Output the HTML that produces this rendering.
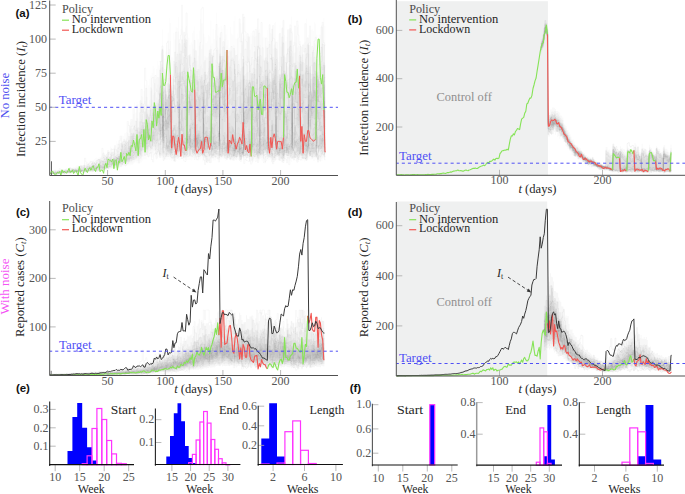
<!DOCTYPE html>
<html><head><meta charset="utf-8"><style>
html,body{margin:0;padding:0;background:#fff;}
body{width:685px;height:494px;overflow:hidden;}
svg{display:block;}
text{font-family:"Liberation Serif",serif;}
.sans{font-family:"Liberation Sans",sans-serif;font-weight:bold;}
</style></head><body>
<svg width="685" height="494" viewBox="0 0 685 494">
<rect width="685" height="494" fill="#fff"/>
<rect x="396.7" y="1.2" width="151.2" height="174.1" fill="#eff0f0"/>
<rect x="396.5" y="201.5" width="150.7" height="174.7" fill="#eff0f0"/>
<path d="M49.9 171.2H51.1V170.9H52.2V170.6H53.4V170.2H54.5V170H55.7V170.6H56.8V170.2H58V169.7H59.2V169.4H60.3V169.7H61.5V169H62.6V168.9H63.8H64.9H66.1V167.8H67.2V168.3H68.4V168H69.5V167.3H70.7V167.5H71.8V167.4H73V166.8H74.1V166.9H75.3V166.1H76.5V164.7H77.6V165H78.8V165.8H79.9V165.2H81.1V164.8H82.2V165.4H83.4V163.7H84.5V162.5H85.7V162.9H86.8V162.3H88V162.5H89.1V161.1H90.3V160.6H91.4V161.3H92.6V160H93.8V159H94.9V158.1H96.1V157.5H97.2V158.2H98.4V157.3H99.5V157.1H100.7V155.4H101.8V153.6H103V153.1H104.1V154.9H105.3V154.3H106.4V152.9H107.6V152.3H108.7V152.5H109.9V146.6H111.1V147.8H112.2V148.5H113.4V147.2H114.5V145.9H115.7V140.7H116.8V143.2H118V139.8H119.1V136.3H120.3V137.4H121.4V135.2H122.6V136H123.7V133.2H124.9V133.1H126V131.9H127.2V122.5H128.4V124.9H129.5V122.3H130.7V120.7H131.8V119H133V114H134.1V102.6H135.3V112.7H136.4V101.6H137.6V104H138.7V111.9H139.9V101.4H141V95.8H142.2V96.8H143.3V91H144.5V84.7H145.7V87.9H146.8V96.8H148V85.2H149.1V79.1H150.3V75.4H151.4V72.8H152.6V65.7H153.7V68.3H154.9V78.8H156V68.7H157.2V60.8H158.3V65.2H159.5V60.5H160.6V52.6H161.8V29.3H163V54.9H164.1V58.5H165.3V51.6H166.4V44.4H167.6V32.7H168.7V18.1H169.9V22.8H171V57.3H172.2V57.2H173.3V33H174.5V39.6H175.6V27H176.8V28.1H177.9V16.7H179.1V39.8H180.3V29.1H181.4V25.4H182.6V30.4H183.7V32.5H184.9V27.5H186V25.8H187.2V33.3H188.3V37.7H189.5V45.1H190.6V42.2H191.8V33H192.9V30.5H194.1V26.5H195.2V50.7H196.4V33.4H197.6V39.2H198.7V30.5H199.9V18.7H201V23.3H202.2V22.8H203.3V33.4H204.5V36.7H205.6V43.1H206.8V41.3H207.9V34.9H209.1V36.3H210.2V20.5H211.4V43.6H212.5V28.8H213.7V38.7H214.9V30H216V12.6H217.2V35.7H218.3V27.3H219.5V33.4H220.6V25.8H221.8V28.6H222.9V42H224.1V39H225.2V34.4H226.4V28.8H227.5V40.1H228.7V47.4H229.8V27H231V33.4H232.2V34.7H233.3V20.9H234.5V15.6H235.6V38.7H236.8V33.5H237.9V38.8H239.1V22.4H240.2V23.3H241.4V32.1H242.5V22.5H243.7V35.4H244.8V38.8H246V42.1H247.1V35.8H248.3V37.5H249.5V35.3H250.6V32.7H251.8V35.2H252.9V35.6H254.1V36.9H255.2V36.1H256.4V27.2H257.5V30.2H258.7V29H259.8V44.9H261V55.6H262.1V37.4H263.3V36.3H264.4V37.2H265.6V46.2H266.8V29.8H267.9V40.8H269.1V28.3H270.2V32.9H271.4V34H272.5V37.5H273.7V22.9H274.8V22H276V50.4H277.1V40H278.3V33.7H279.4V24.6H280.6V46.4H281.7V26.7H282.9V20.6H284V34.8H285.2V41.3H286.4V37.1H287.5V29.8H288.7V28.3H289.8V30.1H291V16.6H292.1V31H293.3V41.7H294.4V41.8H295.6V35.4H296.7V26.7H297.9V24.6H299V41H300.2V41.1H301.3V47.1H302.5V43.5H303.7V42.5H304.8V41.4H306V18.5H307.1V37.6H308.3V34.7H309.4V41.7H310.6V29.8H311.7V29H312.9V30.8H314V22.3H315.2V23.4H316.3V34.8H317.5V44.7H318.6V34.5H319.8V35.1H321V24.9H322.1V23.4H323.3V17.7H324.4V25.7H325.6V159.8H324.4V158.7H323.3V161.2H322.1V159.3H321V160.8H319.8V161.7H318.6V162.2H317.5V160.8H316.3V159.8H315.2V161H314H312.9V159.4H311.7V160.1H310.6V159.6H309.4V159.7H308.3V160.5H307.1V161.2H306V160.9H304.8V162.3H303.7V160.6H302.5V161H301.3V160.7H300.2V159.6H299V162.1H297.9V161.5H296.7H295.6V160.7H294.4V160.5H293.3V159.3H292.1V162H291V160.7H289.8V161.2H288.7V159.3H287.5V161.1H286.4V160.8H285.2V160.9H284V161.1H282.9H281.7V160.3H280.6V160.6H279.4V160.3H278.3V159.7H277.1V160.1H276V160.4H274.8V161.4H273.7V161.2H272.5V161.3H271.4V160.3H270.2V160H269.1V160.5H267.9V159.4H266.8V160.8H265.6V160.5H264.4V159.6H263.3V160.7H262.1V160.5H261V158.8H259.8V160.6H258.7V161.4H257.5V159.1H256.4V159.2H255.2V159.4H254.1V161.2H252.9V161.7H251.8V161.5H250.6V159.5H249.5V159.3H248.3V158.2H247.1V160.7H246V159.5H244.8V160.2H243.7V158.4H242.5V158.5H241.4V159.9H240.2V160.2H239.1V159.9H237.9V159.7H236.8V160.5H235.6V158.3H234.5V159.3H233.3V160H232.2V160.5H231V160H229.8V159.7H228.7V159H227.5V159.5H226.4V161.2H225.2V159.4H224.1V159.2H222.9V158.4H221.8V159.4H220.6V159.5H219.5V160H218.3H217.2V158.9H216V160.6H214.9V160.5H213.7V161H212.5V158.7H211.4V158.8H210.2V161.5H209.1V159.8H207.9V160.6H206.8V161.6H205.6V161.4H204.5V161.1H203.3V161.5H202.2V158.4H201V159.4H199.9V159.7H198.7V161.1H197.6V159.8H196.4V158.7H195.2V157.7H194.1V158.3H192.9V160.3H191.8V160.6H190.6V159.9H189.5V160.1H188.3V159.9H187.2V160.1H186V160.3H184.9V159.5H183.7V158.5H182.6V159.1H181.4V159.3H180.3V160.1H179.1V160.3H177.9V159H176.8V161.1H175.6V161.3H174.5V161.1H173.3V159.7H172.2V161H171V159.8H169.9V160.1H168.7V159.4H167.6V160.5H166.4V159.9H165.3V160.6H164.1V160.9H163V158.1H161.8V158.3H160.6V157.3H159.5V157H158.3V158.2H157.2V158H156V157H154.9V155.8H153.7V157.5H152.6V158.2H151.4V157.1H150.3V156.1H149.1V157.3H148V157.2H146.8V159.6H145.7V159.5H144.5H143.3V160.8H142.2V162.6H141V161.5H139.9V162.2H138.7V164.2H137.6V162.9H136.4V162.2H135.3V163.3H134.1V164.2H133V164.9H131.8V165.2H130.7V165.5H129.5V165.2H128.4V165.6H127.2V165.9H126V166H124.9V165.9H123.7V166.8H122.6V167.3H121.4V167.5H120.3V168.2H119.1V168.3H118V167.9H116.8V168.2H115.7V168.8H114.5V169.3H113.4V168.3H112.2V169.1H111.1V169.6H109.9V170H108.7H107.6V170.6H106.4V170.5H105.3H104.1V170.7H103V170.8H101.8V171H100.7V171.6H99.5V171.3H98.4V171.9H97.2V171.6H96.1V171.7H94.9V171.9H93.8V172.1H92.6V172.2H91.4V172.1H90.3V172H89.1V172.5H88V172.6H86.8H85.7V172.5H84.5V173H83.4V172.7H82.2V172.9H81.1V173H79.9V172.8H78.8V172.9H77.6V173.2H76.5V173.1H75.3V173.4H74.1V173.5H73V173.6H71.8V173.9H70.7V173.7H69.5V173.6H68.4V173.8H67.2H66.1H64.9V174.1H63.8V173.9H62.6V174H61.5V174.1H60.3H59.2H58H56.8H55.7H54.5V174.3H53.4V174.1H52.2V174.3H51.1V174.2H49.9Z" fill="#000" fill-opacity="0.012"/><path d="M49.9 171.7H51.1V171.3H52.2H53.4V171H54.5V170.6H55.7V171.1H56.8V170.8H58V170.5H59.2V170.1H60.3V170.4H61.5V169.8H62.6V169.5H63.8V169.8H64.9V169.6H66.1V168.8H67.2V169.1H68.4V168.9H69.5V168.2H70.7H71.8V168.4H73V168.2H74.1H75.3V168H76.5V167.3H77.6V166.9H78.8H79.9V166.4H81.1V166.3H82.2V166.4H83.4V165.2H84.5H85.7V165.4H86.8V164.4H88V164.3H89.1V164.2H90.3V164.1H91.4V163.1H92.6V162.2H93.8V161.9H94.9V161.1H96.1V160.7H97.2V160H98.4V159.3H99.5V158.8H100.7V159H101.8V158.3H103V157.2H104.1V157.3H105.3V156.9H106.4V156.6H107.6V155.7H108.7V155.8H109.9V153.5H111.1V152.5H112.2V151.4H113.4V150.3H114.5V149.5H115.7V148.9H116.8V147.2H118V147H119.1V142.6H120.3V144.3H121.4V141.9H122.6V141.8H123.7V140.2H124.9V140.5H126V137.8H127.2V132.8H128.4V133.7H129.5V129.1H130.7V127.6H131.8V128.2H133V126.2H134.1V124.4H135.3V121H136.4V117.7H137.6V118.4H138.7V120.9H139.9V114.4H141V108.9H142.2V107H143.3V103.8H144.5V101.1H145.7V96.4H146.8V104.8H148V104.5H149.1V99.8H150.3V91.1H151.4V89.2H152.6V84.3H153.7V83.6H154.9V92H156V88.6H157.2V84.5H158.3V76.9H159.5V68.2H160.6V64.2H161.8V48.5H163V80.7H164.1V71.4H165.3V69.3H166.4V67H167.6V52.3H168.7V49H169.9V41.1H171V74.7H172.2V73.6H173.3V64H174.5V63.8H175.6V56.4H176.8V52.6H177.9V31.6H179.1V60.5H180.3V59.1H181.4V45.6H182.6V55.6H183.7V48.8H184.9V40.5H186V42.1H187.2V55.8H188.3V55.5H189.5V56.3H190.6V56.6H191.8V44.2H192.9V48.7H194.1V40.5H195.2V60.8H196.4V60.6H197.6V55.6H198.7V45.8H199.9V42.3H201V49H202.2V44.6H203.3V61.7H204.5V55.9H205.6V57.3H206.8V57.5H207.9V56.5H209.1V51H210.2V45.4H211.4V57.2H212.5V52.9H213.7V52.2H214.9V59.7H216V40.4H217.2V47.5H218.3V49.4H219.5V56.4H220.6V60.3H221.8V58.3H222.9V55.8H224.1V59.6H225.2V53.6H226.4V45.6H227.5V56.8H228.7V62.2H229.8V50.6H231V50.7H232.2V57.2H233.3V45.2H234.5V50.3H235.6V55H236.8V53.9H237.9V60.4H239.1V58.4H240.2V52.7H241.4V45.1H242.5V38.2H243.7V62.8H244.8V60.7H246V61.3H247.1V56.3H248.3V58.3H249.5V49.7H250.6V44.1H251.8V56.7H252.9V59H254.1V51.7H255.2V58H256.4V45.7H257.5V44.8H258.7V47.1H259.8V65.5H261V66.3H262.1V59.6H263.3V58.4H264.4V57.6H265.6V60.1H266.8V54.3H267.9V61.9H269.1V49.2H270.2V57.5H271.4V56.4H272.5V48.6H273.7V44.5H274.8V41.4H276V65.4H277.1V57.3H278.3V62H279.4V56.3H280.6V56.4H281.7V41.5H282.9V42.1H284V54.5H285.2V57.2H286.4V52.8H287.5V52.7H288.7V46.9H289.8V41.5H291V39.8H292.1V56.4H293.3V53.1H294.4V52.2H295.6V43H296.7V47.6H297.9V45.7H299V51.2H300.2V54.8H301.3V62H302.5V59.9H303.7V62.9H304.8V58.7H306V53.8H307.1V44.7H308.3V46.3H309.4V53.8H310.6V56.8H311.7V52H312.9V47.6H314V42.7H315.2V44.6H316.3V59.1H317.5V55.5H318.6V57.5H319.8V53.2H321V46.9H322.1V44H323.3V39.9H324.4V66H325.6V157.5H324.4V156.9H323.3V158H322.1V157.3H321V157.9H319.8V158.6H318.6V159.2H317.5V157.6H316.3V157.9H315.2V157.4H314V157.6H312.9V157.7H311.7V156.7H310.6V157.1H309.4V157.7H308.3V158.8H307.1V158.4H306V158.6H304.8V158.9H303.7V158.8H302.5V158.2H301.3V158.1H300.2V158.2H299V158.8H297.9V158.6H296.7V157.8H295.6V158.3H294.4V157.2H293.3V157.6H292.1V158.5H291V158.1H289.8V158.9H288.7V157.4H287.5V158.1H286.4V157.5H285.2V158.1H284V158.4H282.9V158.8H281.7V157.7H280.6V156.9H279.4V158.5H278.3V156.9H277.1V156.7H276V158.5H274.8V157.8H273.7V159.3H272.5V157.7H271.4V157.9H270.2H269.1V157.2H267.9V157.8H266.8V157.9H265.6H264.4V158.2H263.3V157.5H262.1V158.1H261V157.3H259.8V157.9H258.7V158.9H257.5V157.4H256.4V157H255.2V157.8H254.1V159H252.9V157.3H251.8V158H250.6V156.7H249.5V157H248.3V156.5H247.1V158.4H246V156.6H244.8V157.9H243.7V157.2H242.5V156.2H241.4V158.3H240.2V157.5H239.1V156.7H237.9V157.6H236.8V157.2H235.6V156.8H234.5V157H233.3V158.5H232.2V158.3H231V157.5H229.8V156.4H228.7V157.7H227.5V157.4H226.4V157.8H225.2V156.8H224.1V156.3H222.9V156.1H221.8V157.6H220.6V156.5H219.5V158H218.3V158.6H217.2V156.3H216V157.7H214.9V157.5H213.7V158.3H212.5V157H211.4V157.2H210.2H209.1V158.5H207.9V157.2H206.8V158.5H205.6V158.2H204.5V158.5H203.3V157.2H202.2V155.5H201V156.8H199.9V157.4H198.7H197.6V157.3H196.4V157.7H195.2V155.3H194.1V156H192.9V156.7H191.8V157.4H190.6V157H189.5V157.3H188.3V157H187.2V157.5H186V158.1H184.9V158H183.7V156.9H182.6V157H181.4V157.1H180.3V156.9H179.1V158.2H177.9V157.4H176.8V157.8H175.6H174.5V157.7H173.3V158H172.2V158.8H171V157.3H169.9V156.8H168.7V157.1H167.6V157.3H166.4V157.2H165.3V157H164.1V156.5H163V155.6H161.8V154.4H160.6V154.7H159.5V154.8H158.3V152.9H157.2V154.9H156V153.6H154.9V151H153.7V153.4H152.6V153.3H151.4V153.8H150.3H149.1V154.3H148V155.2H146.8V154.9H145.7V155.5H144.5V155.8H143.3V156.9H142.2V159.6H141V158.9H139.9V158.8H138.7V161.3H137.6V161H136.4V160.5H135.3V161.7H134.1V162.5H133V163.4H131.8V163.6H130.7V163.4H129.5V163.7H128.4V164.4H127.2V164.6H126V164.9H124.9H123.7V165.4H122.6V165.8H121.4V166.3H120.3V166.5H119.1V166.8H118H116.8V167.4H115.7V167.8H114.5V167.9H113.4V168.1H112.2V168.3H111.1V168.7H109.9V169.2H108.7H107.6V169.4H106.4V169.7H105.3V169.8H104.1V170.1H103H101.8H100.7V170.8H99.5H98.4V171.3H97.2H96.1H94.9V171.5H93.8H92.6H91.4V171.7H90.3V171.8H89.1V171.9H88V172.1H86.8V171.9H85.7V172.1H84.5V172.3H83.4H82.2V172.5H81.1V172.4H79.9V172.5H78.8V172.6H77.6V172.9H76.5V172.8H75.3V173H74.1V173.1H73V173.2H71.8V173.4H70.7H69.5H68.4V173.5H67.2H66.1V173.7H64.9H63.8V173.8H62.6V173.9H61.5V173.8H60.3V173.9H59.2H58H56.8H55.7V174H54.5V174.1H53.4V174H52.2V174.1H51.1V174H49.9Z" fill="#000" fill-opacity="0.015"/><path d="M49.9 172H51.1V171.9H52.2V171.8H53.4V171.6H54.5V171.4H55.7V171.6H56.8V171.3H58V171H59.2V170.9H60.3V170.8H61.5V170.5H62.6V170.1H63.8V170.3H64.9V170.1H66.1V169.8H67.2H68.4V169.5H69.5V169.4H70.7H71.8V169.1H73V169H74.1V168.8H75.3V168.7H76.5V168.4H77.6V168.2H78.8V167.5H79.9V167.7H81.1V167.4H82.2V167.6H83.4V166.9H84.5V166.7H85.7V166.5H86.8V166H88V165.8H89.1V165.7H90.3V165.2H91.4V164.7H92.6V163.9H93.8V163.7H94.9V163.1H96.1V162.8H97.2V162.7H98.4V161.9H99.5V161H100.7V160.6H101.8V160.7H103V159.2H104.1V159.1H105.3V158.6H106.4V158.9H107.6V158.2H108.7V157.3H109.9V156.8H111.1V155.7H112.2V155.5H113.4V154.2H114.5V152.7H115.7V152.6H116.8V151.9H118V150.9H119.1V149.2H120.3V148.5H121.4V146.3H122.6V145.8H123.7V145H124.9V144.9H126V142.5H127.2V141.2H128.4V139.3H129.5V135.8H130.7V132.8H131.8V133.6H133V133H134.1V130H135.3V127H136.4V128H137.6V127.2H138.7V127.7H139.9V121.3H141V119H142.2V115.5H143.3V110.9H144.5V112.3H145.7V106.4H146.8V112.4H148V110.1H149.1V106.3H150.3V104.4H151.4V99.7H152.6V94.8H153.7V93H154.9V102.4H156V97.6H157.2V90.4H158.3V90.6H159.5V85.5H160.6V80.1H161.8V64.5H163V92.1H164.1V81.8H165.3V82.5H166.4V83.8H167.6V78.1H168.7V66.9H169.9V62.5H171V89.5H172.2V87.2H173.3V79.7H174.5V77.4H175.6V74.3H176.8V67.3H177.9V60H179.1V73.5H180.3V72.1H181.4V70.2H182.6V68.4H183.7V67.3H184.9V55.5H186V62.8H187.2V69.7H188.3V72.2H189.5V68.3H190.6V70H191.8V61.4H192.9V62.4H194.1V58H195.2V75.8H196.4V76H197.6V64.6H198.7V69.3H199.9V65.9H201V64.5H202.2V68.3H203.3V73.8H204.5V71.9H205.6V74H206.8V75.6H207.9V68H209.1V66.3H210.2V56.5H211.4V71.2H212.5V63.3H213.7V72.2H214.9V71.2H216V64.8H217.2V61.5H218.3V63.7H219.5V65.8H220.6V68.1H221.8V69.8H222.9V70.4H224.1V68.9H225.2V69.1H226.4V59.7H227.5V77.8H228.7V76.5H229.8V76.9H231V71.2H232.2V68.5H233.3V60.2H234.5V63.3H235.6V73.9H236.8V70.9H237.9V69.7H239.1V71.3H240.2V68H241.4V67.2H242.5V59H243.7V76.2H244.8V73.9H246V72.7H247.1V71.9H248.3V72H249.5V70.4H250.6V62.4H251.8V73H252.9V72.1H254.1V67.7H255.2V68.8H256.4V63.9H257.5V59.2H258.7V58.4H259.8V77.5H261V79.9H262.1V73.2H263.3V73.6H264.4V74.6H265.6V70.9H266.8V70.7H267.9V73.7H269.1V68.9H270.2V70.4H271.4H272.5V63.1H273.7V58.4H274.8V62.1H276V75.3H277.1V76H278.3V74.1H279.4V68.4H280.6V66.1H281.7V63.5H282.9V58.5H284V73.4H285.2V71.8H286.4V66H287.5V67.2H288.7V63.4H289.8V56.1H291V53.3H292.1V76.5H293.3V68.9H294.4V65.8H295.6V65.2H296.7V60.5H297.9V61.8H299V62.8H300.2V73.3H301.3V77.9H302.5V73.4H303.7V70H304.8V71.7H306V66.8H307.1V64.4H308.3V67.3H309.4V69.2H310.6V74H311.7V64.4H312.9V61.9H314V61.8H315.2V61H316.3V72.4H317.5V71.1H318.6V72H319.8V68.7H321V64.4H322.1V56.2H323.3V55.9H324.4V74.2H325.6V153.8H324.4V155.2H323.3V155.6H322.1V154.9H321V155.5H319.8V155.2H318.6V155.9H317.5V155.3H316.3V155H315.2V154.7H314H312.9V155.6H311.7V154.2H310.6V154.3H309.4H308.3V157.1H307.1V156.9H306V156.4H304.8V156.9H303.7V156.1H302.5H301.3V155.5H300.2V154.9H299V154.7H297.9V156.3H296.7V155.4H295.6V155.7H294.4V155.5H293.3V155.2H292.1V155H291V155.7H289.8V155H288.7V155.5H287.5V155.6H286.4V155.2H285.2V155.1H284V155.9H282.9V155H281.7V155.3H280.6V155.4H279.4V155.2H278.3V155.3H277.1V154.8H276V156H274.8V155H273.7V155.3H272.5H271.4V155H270.2V154.9H269.1V154.7H267.9V155.3H266.8V155.1H265.6V154.9H264.4V155.7H263.3V155.3H262.1V155.4H261V155H259.8V155.5H258.7V155.8H257.5V155.5H256.4V154.4H255.2V156H254.1V155.7H252.9H251.8V155.1H250.6V155.2H249.5V154.8H248.3V155H247.1V154.9H246V154.8H244.8V155.7H243.7V155.3H242.5V153.8H241.4V155.5H240.2V154.7H239.1V154.8H237.9V154.9H236.8V155.4H235.6V154.8H234.5V155.4H233.3V155.1H232.2V155.5H231V155H229.8V154.5H228.7V155H227.5V154.7H226.4H225.2V154.6H224.1V153.9H222.9V154.2H221.8V155.3H220.6V154.6H219.5V155.6H218.3V155.4H217.2V154.1H216V155.6H214.9V155.4H213.7V155.5H212.5V154.7H211.4V155.2H210.2V155.3H209.1V156.6H207.9V155.3H206.8V156.1H205.6V156.3H204.5V155.1H203.3V154.4H202.2V153.8H201V154.5H199.9V154.6H198.7V155.3H197.6V154.9H196.4V155.7H195.2V153.5H194.1V152.9H192.9V153.6H191.8V154.5H190.6H189.5V154.7H188.3V154.3H187.2V155.4H186V154.7H184.9V155.8H183.7V154H182.6V154.7H181.4V154.6H180.3V153.9H179.1V155.8H177.9V156.2H176.8V155.3H175.6V155.6H174.5V154.7H173.3V156.1H172.2V156.4H171V155.3H169.9V153.9H168.7V154.8H167.6V154.9H166.4V155.3H165.3V154.4H164.1V154.5H163V150.2H161.8V150.5H160.6V150.8H159.5V149.7H158.3V150.3H157.2V149.3H156V150.6H154.9V147H153.7V150.1H152.6V149.8H151.4V151.1H150.3V151.3H149.1V150.6H148V151.9H146.8V150.8H145.7V152.3H144.5V152.7H143.3V153.3H142.2V155.5H141V156.9H139.9H138.7V157.8H137.6V158.7H136.4V158.5H135.3V159.7H134.1V159.9H133V161H131.8V161.7H130.7V162H129.5V162.4H128.4V163.1H127.2V163.5H126V163.8H124.9V164.2H123.7V164.4H122.6V165.3H121.4V165H120.3V165.3H119.1V165.9H118V165.7H116.8V166.7H115.7V167.1H114.5V167.2H113.4V167.3H112.2V167.5H111.1V167.9H109.9V168.3H108.7V168.6H107.6V168.8H106.4V169H105.3V169.2H104.1V169.5H103V169.8H101.8V169.6H100.7V170.1H99.5V170.4H98.4V170.7H97.2V170.8H96.1H94.9V171H93.8V171.1H92.6H91.4V171.4H90.3H89.1V171.6H88V171.7H86.8H85.7V171.8H84.5V171.7H83.4V171.9H82.2V172H81.1V172.3H79.9V172.1H78.8V172.4H77.6V172.5H76.5H75.3V172.7H74.1V172.8H73H71.8V173H70.7V173.2H69.5V173.1H68.4V173.2H67.2V173.3H66.1V173.4H64.9V173.5H63.8V173.6H62.6H61.5H60.3V173.7H59.2V173.8H58H56.8H55.7V173.9H54.5H53.4H52.2H51.1H49.9Z" fill="#000" fill-opacity="0.017"/><path d="M49.9 172.4H51.1V172.3H52.2V172.1H53.4H54.5V172H55.7V171.9H56.8V171.7H58V171.5H59.2V171.2H60.3V171.3H61.5V171H62.6V170.7H63.8V170.9H64.9V170.6H66.1V170.5H67.2V170.3H68.4V170.1H69.5V170H70.7V170.1H71.8V169.8H73V169.5H74.1V169.4H75.3V169.3H76.5V169.2H77.6V168.7H78.8V168.4H79.9V168.6H81.1V168.3H82.2V168.2H83.4V167.7H84.5H85.7V167.3H86.8V167.1H88V166.8H89.1V166.6H90.3V166.5H91.4V165.9H92.6V165.4H93.8V165.2H94.9V164.7H96.1V164.2H97.2V164.1H98.4V163.7H99.5V162.2H100.7H101.8V161.7H103V161.3H104.1V161.4H105.3V160.7H106.4V160.5H107.6V159.7H108.7V159.4H109.9V158.5H111.1V157.8H112.2V157.2H113.4V156.5H114.5V155.5H115.7V155.2H116.8V154.1H118V154H119.1V153.2H120.3V152.2H121.4V150H122.6V149.5H123.7V148.4H124.9V147.2H126V146.2H127.2V144.9H128.4V142.4H129.5V141.6H130.7V139.8H131.8V138.4H133V135.9H134.1V135.7H135.3V133.1H136.4V133.6H137.6V131.2H138.7V131H139.9V127.6H141V125.3H142.2V122.1H143.3V121.5H144.5V120.1H145.7V115.3H146.8V119.9H148V117H149.1V113.5H150.3V109.6H151.4V109.1H152.6V103.5H153.7V103.9H154.9V108.2H156V105.4H157.2V101.3H158.3V99.7H159.5V93.6H160.6V86.5H161.8V77.6H163V104.3H164.1V96.8H165.3V94.6H166.4V94.8H167.6V91.5H168.7V83.7H169.9V81.9H171V100.3H172.2V97.3H173.3V94.2H174.5V86.6H175.6V88.5H176.8V83.9H177.9V78.9H179.1V86.3H180.3V84.6H181.4V80.7H182.6V76.7H183.7V80.1H184.9V71.9H186V78.4H187.2V81.9H188.3V84.7H189.5V78.8H190.6V80.6H191.8V74.7H192.9V73.7H194.1V73.1H195.2V92.6H196.4V86.9H197.6V81.3H198.7V81.4H199.9V79.6H201V77.2H202.2V80.9H203.3V89.5H204.5V86.8H205.6V85H206.8V83.3H207.9V82.1H209.1V77.9H210.2V76.4H211.4V87.5H212.5V86.1H213.7V83H214.9V80.5H216V78.3H217.2V75.7H218.3V71.4H219.5V84.6H220.6V82.7H221.8V83H222.9V79.4H224.1V81H225.2V78.2H226.4V72.1H227.5V91.2H228.7V87.4H229.8V88.2H231V84.2H232.2V80.8H233.3V79.2H234.5V73.9H235.6V83.3H236.8V82.4H237.9V81.8H239.1V85H240.2V79.4H241.4V79.8H242.5V74.4H243.7V90.3H244.8V84.8H246V82.3H247.1V84.6H248.3V81.6H249.5V79.9H250.6V73.5H251.8V88H252.9V87.5H254.1V84.8H255.2V81.7H256.4V77.7H257.5V76.4H258.7V76.2H259.8V91.5H261V91H262.1V84.5H263.3V86H264.4V87H265.6V86H266.8V85.5H267.9V87.9H269.1V79.6H270.2V81.3H271.4V84.9H272.5V82H273.7V76.3H274.8V76.2H276V86.1H277.1V88.7H278.3V83.1H279.4V77.3H280.6V78.5H281.7V72.7H282.9V73.2H284V85.8H285.2V83.6H286.4V83.8H287.5V79.8H288.7V78.4H289.8V72.3H291V69.7H292.1V85.4H293.3V83H294.4V78.9H295.6V78.8H296.7V75.7H297.9V78.5H299V73.6H300.2V87.4H301.3V91.8H302.5V83.5H303.7V82.2H304.8V80.5H306V78.9H307.1V78.4H308.3V84H309.4V81.2H310.6V83.4H311.7V78.2H312.9V74.1H314V72.2H315.2V71.1H316.3V84.3H317.5V81.8H318.6V82.5H319.8V80.6H321V77.7H322.1V72.3H323.3V68.6H324.4V84.1H325.6V151.5H324.4V152.7H323.3V152.9H322.1V151.8H321V151.9H319.8H318.6V152.2H317.5V152.3H316.3V152.4H315.2V152.5H314V152.6H312.9H311.7V152.4H310.6V152.3H309.4V151.9H308.3V153.9H307.1V154.2H306V153.6H304.8H303.7V153.4H302.5V152.7H301.3V153.3H300.2V152.7H299V152.3H297.9V153.2H296.7V152.6H295.6V153.3H294.4V152.7H293.3H292.1V152.2H291V153H289.8V152.6H288.7V152.5H287.5V152.6H286.4V152.7H285.2V152.6H284V152.8H282.9V152.3H281.7V152.9H280.6V152.8H279.4H278.3V152.7H277.1V152.4H276V153.1H274.8H273.7V151.5H272.5V152.6H271.4V152.2H270.2V151.6H269.1V151.9H267.9V152.9H266.8V152.7H265.6V153H264.4V152.6H263.3V153.7H262.1V152.9H261V153H259.8V152.9H258.7V152.8H257.5V152.5H256.4V152.4H255.2V153.8H254.1V153.6H252.9V152.7H251.8V152.6H250.6V152.3H249.5V152.4H248.3H247.1V152.5H246V152.7H244.8V153.4H243.7V152.4H242.5V151.8H241.4V152.9H240.2V152.7H239.1V152.5H237.9V152.6H236.8V151.8H235.6V152.5H234.5V152.3H233.3V152.5H232.2V153.4H231V152.8H229.8V151.6H228.7V152.6H227.5V151.6H226.4V152.5H225.2V152.4H224.1V152.3H222.9V152.4H221.8V153H220.6V152.4H219.5V152.9H218.3V152.7H217.2V152H216V152.2H214.9V153H213.7V152.3H212.5V151.3H211.4V153H210.2V153.1H209.1V153.5H207.9V153.1H206.8V153.3H205.6V153.7H204.5V153.2H203.3V152.6H202.2V152.1H201V151.7H199.9V151.9H198.7V152.2H197.6V152.5H196.4V152H195.2V150.8H194.1V150H192.9V150.6H191.8V150.8H190.6V151.9H189.5V151.3H188.3V151.5H187.2V152.2H186V152.7H184.9V153.3H183.7V151.8H182.6V152.2H181.4V151.8H180.3V151.6H179.1V152.9H177.9V154.3H176.8V153H175.6V152.7H174.5H173.3V152.9H172.2V154.1H171V152.6H169.9V151.4H168.7V151.2H167.6V152.4H166.4H165.3V151.3H164.1V152H163V142.9H161.8V145H160.6V145.1H159.5V145.8H158.3V147.5H157.2V145.9H156V146.6H154.9V143.9H153.7V145H152.6V145.9H151.4V147H150.3V146.8H149.1V147.1H148V148.8H146.8V149.1H145.7V149.8H144.5V150.3H143.3V151.5H142.2V152.6H141V154.2H139.9V154.1H138.7V155.1H137.6V156.6H136.4V156.9H135.3V157.8H134.1V158.7H133V159H131.8V160.5H130.7V160.2H129.5V160.6H128.4V161.6H127.2V162.2H126V162.4H124.9V163.1H123.7V163.5H122.6V164.4H121.4V164H120.3V164.4H119.1V164.8H118H116.8V165.7H115.7V165.9H114.5H113.4V166.5H112.2V166.8H111.1V166.9H109.9V167.4H108.7V168H107.6V168.1H106.4V168.2H105.3V168.4H104.1V168.9H103V169.1H101.8V168.7H100.7V169.6H99.5V169.9H98.4V170H97.2V170.2H96.1V170.4H94.9V170.5H93.8H92.6V170.7H91.4V170.8H90.3V171.1H89.1H88V171.3H86.8H85.7V171.4H84.5V171.3H83.4V171.6H82.2V171.8H81.1V171.9H79.9H78.8V172.1H77.6H76.5V172.2H75.3V172.4H74.1V172.6H73H71.8V172.7H70.7V172.8H69.5H68.4V172.9H67.2V173.1H66.1V173.2H64.9V173.3H63.8H62.6V173.5H61.5V173.4H60.3V173.5H59.2V173.6H58H56.8V173.7H55.7H54.5H53.4V173.8H52.2H51.1H49.9Z" fill="#000" fill-opacity="0.019"/><path d="M49.9 172.7H51.1H52.2V172.5H53.4H54.5V172.3H55.7V172.2H56.8V172.1H58H59.2V171.7H60.3H61.5V171.5H62.6V171.3H63.8H64.9V171.1H66.1V171H67.2V170.9H68.4V170.8H69.5V170.5H70.7H71.8V170.3H73V169.9H74.1V169.8H75.3V170H76.5V169.8H77.6V169.5H78.8V169.2H79.9H81.1V169H82.2V168.9H83.4V168.7H84.5V168.4H85.7V168.2H86.8V168.1H88V167.8H89.1H90.3V167.3H91.4V167H92.6V166.2H93.8V166.3H94.9V166.1H96.1V165.5H97.2V165.2H98.4V164.9H99.5V163.6H100.7V163.5H101.8V162.9H103V162.6H104.1V162.7H105.3V162.3H106.4V161.7H107.6V161.4H108.7V160.9H109.9V160.2H111.1H112.2V159.5H113.4V158.7H114.5V158.4H115.7V157.5H116.8V156.8H118V156H119.1V155.8H120.3V154.6H121.4V153H122.6V152.4H123.7V151.1H124.9V151H126V150.3H127.2V147.8H128.4V147.2H129.5V145.4H130.7V144.2H131.8V142.7H133V140.3H134.1V141.4H135.3V139.4H136.4V137H137.6V137.1H138.7V134.6H139.9V132.7H141V131.7H142.2V129.3H143.3V128.2H144.5V126.5H145.7V122.5H146.8V124.6H148V123.1H149.1V122.2H150.3V118.4H151.4V116.8H152.6V112.7H153.7V112.1H154.9V114.8H156V112.7H157.2V110.7H158.3V107.6H159.5V102.8H160.6V98.4H161.8V92.2H163V116H164.1V110.1H165.3V105H166.4V106.1H167.6V100.2H168.7V94H169.9V94.2H171V110.6H172.2V108.9H173.3V109.6H174.5V104.4H175.6V105.5H176.8V101.4H177.9V99.4H179.1H180.3V95.5H181.4V93.9H182.6V88.5H183.7V94.1H184.9V88.1H186V92.4H187.2V93H188.3V93.9H189.5V92.5H190.6V90.9H191.8V88.4H192.9V84.2H194.1V85.3H195.2V101.2H196.4V99.8H197.6V96.3H198.7V96.9H199.9V95.6H201V92.2H202.2V92.5H203.3V99.5H204.5V98.9H205.6V97.4H206.8V97.9H207.9V98.8H209.1V91.9H210.2V92.9H211.4V98.6H212.5V98H213.7V95.2H214.9V91.8H216V88.7H217.2V92.4H218.3V86.7H219.5V97.8H220.6V95.1H221.8V95.8H222.9V93.2H224.1V91.5H225.2V90.9H226.4V86.8H227.5V101.9H228.7V99.9H229.8V99H231V97.6H232.2V93.8H233.3V92.2H234.5V92.6H235.6V99.9H236.8V96.9H237.9V96.1H239.1H240.2V96.2H241.4V92.8H242.5V87.9H243.7V101.2H244.8V98H246V92.7H247.1V98.3H248.3V92.2H249.5V92.8H250.6V90.9H251.8V100.8H252.9V98.6H254.1V96.4H255.2H256.4V92.2H257.5V91.1H258.7V90.2H259.8V104.2H261H262.1V100.6H263.3V103.7H264.4V98.6H265.6V101.9H266.8V100.1H267.9V98.3H269.1V91.6H270.2V95.5H271.4V98.4H272.5V92.6H273.7V87.7H274.8V86.1H276V101.7H277.1V99.9H278.3V96.6H279.4V92.9H280.6V92H281.7V90.7H282.9V87.9H284V95.3H285.2V98.2H286.4V97H287.5V95.6H288.7V93H289.8V89.6H291V86.9H292.1V97.8H293.3V97.3H294.4V92H295.6V91.8H296.7V89.7H297.9V91.4H299V88H300.2V101.8H301.3V103.6H302.5V99.9H303.7V98.3H304.8V97.1H306V92.7H307.1V94.4H308.3V95.4H309.4V93.5H310.6V94H311.7V92.3H312.9V89.8H314V90.3H315.2V88.6H316.3V95.9H317.5V95.1H318.6V95.8H319.8V94.7H321V92.7H322.1V88.6H323.3V85.4H324.4V96.9H325.6V148.2H324.4V148.8H323.3V148.7H322.1V148.9H321V148.5H319.8H318.6V148.6H317.5V148.5H316.3V150H315.2V149.8H314V149.5H312.9V148.9H311.7V150.3H310.6V149.6H309.4V149H308.3V150.1H307.1V150.2H306V150.8H304.8V150H303.7V150.1H302.5V150.4H301.3V150.7H300.2V149.7H299V149.6H297.9H296.7V149.3H295.6V149.4H294.4V150.1H293.3V149.5H292.1V149.3H291V150H289.8V149.8H288.7V149.1H287.5V149.2H286.4H285.2V149.6H284V149.7H282.9V149.3H281.7V149.6H280.6V149.9H279.4V150H278.3V149.7H277.1V148H276V149.6H274.8V149.2H273.7V148.7H272.5V148.2H271.4V149.2H270.2V148.3H269.1V147.5H267.9V149.7H266.8V149.3H265.6V149.8H264.4V149.9H263.3V150H262.1V149.4H261V150.1H259.8V149.7H258.7V150.2H257.5V149.7H256.4V149.5H255.2V150.5H254.1V150.7H252.9V149.8H251.8H250.6V149.1H249.5V149.6H248.3V150.1H247.1V149.5H246V149.8H244.8V150.1H243.7V149.2H242.5V149.1H241.4H240.2V150.5H239.1V150.1H237.9V148.9H236.8V149H235.6V149.1H234.5V150H233.3V149.9H232.2V149.7H231V149.4H229.8V149H228.7V149.1H227.5V149H226.4V149.8H225.2V149.4H224.1V148.8H222.9V149.3H221.8V149.2H220.6V149.3H219.5V150.1H218.3V149.5H217.2V148.5H216V149H214.9V149.6H213.7V148.9H212.5V149H211.4V149.8H210.2V150.2H209.1V148.8H207.9V148.9H206.8V150.8H205.6V149.9H204.5V150.5H203.3V149.2H202.2V148.8H201V149.1H199.9H198.7V148.7H197.6V149H196.4V149.4H195.2V147.1H194.1V147.4H192.9V147H191.8V147.4H190.6V147.7H189.5V147.8H188.3V148.6H187.2V149.1H186V149.3H184.9V149.2H183.7V148.5H182.6V149.5H181.4V147.8H180.3V148.1H179.1V150H177.9V151H176.8V150H175.6V149.5H174.5V150H173.3V150.1H172.2V149.7H171V148.6H169.9H168.7V148.8H167.6V149H166.4V148.3H165.3V148.1H164.1V148.2H163V136.7H161.8V137.7H160.6V139.8H159.5V140.9H158.3V141.2H157.2V140.8H156V141.1H154.9V140.3H153.7H152.6V142.4H151.4V142.8H150.3V143.2H149.1V144.1H148V144.6H146.8H145.7V146H144.5V147.1H143.3V148.2H142.2V149.4H141V151.3H139.9V152H138.7V152.4H137.6V154H136.4V154.5H135.3V155H134.1V156.3H133V156.6H131.8V158.4H130.7V158.2H129.5V158.9H128.4V159.6H127.2V160.4H126V160.6H124.9V161.2H123.7V162.4H122.6V162.9H121.4V162.8H120.3V163.3H119.1V163.7H118H116.8V164.4H115.7V164.8H114.5V164.9H113.4V165.4H112.2V166H111.1V166.1H109.9V166.4H108.7V167.1H107.6V167.2H106.4V167.3H105.3V167.7H104.1V168.1H103V168.2H101.8H100.7V168.9H99.5V169.3H98.4H97.2V169.5H96.1V169.8H94.9V170.1H93.8V170H92.6V170.2H91.4H90.3V170.6H89.1V170.7H88V170.9H86.8H85.7V171.1H84.5V170.9H83.4V171.2H82.2V171.4H81.1V171.5H79.9H78.8V171.7H77.6H76.5H75.3V171.9H74.1V172.2H73V172.1H71.8V172.3H70.7V172.6H69.5H68.4H67.2V172.8H66.1V173H64.9H63.8V173.1H62.6V173.2H61.5H60.3V173.3H59.2V173.4H58H56.8V173.5H55.7H54.5V173.6H53.4V173.7H52.2V173.6H51.1H49.9Z" fill="#000" fill-opacity="0.019"/><path d="M49.9 173H51.1H52.2V172.9H53.4V172.8H54.5V172.6H55.7H56.8V172.5H58V172.4H59.2V172.1H60.3H61.5V171.9H62.6H63.8V171.7H64.9V171.6H66.1V171.5H67.2V171.3H68.4H69.5V171.1H70.7V171H71.8V170.8H73V170.5H74.1V170.3H75.3V170.4H76.5V170.3H77.6V170.2H78.8V169.9H79.9V170H81.1V169.8H82.2V169.5H83.4V169.2H84.5V169H85.7H86.8V168.8H88V168.6H89.1H90.3V167.9H91.4H92.6V167.3H93.8V167.2H94.9V166.9H96.1V166.7H97.2V166.2H98.4V166.1H99.5V165.1H100.7V164.8H101.8V164.6H103V164.1H104.1V163.7H105.3V163.6H106.4V162.9H107.6V162.6H108.7V162.2H109.9V161.9H111.1V161.5H112.2V161.2H113.4V160.3H114.5V159.9H115.7V159.4H116.8V158.4H118V158H119.1H120.3V156.8H121.4V155.9H122.6V155.1H123.7V153.8H124.9V153.5H126V152.4H127.2V150.7H128.4V150.3H129.5V148.5H130.7V148.4H131.8V146.7H133V144.7H134.1V144.6H135.3V142.7H136.4V141.5H137.6V140.8H138.7V138.6H139.9V137.6H141V136.2H142.2V134.4H143.3V132.8H144.5V130.8H145.7V129.4H146.8V130.3H148V129.2H149.1V127.9H150.3V124.1H151.4V124H152.6V119.9H153.7V118.4H154.9V122.5H156V118.9H157.2V118.3H158.3V115.7H159.5V112.9H160.6V107.9H161.8V103.7H163V122.3H164.1V121.9H165.3V119.9H166.4V117.2H167.6V112.5H168.7V111.3H169.9V108.2H171V125.5H172.2V127.2H173.3V126.4H174.5V126.7H175.6V123H176.8V126.2H177.9V121.3H179.1V112.3H180.3V111.3H181.4V109.5H182.6V104.8H183.7V106.8H184.9V106.4H186V106.6H187.2V105.9H188.3V107.1H189.5V106.2H190.6V102.3H191.8V99.7H192.9V98.3H194.1V101.3H195.2V113.6H196.4V112.7H197.6V111H198.7V111.2H199.9V109.6H201V108.5H202.2V106H203.3V117.7H204.5V116.5H205.6V115.8H206.8V115H207.9V117.3H209.1V109.8H210.2V111H211.4V112.4H212.5V109.1H213.7V108.2H214.9V103.6H216V102.4H217.2V103.7H218.3V101.6H219.5V110.2H220.6V110.1H221.8V108.7H222.9V108.3H224.1V106.6H225.2V105.1H226.4V105.6H227.5V117.6H228.7V116H229.8V115.2H231V112.7H232.2V110.7H233.3V111H234.5V112.6H235.6V113.9H236.8V112.6H237.9V113.8H239.1V114.3H240.2V111.8H241.4V107.8H242.5V105.8H243.7V111.7H244.8V111.3H246V109.3H247.1V110.6H248.3V107.5H249.5V107.3H250.6V104.9H251.8V114.7H252.9V114.9H254.1V112.1H255.2V113.3H256.4V110.7H257.5V109.7H258.7V107H259.8V121.1H261V122H262.1V116.5H263.3V120.4H264.4V118.5H265.6V120.3H266.8V116.4H267.9V106.8H269.1V108.8H270.2V108.2H271.4V107.9H272.5V104.6H273.7V99.4H274.8V101.9H276V116.2H277.1V113.1H278.3V108.5H279.4V110.5H280.6H281.7V107.3H282.9V106H284V110.9H285.2V113.1H286.4V110.8H287.5V111.8H288.7V107.9H289.8V104.2H291V102.3H292.1V110.1H293.3V110H294.4V107.2H295.6V106H296.7V105.5H297.9V108.2H299V105.6H300.2V116.8H301.3V120.1H302.5V118H303.7V115.6H304.8V114.4H306V111.5H307.1V113.1H308.3V112.1H309.4V110.5H310.6V107.9H311.7V105.6H312.9V107H314V106H315.2V105.6H316.3V109.7H317.5V107.6H318.6V106.4H319.8V102.4H321V104.7H322.1V104.4H323.3V101.4H324.4V110.7H325.6V144.4H324.4V144.2H323.3V144.9H322.1V144.3H321V144H319.8V145.2H318.6V145.4H317.5V146H316.3V146.1H315.2V145.6H314V146H312.9V146.6H311.7V145.6H310.6V146.1H309.4V145.7H308.3V146.7H307.1V146.3H306V146.7H304.8V145.9H303.7V146.2H302.5V146.9H301.3V147.2H300.2V145.5H299V146H297.9V144.5H296.7V145.9H295.6V145.5H294.4V145.9H293.3V145.7H292.1V145.2H291V145.5H289.8V146.7H288.7V145.1H287.5V145.2H286.4H285.2V145.6H284V145.7H282.9V146.1H281.7V146.6H280.6V146.3H279.4V146.2H278.3V145.3H277.1V144.1H276V145.1H274.8V144.9H273.7V144.4H272.5V144.3H271.4V144.8H270.2V145H269.1V143.5H267.9V146.1H266.8H265.6H264.4H263.3V147H262.1V146.6H261V145.8H259.8V146H258.7V147.1H257.5V145.8H256.4V146.5H255.2V146.2H254.1V146.9H252.9V146.5H251.8V146.2H250.6V144.4H249.5V146.1H248.3V146.8H247.1V145.6H246V146.9H244.8V146H243.7V146.2H242.5V145.5H241.4V145.4H240.2V145.9H239.1V145.2H237.9V145.4H236.8H235.6V146.2H234.5V145.2H233.3V146.6H232.2V146.2H231V144.1H229.8V145.7H228.7V146.4H227.5V145H226.4V146.4H225.2V145.4H224.1V145.2H222.9V145.8H221.8V145.9H220.6V146.3H219.5V145.9H218.3V145.2H217.2V145H216V144.9H214.9H213.7V146H212.5V145.4H211.4V146.4H210.2V146H209.1V145.5H207.9V145H206.8V147H205.6V146.4H204.5V146.8H203.3V145.2H202.2V144.8H201V145.3H199.9H198.7V144.5H197.6V144.6H196.4V145.1H195.2V142.1H194.1V143H192.9V142.9H191.8V143.1H190.6V143.5H189.5V142.7H188.3V143.8H187.2V145H186V144.5H184.9V145.5H183.7V144.5H182.6V145.6H181.4V144.1H180.3V143.6H179.1V146.1H177.9V147.2H176.8V146.7H175.6V145.9H174.5V146.1H173.3V147.1H172.2V147H171V143.8H169.9V144.3H168.7V143.2H167.6V143.1H166.4V143H165.3V143.2H164.1V143.5H163V130.9H161.8V131H160.6V132H159.5V134.6H158.3V135.5H157.2V135.9H156V136.3H154.9V135.3H153.7V135.4H152.6V138.7H151.4V139.5H150.3V139.2H149.1V140H148V141.1H146.8V141.3H145.7V143.1H144.5V143.3H143.3V145.3H142.2V146.7H141V147.5H139.9V149.7H138.7V149.8H137.6V151.5H136.4V152H135.3V152.8H134.1V153.6H133V154.6H131.8V155.7H130.7V155.9H129.5V156.7H128.4V157.9H127.2V158.6H126V158.9H124.9V159.8H123.7V160.7H122.6V161.2H121.4V161.5H120.3V161.9H119.1V162.5H118V162.6H116.8V163.2H115.7V163.4H114.5V163.9H113.4V164.5H112.2V164.9H111.1H109.9V165.6H108.7V165.7H107.6V166.2H106.4V166.4H105.3V166.7H104.1V167.3H103V167.5H101.8V167.6H100.7V168.1H99.5V168.5H98.4V168.7H97.2H96.1V169.1H94.9V169.6H93.8H92.6V169.7H91.4V169.6H90.3V170.2H89.1H88V170.3H86.8V170.4H85.7V170.5H84.5V170.6H83.4V170.8H82.2V171H81.1V171.1H79.9H78.8V171.3H77.6V171.4H76.5V171.5H75.3H74.1V171.8H73H71.8V172H70.7V172.2H69.5V172.3H68.4H67.2V172.5H66.1V172.6H64.9V172.7H63.8V172.8H62.6V172.9H61.5H60.3V173.1H59.2V173.2H58H56.8V173.3H55.7V173.4H54.5H53.4H52.2V173.5H51.1H49.9Z" fill="#000" fill-opacity="0.019"/>
<path d="M49.9 173.9H51.1V172.9H52.2V172.3H53.4V172.7H54.5V172.3H55.7V171H56.8H58V171.3H59.2V171.2H60.3V172.3H61.5V171.1H62.6V172.6H63.8V172.1H64.9V171.9H66.1V172.6H67.2V171.7H68.4V169.4H69.5V170.8H70.7V171.8H71.8V171.1H73V169.8H74.1V170H75.3V170.2H76.5V171.5H77.6V170H78.8V169.3H79.9V167.7H81.1V166.6H82.2V167.5H83.4V170.7H84.5V171.1H85.7V170.7H86.8V168.8H88V169.5H89.1V166.3H90.3V166.9H91.4V166.5H92.6V165.4H93.8V165.5H94.9V168.4H96.1V160.7H97.2V160H98.4V159.2H99.5V164.9H100.7V167.8H101.8V167.9H103V167H104.1V162.1H105.3V159.8H106.4V156.6H107.6V152.1H108.7V157.4H109.9V159H111.1V161.5H112.2V161.8H113.4V163.7H114.5V159H115.7V157.4H116.8V159.1H118V160.4H119.1V155.6H120.3V149H121.4V152.4H122.6V151.7H123.7V154.7H124.9V153.6H126V152.9H127.2V151.8H128.4V152.3H129.5V146.3H130.7V136.5H131.8V148.2H133V134.1H134.1V142.4H135.3V143.4H136.4V153H137.6V155.9H138.7V138H139.9V143.6H141V129.1H142.2V130H143.3V127H144.5V111.8H145.7V122.7H146.8V149.3H148V145.4H149.1V118.6H150.3V87.8H151.4V109.4H152.6V120.6H153.7V128.8H154.9V105.6H156V125.2H157.2V122.2H158.3V99.8H159.5V87.7H160.6V85.5H161.8V49.3H163V156.7H164.1V158.7H165.3V156.4H166.4V153.5H167.6V154.4H168.7V141.6H169.9V152.8H171V149.4H172.2V154.4H173.3V151.6H174.5V154.4H175.6V154.9H176.8V144.3H177.9V152.1H179.1V142.5H180.3V153.6H181.4V155H182.6V147.6H183.7V161.1H184.9V161.5H186V155.7H187.2V99.3H188.3V91.2H189.5V102.6H190.6V119.5H191.8V90.9H192.9V86H194.1V109.3H195.2V150.7H196.4V138.1H197.6V145.8H198.7V154.6H199.9V153.3H201V152.7H202.2V148.7H203.3V80.2H204.5V106.4H205.6V107.9H206.8V78.3H207.9V71.9H209.1V53.4H210.2V104.1H211.4V149.6H212.5V136.8H213.7V146.8H214.9V141H216V141.9H217.2V146.7H218.3V131.5H219.5V139H220.6V144.5H221.8V143.7H222.9V140.5H224.1V151.1H225.2V150H226.4V151.9H227.5V131.7H228.7V94.2H229.8V66.1H231V60.4H232.2V112.5H233.3V90.8H234.5V75.8H235.6V148.4H236.8V141.4H237.9V151.3H239.1V153.5H240.2V153H241.4V152.3H242.5V153.4H243.7V142.4H244.8V151.3H246V150.4H247.1V151.1H248.3V131.1H249.5V148.1H250.6V143.7H251.8V81.3H252.9V119.5H254.1V123.1H255.2V117.6H256.4V126.5H257.5V94.2H258.7V108.7H259.8V87.1H261V88.2H262.1V96.4H263.3V80.5H264.4V97.6H265.6V76.2H266.8V109.9H267.9V153H269.1V141.6H270.2V156.4H271.4V147.8H272.5V149.9H273.7V151.1H274.8V152.3H276V140.7H277.1V153.8H278.3V144.5H279.4V143.5H280.6V148.8H281.7V148.3H282.9V143.2H284V110.9H285.2V124.7H286.4V105.5H287.5V113.9H288.7V109.6H289.8V100.3H291V83.9H292.1V132.5H293.3V141.1H294.4V144.9H295.6V141.2H296.7V143.8H297.9V155H299V153H300.2V155.2H301.3V146H302.5V138.2H303.7V142.5H304.8V151.7H306V143.8H307.1V151.7H308.3V147.3H309.4V153.6H310.6V156H311.7V156.7H312.9V150.5H314V151.9H315.2V146.2H316.3V117.2H317.5V96.3H318.6V105.8H319.8V74.7H321V66.8H322.1V88.5H323.3V87.1H324.4V136H325.6" fill="none" stroke="#000" stroke-opacity="0.035" stroke-width="0.8"/><path d="M49.9 173.4H51.1V173.2H52.2V173.9H53.4V173.7H54.5V172.3H55.7H56.8V172.5H58V171.7H59.2V172.3H60.3V172.5H61.5H62.6V173.2H63.8V171.7H64.9V171.9H66.1V171.8H67.2H68.4V172H69.5V173H70.7V171.6H71.8V168.6H73V169.1H74.1V170.6H75.3V171.5H76.5V170.8H77.6V170.1H78.8V170.4H79.9V169.2H81.1V170.9H82.2V168.9H83.4V169.3H84.5V170.1H85.7V169.9H86.8V168.9H88V167.8H89.1V168.3H90.3V167.5H91.4V163.2H92.6V169.4H93.8V170.8H94.9V168.5H96.1V168.9H97.2V167.2H98.4V169.1H99.5V166.7H100.7V162.7H101.8V161.4H103V166.1H104.1V165.3H105.3V161.8H106.4V157H107.6V164H108.7V165.1H109.9V160H111.1V162.5H112.2V164.6H113.4V159.1H114.5V164.9H115.7V163.8H116.8V158.1H118V161H119.1V156.5H120.3V161.5H121.4V155.5H122.6V153.9H123.7V146.5H124.9V153.5H126V155H127.2V153.7H128.4V146.4H129.5V153.1H130.7V151.3H131.8V135.9H133V138.5H134.1H135.3V146.2H136.4V137.9H137.6V148.2H138.7V151.6H139.9V149.1H141V129.6H142.2V132.7H143.3V141.4H144.5V138.5H145.7V129.4H146.8V116.6H148V139.4H149.1V115.8H150.3V110.1H151.4V126.4H152.6V126.2H153.7V114.5H154.9V118.7H156V113.1H157.2V123.8H158.3V131.9H159.5V70.1H160.6V86.3H161.8V86.1H163V140.6H164.1V133.4H165.3V134.6H166.4V148.6H167.6V146.8H168.7V145.1H169.9V139.7H171V147.3H172.2V143.2H173.3V142.9H174.5V133.9H175.6V156.1H176.8V148.4H177.9V143.9H179.1V104H180.3V110H181.4V121.1H182.6V104H183.7V101.6H184.9V116.8H186V125.7H187.2V103.6H188.3V115.1H189.5V95.6H190.6V69.8H191.8V86.9H192.9V89.9H194.1V91.4H195.2V138.2H196.4V135.1H197.6V144.1H198.7V142.1H199.9V146.1H201V150.3H202.2V144.1H203.3V147.4H204.5V152.4H205.6V156.5H206.8V145.2H207.9V152.4H209.1V154.9H210.2V151.7H211.4V144.8H212.5V155.7H213.7V147.1H214.9V145.4H216V153.6H217.2V155.3H218.3V151.4H219.5V55.8H220.6V85.9H221.8V65.2H222.9V60H224.1V105.7H225.2V90.6H226.4V63.1H227.5V84.7H228.7V51.6H229.8V90.4H231V104.5H232.2V90.8H233.3V61.5H234.5V73.9H235.6V145.8H236.8V156.5H237.9V155.2H239.1V144.3H240.2V159.6H241.4V152.3H242.5V155.3H243.7V155.5H244.8V153.7H246V157.9H247.1V148.3H248.3V146.6H249.5V141.9H250.6V147.3H251.8V114.2H252.9V95.3H254.1V117.4H255.2V117H256.4V63.6H257.5V64.3H258.7V76.9H259.8V55.6H261V86.6H262.1V76.4H263.3V98.1H264.4V94.9H265.6V85.1H266.8V48H267.9V157.2H269.1V151.8H270.2V155H271.4V161.9H272.5V163.9H273.7V161.2H274.8V153.4H276V154.3H277.1V146.4H278.3V152.8H279.4V148.2H280.6V152.9H281.7V158.8H282.9V154H284V111H285.2V122.2H286.4V116.8H287.5V109.4H288.7V96H289.8V78.7H291V76.6H292.1V142.3H293.3V160H294.4V157.5H295.6V141.8H296.7V153.4H297.9V159.6H299V159.4H300.2V160.1H301.3V158.7H302.5V147.9H303.7V158.9H304.8V159H306V149.8H307.1V152.3H308.3V152.9H309.4V156.1H310.6V151.1H311.7V158.2H312.9V151.8H314V153.7H315.2V155.6H316.3V104.7H317.5V79.7H318.6V81.9H319.8V94.7H321V88.2H322.1V104.7H323.3V65.3H324.4V45H325.6" fill="none" stroke="#000" stroke-opacity="0.035" stroke-width="0.8"/><path d="M49.9 173.1H51.1V172.2H52.2V173.1H53.4V173.7H54.5V173.2H55.7V173.3H56.8V172.8H58V172H59.2V171.5H60.3V171.7H61.5V170.7H62.6V171.3H63.8V170.7H64.9V171H66.1V171.1H67.2V171.7H68.4V171.3H69.5V171.6H70.7V171.4H71.8V170.9H73V169.5H74.1V170.6H75.3V169.8H76.5V171.4H77.6V170.9H78.8V168.9H79.9V169.3H81.1V171.5H82.2V170.4H83.4V170.1H84.5V170.9H85.7V171.5H86.8V170.9H88V170.7H89.1V168.2H90.3V167.3H91.4V166.7H92.6V165.4H93.8V170H94.9V168.5H96.1V166.6H97.2V167.5H98.4H99.5H100.7V165.4H101.8V164.9H103V160.9H104.1V161.7H105.3V162.3H106.4V162.8H107.6V164.7H108.7V162.7H109.9V159.7H111.1V159.6H112.2V163.7H113.4V165.5H114.5V160.1H115.7V159.4H116.8V158.2H118V161.2H119.1V156H120.3V153.5H121.4V156.4H122.6V153H123.7V157.7H124.9V155.1H126V160.9H127.2V155.9H128.4V136.3H129.5V141.1H130.7V133.3H131.8V139.1H133V142.1H134.1V142H135.3V145.2H136.4V137.1H137.6V144.2H138.7V139.8H139.9V100.7H141V121.8H142.2V134.8H143.3V122.3H144.5V123.7H145.7V129.9H146.8V137.8H148V130.8H149.1V130H150.3V123.4H151.4V115.7H152.6V112.8H153.7V125H154.9V109.5H156V103.2H157.2V123H158.3V103.1H159.5V99.3H160.6V86.5H161.8V103.8H163V153H164.1V152.1H165.3V156.3H166.4V149.4H167.6V151.4H168.7V148.3H169.9V154.4H171V157.6H172.2V157.5H173.3V161H174.5V157.2H175.6V150.4H176.8V141H177.9V139.7H179.1V39.6H180.3V35.2H181.4V5.1H182.6V52.9H183.7V43.6H184.9V47.1H186V110.4H187.2V79.2H188.3V67.9H189.5V54.6H190.6V70.7H191.8V78.4H192.9V74.6H194.1V40.5H195.2V150.2H196.4V143.8H197.6V156.6H198.7V148.6H199.9V140.2H201V154.5H202.2V153.3H203.3V159.8H204.5V164.5H205.6V162.2H206.8V156.4H207.9V153.5H209.1V155.3H210.2V151H211.4V91.4H212.5V56.1H213.7V109.6H214.9V112.8H216V108.9H217.2V107.5H218.3V103.5H219.5V37.8H220.6V81.7H221.8V70H222.9V104.8H224.1V101.1H225.2V68.2H226.4V50.2H227.5V148.2H228.7V123.2H229.8V131.3H231V143.1H232.2V136.9H233.3V143.5H234.5V150.2H235.6V141.7H236.8V133.1H237.9V127.7H239.1V148.3H240.2V148.6H241.4V143.9H242.5V131.9H243.7V75.8H244.8V102.3H246V118.9H247.1V96.9H248.3V105.6H249.5V92.1H250.6V73H251.8V139.8H252.9V150.8H254.1V154.4H255.2V156.6H256.4V145.5H257.5V137.9H258.7V150.6H259.8V109H261V113.8H262.1V102.6H263.3V109.1H264.4V110.1H265.6V70.5H266.8V61.6H267.9V151.1H269.1V146H270.2V154.2H271.4V151.1H272.5V156.8H273.7V157.6H274.8V149.6H276V100.1H277.1V93.7H278.3V103.6H279.4V106.6H280.6V84.6H281.7V74.3H282.9V100.7H284V118.1H285.2V113.8H286.4V138.6H287.5V133.3H288.7V133.9H289.8V140.8H291V147H292.1V139.8H293.3V138.8H294.4V125.5H295.6V131.8H296.7V143.1H297.9V143.6H299V138.8H300.2V117.6H301.3V135.6H302.5V126H303.7V108H304.8V134.4H306V108.2H307.1V124.1H308.3V121.8H309.4V125.8H310.6V115.5H311.7V109.2H312.9V105.7H314V57.2H315.2V131.4H316.3V156.8H317.5V159.2H318.6V155.6H319.8V156.5H321V154.8H322.1V153.2H323.3V155.3H324.4V148.2H325.6" fill="none" stroke="#000" stroke-opacity="0.035" stroke-width="0.8"/><path d="M49.9 171.7H51.1V172.4H52.2V171.9H53.4V170.3H54.5V170H55.7V170.7H56.8V170.8H58V170.7H59.2V171.4H60.3V171.8H61.5V171.4H62.6V170.6H63.8V171.2H64.9V170.8H66.1V170.3H67.2V171H68.4V168.8H69.5V167.3H70.7V168.5H71.8V170.1H73V171.4H74.1V172.1H75.3V168.2H76.5V167.9H77.6V168.9H78.8V170.1H79.9V168.5H81.1V165.6H82.2H83.4V167.9H84.5V158.1H85.7V162H86.8V166.8H88V164.2H89.1V163H90.3V161.4H91.4V161.8H92.6V165.7H93.8V162.7H94.9V164.5H96.1V162.5H97.2V162H98.4V159.3H99.5V159.7H100.7V161.2H101.8V148.3H103V157.6H104.1V159.3H105.3V156.1H106.4V154.3H107.6V150.5H108.7V159.4H109.9V158H111.1V148.9H112.2V149.6H113.4V148.9H114.5V156.4H115.7V157.7H116.8V155.1H118V148.1H119.1V140.7H120.3V136H121.4V152.3H122.6V145.3H123.7V140.9H124.9V142.2H126V141.6H127.2V145.2H128.4V140.5H129.5V151.1H130.7V126.3H131.8V126.1H133V108.7H134.1V129.6H135.3V140.9H136.4V105.8H137.6V137.9H138.7V136.2H139.9V112.7H141V89.3H142.2V112.4H143.3V109.1H144.5V105.9H145.7V88.2H146.8V153.2H148V147H149.1V142.9H150.3V148H151.4V148.3H152.6V131.8H153.7V142.7H154.9V149.7H156V142.4H157.2V138.8H158.3V150.4H159.5V154.4H160.6V141.7H161.8V138.5H163V80.4H164.1V69.7H165.3V114.6H166.4V128.3H167.6V97.6H168.7V84.7H169.9V93.9H171V147.2H172.2V154.4H173.3V157.2H174.5V154.2H175.6V150.6H176.8V148.2H177.9V151.5H179.1V148.7H180.3V143.9H181.4V147.1H182.6V153.1H183.7V142.3H184.9V155.2H186V152H187.2V82.9H188.3V55.5H189.5V65.5H190.6V105.1H191.8V128.5H192.9V119.9H194.1V110.5H195.2V156.1H196.4V159.9H197.6V159.2H198.7V156.2H199.9V155.9H201V149.9H202.2V151.7H203.3V152.1H204.5V157.1H205.6V156.1H206.8V162.6H207.9V159.7H209.1V162.5H210.2V157.7H211.4V154.2H212.5V155H213.7V148.2H214.9V156.8H216V156.7H217.2V158.4H218.3V158H219.5V68.6H220.6V107H221.8V60.1H222.9V46.9H224.1V60.9H225.2V83.5H226.4V76.5H227.5V151H228.7V140.4H229.8V152.9H231V155.1H232.2V150.9H233.3V160.3H234.5V145.1H235.6V149.9H236.8V144.9H237.9V146.9H239.1V156.9H240.2V151.6H241.4V147.6H242.5V154.7H243.7V155.7H244.8V156.2H246V147.3H247.1V154.9H248.3V155.4H249.5V151.7H250.6V149.4H251.8V119.8H252.9V89.1H254.1V74.5H255.2V117H256.4V79.5H257.5V90.2H258.7V88.4H259.8V84.4H261V116.2H262.1V121.4H263.3V98.2H264.4V107.9H265.6V37.9H266.8V87.9H267.9V138.5H269.1V149.6H270.2V130.5H271.4V125.4H272.5V150.1H273.7V144.9H274.8H276V133.8H277.1V155.7H278.3V150.9H279.4V141.7H280.6V147H281.7V150.1H282.9V154.9H284V116.6H285.2V117H286.4V130.1H287.5V115.7H288.7V120.6H289.8V108.5H291V96.1H292.1V147.5H293.3V150.6H294.4V157.6H295.6V156.2H296.7V156.5H297.9V150H299V156.2H300.2V147H301.3V152.5H302.5V150.4H303.7V155.2H304.8V148.3H306V155.3H307.1V145.8H308.3V96.7H309.4V92.2H310.6V93.5H311.7V113.7H312.9V83.4H314V119.2H315.2V105.7H316.3V88.1H317.5V75.7H318.6V101.6H319.8V104.9H321V100.8H322.1V110.4H323.3V101H324.4V159.8H325.6" fill="none" stroke="#000" stroke-opacity="0.035" stroke-width="0.8"/><path d="M49.9 171.9H51.1V172.6H52.2V170.9H53.4V171.4H54.5V170.9H55.7V172.9H56.8V172.2H58V172.3H59.2V170.5H60.3V171.7H61.5V171.6H62.6V172.1H63.8V172.7H64.9V171.2H66.1V171.4H67.2V170.8H68.4V171.7H69.5V171.2H70.7V171.6H71.8V171.4H73V170.6H74.1V171H75.3V169.9H76.5V171.2H77.6V170.8H78.8V168.3H79.9V170.1H81.1V171.5H82.2V168.3H83.4V169H84.5V170.1H85.7V170.5H86.8V168.2H88V169.7H89.1V170.5H90.3V167.5H91.4V166.7H92.6V165.4H93.8V167H94.9V165.3H96.1V167.2H97.2V166.4H98.4V164.6H99.5V163.7H100.7V160.6H101.8V160.3H103V164.6H104.1H105.3V160.9H106.4V157.2H107.6V158.5H108.7V161.5H109.9V160H111.1V155.5H112.2V152.2H113.4V158.7H114.5V161.1H115.7V157.9H116.8V158.8H118V156.2H119.1V158.2H120.3V153.3H121.4V149.8H122.6V141.6H123.7V139.2H124.9V144.8H126V151.7H127.2V142.8H128.4V148.5H129.5V153.2H130.7V148H131.8V151.4H133V128.8H134.1V126H135.3V121H136.4V136H137.6V136.4H138.7V132.6H139.9V135.7H141V131.7H142.2V125.3H143.3V133.1H144.5V128H145.7V109H146.8V115.5H148V135.6H149.1V132.2H150.3V127.7H151.4V121.4H152.6V108.3H153.7V116H154.9V75.4H156V91.3H157.2V77.6H158.3V94.2H159.5V112.4H160.6V73.3H161.8V45.9H163V129.6H164.1V137.9H165.3H166.4V145.1H167.6V151.2H168.7V143.2H169.9V137.1H171V135.3H172.2V131.3H173.3V128.8H174.5V129.7H175.6V130.3H176.8V135H177.9V142.5H179.1V136.7H180.3V119.3H181.4V93.9H182.6V98.7H183.7V71.1H184.9V85.8H186V125.9H187.2V94.7H188.3V112.5H189.5V104.9H190.6V106H191.8V99.6H192.9V63H194.1V58H195.2V154.4H196.4V149.2H197.6V153.3H198.7V143.5H199.9V137.2H201V148.7H202.2V143.1H203.3V140.4H204.5V141.7H205.6V139.4H206.8V146.9H207.9V146H209.1V148H210.2V147.9H211.4V148.4H212.5V158.1H213.7V152.8H214.9V143.7H216V154.1H217.2V153.1H218.3V162.1H219.5V97.8H220.6V87.6H221.8V66.7H222.9V41.4H224.1V87.2H225.2V94.3H226.4V71.6H227.5V147.9H228.7V142.1H229.8V153.7H231V149.9H232.2V152.9H233.3V155.8H234.5V148.6H235.6V152.9H236.8V151.6H237.9V150.9H239.1V160.3H240.2V148.2H241.4V145.3H242.5H243.7V148.4H244.8V137.9H246V142.4H247.1V151.6H248.3V146.1H249.5V138.8H250.6V145.4H251.8V112.9H252.9V105.3H254.1V96.9H255.2V98.2H256.4V109.5H257.5V96.7H258.7V105.3H259.8V107.6H261V82.4H262.1V100.3H263.3V111.2H264.4V92.7H265.6V108.9H266.8V77.9H267.9V147.3H269.1V142.3H270.2V147.3H271.4V153.9H272.5V161.9H273.7V157.8H274.8V146.1H276V111.2H277.1V93.1H278.3V81.5H279.4V119.8H280.6V112.9H281.7V105.8H282.9V73.7H284V135.6H285.2V149.9H286.4V145.5H287.5V146.1H288.7V153.9H289.8V144.2H291V135.8H292.1V108.2H293.3V91.1H294.4V106.5H295.6V80.2H296.7V68.2H297.9V92.4H299V94.6H300.2V57H301.3V83.3H302.5V62.5H303.7V108.1H304.8V113.6H306V71.2H307.1V71.5H308.3V151.1H309.4V155.7H310.6V151H311.7V156.7H312.9V153.3H314V147.7H315.2V151.2H316.3V157.7H317.5V159.7H318.6V155.8H319.8V161.1H321V150.6H322.1V154.1H323.3V154.8H324.4V111.3H325.6" fill="none" stroke="#000" stroke-opacity="0.035" stroke-width="0.8"/><path d="M49.9 172.6H51.1V172.7H52.2V173H53.4V173.1H54.5V172.7H55.7V172.3H56.8V171.9H58V171.4H59.2V172H60.3V170.6H61.5V171.2H62.6V170.3H63.8V171.3H64.9V170H66.1V170.7H67.2V171.5H68.4V171.4H69.5V170.7H70.7V172H71.8V170.8H73V172.2H74.1V170.7H75.3V171.1H76.5V171.5H77.6V171H78.8V168.4H79.9V166.5H81.1V169H82.2V166.8H83.4V167.8H84.5V165.3H85.7V167.4H86.8V166.7H88V169.1H89.1V165.8H90.3V165H91.4V163.7H92.6V161.7H93.8V165.5H94.9V164.5H96.1V168.3H97.2V167.5H98.4H99.5V162.9H100.7V161.5H101.8V161.4H103V161.7H104.1V154.9H105.3V156.9H106.4V161.8H107.6V155H108.7V152H109.9V154.6H111.1V164.8H112.2V163.6H113.4V158.6H114.5V159.1H115.7V162.7H116.8V157.8H118V158.8H119.1V154.5H120.3V152.3H121.4V143.7H122.6V153.6H123.7V145H124.9V152.9H126V143H127.2V142.3H128.4V141.6H129.5V142.4H130.7V147.1H131.8V140.4H133V135.8H134.1V126.6H135.3V130.8H136.4V130H137.6V141.7H138.7V147.9H139.9V135.7H141V103.5H142.2V123.3H143.3V134.2H144.5V148H145.7V126.4H146.8V132.5H148V129.8H149.1V117.6H150.3V106.4H151.4V78.1H152.6V77.2H153.7V83.6H154.9V146.1H156V153.9H157.2V151.5H158.3V143.4H159.5V157.7H160.6V152H161.8V139.5H163V139.6H164.1V147.6H165.3V150H166.4V145H167.6V148.8H168.7V145.1H169.9V135.1H171V146.6H172.2V151.1H173.3V142.5H174.5V144.5H175.6V151.7H176.8V158.4H177.9V141.1H179.1V43.7H180.3V81.5H181.4V76.7H182.6V79.5H183.7V73.6H184.9V38.9H186V58.4H187.2V148.7H188.3V147.5H189.5V148.1H190.6V144.8H191.8V149.7H192.9V152.9H194.1V138.4H195.2V141.6H196.4V141.8H197.6V130.6H198.7V144.7H199.9V149.3H201V147.3H202.2V154H203.3V110.9H204.5V112.4H205.6V85.3H206.8V111.6H207.9V92.9H209.1V88.7H210.2V49.2H211.4V79.3H212.5V56.8H213.7V50H214.9V48.4H216V24.4H217.2V94.5H218.3V66.6H219.5V154.3H220.6V154.8H221.8V146.2H222.9V153.7H224.1V156H225.2V147.3H226.4V159.5H227.5V148.3H228.7V156.3H229.8V143.3H231V154H232.2V150.1H233.3V150.3H234.5V151.4H235.6V87.7H236.8V93.8H237.9V72.5H239.1V74.3H240.2V114.3H241.4V131.5H242.5V59.2H243.7V163.6H244.8V159.5H246V160.4H247.1V160.8H248.3V161.7H249.5V149.7H250.6V151.1H251.8V160.1H252.9V155.8H254.1V156.4H255.2V147.8H256.4V154.9H257.5V162.7H258.7V152.3H259.8V147.2H261V144.9H262.1V150.9H263.3V162.6H264.4V162.9H265.6V160.8H266.8V158.5H267.9V101.1H269.1V84.2H270.2V107.5H271.4V104.5H272.5V106.3H273.7V96.4H274.8V113.9H276V49.2H277.1V93.4H278.3V96.3H279.4V74.2H280.6V91.4H281.7V57.1H282.9V43.3H284V134.4H285.2V147.2H286.4V150.7H287.5V149.1H288.7V149.3H289.8V146.5H291V143.9H292.1V144.9H293.3V148H294.4V137.5H295.6V132.7H296.7V134.7H297.9V137.4H299V139.2H300.2V129.2H301.3V144.6H302.5V151.8H303.7V148H304.8V145.8H306V147H307.1V146.9H308.3V109.9H309.4V100H310.6V111.2H311.7V117.5H312.9V105.7H314V90.4H315.2V96.4H316.3V113.5H317.5V99H318.6V101.7H319.8V82.9H321V93.4H322.1V87.2H323.3V62.7H324.4V126.6H325.6" fill="none" stroke="#000" stroke-opacity="0.035" stroke-width="0.8"/><path d="M49.9 173.2H51.1V173.5H52.2V172.6H53.4V173.1H54.5H55.7V173.6H56.8V172.8H58V172.4H59.2V173.4H60.3H61.5V172.8H62.6H63.8V173.2H64.9V172.6H66.1V171.9H67.2V172.1H68.4V172.4H69.5V171.8H70.7V172H71.8H73V171.3H74.1V169.9H75.3V169.3H76.5V170.4H77.6V171.1H78.8V170.9H79.9V170.5H81.1V169.8H82.2V170.5H83.4H84.5V170H85.7V171.2H86.8V170.4H88V169.8H89.1V168.7H90.3V168.9H91.4V170H92.6V170.9H93.8V170.6H94.9V171H96.1V170.8H97.2V170.2H98.4V169.7H99.5V167.8H100.7V168.2H101.8V167.9H103V167.1H104.1V168.2H105.3V169H106.4V168.1H107.6V168.2H108.7V162.5H109.9V159.6H111.1V163H112.2V162.5H113.4V158.4H114.5V156.8H115.7V157.5H116.8V158.4H118V156.8H119.1V163.4H120.3V166.7H121.4V164.9H122.6V160.6H123.7V162.8H124.9V161.7H126V159.4H127.2V158.4H128.4V161.1H129.5V158.5H130.7V152.1H131.8V150.5H133V152.5H134.1V153.3H135.3V143.3H136.4V136.8H137.6V151.5H138.7V152.3H139.9V151.3H141V143.6H142.2V144.1H143.3V145.4H144.5V129.1H145.7V133H146.8V143.3H148V139H149.1V137.7H150.3V120.3H151.4V144.5H152.6V136H153.7V129.6H154.9V114.1H156V122.3H157.2V114H158.3V109.2H159.5V134.5H160.6V129.2H161.8V126.9H163V116.5H164.1V127H165.3V107.3H166.4V107.9H167.6V96.8H168.7V124.6H169.9V94.2H171V152.2H172.2V158.7H173.3V156H174.5V151.5H175.6V140.2H176.8V153.2H177.9V153H179.1V156.8H180.3V151.9H181.4V158.7H182.6V157.6H183.7V154.3H184.9V153.7H186V155.2H187.2V100.7H188.3V104.2H189.5V76.1H190.6V83.4H191.8V107H192.9V82H194.1V69.9H195.2V146.8H196.4V141.9H197.6V151H198.7V145.6H199.9V150.3H201V149.8H202.2V154.9H203.3V154.3H204.5V155.5H205.6V161.7H206.8V157.8H207.9V160.8H209.1V155.1H210.2V162.8H211.4V98.9H212.5V116.1H213.7V109.2H214.9V96.1H216V78.3H217.2V97.7H218.3V85.8H219.5V140.4H220.6V145.4H221.8V142.7H222.9V145.6H224.1V137.9H225.2V138.2H226.4V134.7H227.5V143.7H228.7V146.9H229.8V159.8H231V156.5H232.2V155H233.3V143.8H234.5V148.4H235.6V121.6H236.8V114H237.9V116.6H239.1V121.3H240.2V123.4H241.4V92.3H242.5V66.8H243.7V155.4H244.8V155.3H246V152.6H247.1V157.5H248.3V155.9H249.5V161.1H250.6V164.2H251.8V162H252.9V154.3H254.1V156.8H255.2V161.4H256.4V156.9H257.5V151.6H258.7V159H259.8V74.4H261V22.4H262.1V72.1H263.3V72.2H264.4V87.9H265.6V102.8H266.8V104.7H267.9V140H269.1V138.4H270.2V142.9H271.4V125.7H272.5V140.9H273.7V141.1H274.8V136.1H276V145.1H277.1V149.4H278.3V147.9H279.4V150.6H280.6V144.3H281.7V141.5H282.9V146.1H284V155.1H285.2V150.3H286.4V152.6H287.5V148.8H288.7V142.6H289.8V130.4H291V127.5H292.1V93.2H293.3V77.9H294.4V86H295.6V71.3H296.7V21H297.9V35.2H299V44.4H300.2V153H301.3V155.4H302.5V154.3H303.7V149.5H304.8V141.5H306V145.5H307.1V150.9H308.3V105.8H309.4V91.8H310.6V65.8H311.7V46.4H312.9V102H314V118.7H315.2V87.8H316.3V125.7H317.5V121.6H318.6V112.2H319.8V131.1H321V126H322.1V141.3H323.3V125.3H324.4V133.5H325.6" fill="none" stroke="#000" stroke-opacity="0.035" stroke-width="0.8"/><path d="M49.9 171.4H51.1V172.5H52.2V171.8H53.4V171.2H54.5V171H55.7V172.4H56.8V171.5H58V170.5H59.2V168.4H60.3V169.8H61.5V171.6H62.6H63.8V171.7H64.9V169.3H66.1V168.9H67.2V171.4H68.4V171H69.5V168.4H70.7V170.3H71.8V169H73V169.5H74.1V168.8H75.3V169.4H76.5V170.5H77.6V170.3H78.8V168.2H79.9V165.3H81.1V167.2H82.2V166.3H83.4V165.5H84.5V168H85.7V168.3H86.8V165.1H88V164H89.1V166.1H90.3V168.2H91.4V166.6H92.6V165.9H93.8V163H94.9V164H96.1V163.3H97.2V159.8H98.4H99.5V162.4H100.7V158H101.8V158.3H103V152.8H104.1V160H105.3V158.6H106.4V159.6H107.6V161.7H108.7V161.6H109.9V156.9H111.1V152.6H112.2V155.4H113.4V154.4H114.5V145.5H115.7V149.9H116.8V152H118V144.1H119.1V149.2H120.3V143.3H121.4V147.1H122.6V144.2H123.7V144.5H124.9V145.4H126V140.2H127.2V121.4H128.4V125.5H129.5V132.3H130.7V119.4H131.8V143.3H133V133H134.1V136.2H135.3V139.5H136.4V134.4H137.6V127.8H138.7V133.3H139.9V121.8H141V134.3H142.2V114.3H143.3V104.1H144.5V68H145.7V80.6H146.8V154.7H148V157H149.1V153.6H150.3V152.4H151.4V159.5H152.6V162.1H153.7V154.3H154.9V152.8H156V158.8H157.2V149.6H158.3V152.1H159.5V155.6H160.6V156H161.8V152.8H163V116.4H164.1V117.6H165.3V102.5H166.4V122H167.6V110.7H168.7V105.8H169.9V88.4H171V133.6H172.2V130.6H173.3V128.5H174.5V125.3H175.6V141.5H176.8V141.8H177.9V141.1H179.1V121.8H180.3V124H181.4V130.6H182.6V131.7H183.7V136.5H184.9V126.2H186V136.7H187.2V88.7H188.3V91.1H189.5V109.8H190.6V80.7H191.8V80H192.9V89.2H194.1V106.6H195.2V135.6H196.4V142.9H197.6V148.2H198.7V132.9H199.9V138H201V136.7H202.2V132.5H203.3V124.7H204.5V143.7H205.6V151.3H206.8V135.6H207.9V141.2H209.1V138.5H210.2V132.6H211.4V123.8H212.5V141.3H213.7V143.7H214.9V153.1H216V142.5H217.2V140.8H218.3V139.8H219.5V63H220.6V105.6H221.8V120.1H222.9V116.3H224.1V88.8H225.2V113.4H226.4V112.8H227.5V148.6H228.7V154.3H229.8V154.1H231V155.8H232.2V148H233.3V152.6H234.5V145.7H235.6V151.3H236.8V148.4H237.9V153.2H239.1V145.9H240.2V159.4H241.4V139.8H242.5V144.4H243.7V154.1H244.8V154.5H246V151.3H247.1V149.1H248.3V152.7H249.5V142.8H250.6V148H251.8V90.5H252.9V78.7H254.1V51.7H255.2V93.6H256.4V92H257.5V46.4H258.7V48.5H259.8V155.1H261V145.7H262.1V144.4H263.3V158.3H264.4V161.7H265.6V156.3H266.8V151.8H267.9V155.9H269.1V154H270.2V158.2H271.4V153.2H272.5V159.9H273.7V156.3H274.8V153.3H276V156.1H277.1V156H278.3V155.8H279.4V151.8H280.6V157.8H281.7V151.1H282.9V160.6H284V71.1H285.2V74.9H286.4V62.9H287.5V48.8H288.7V61.9H289.8V41H291V50.9H292.1V66.6H293.3V45.5H294.4V25.9H295.6V93.8H296.7V70.6H297.9V105.1H299V75.1H300.2V151.4H301.3V151.2H302.5V143.8H303.7V141.6H304.8V143H306V160.3H307.1V146.4H308.3V104.7H309.4V132.6H310.6V106.2H311.7V100.8H312.9V100.4H314V62.7H315.2V86.3H316.3V147.8H317.5V136.9H318.6V147.2H319.8V136.1H321V147H322.1V138.5H323.3V123.6H324.4V128.4H325.6" fill="none" stroke="#000" stroke-opacity="0.035" stroke-width="0.8"/><path d="M49.9 173H51.1V173.3H52.2V173.6H53.4V173.2H54.5V173.7H55.7V173.8H56.8V173.7H58V173.6H59.2V173.9H60.3V173.6H61.5V173.1H62.6V173.9H63.8V174.2H64.9V173.8H66.1V173.3H67.2V172.8H68.4V172.7H69.5V172.8H70.7V171.2H71.8V171.6H73V172.1H74.1V171.7H75.3V171.8H76.5V172.1H77.6V171.7H78.8V172H79.9V172.1H81.1V170.4H82.2V172.4H83.4V172H84.5V171.9H85.7V170.7H86.8V171.8H88V170.9H89.1V170.3H90.3V169.7H91.4V169.1H92.6V169.9H93.8V170.7H94.9V170.3H96.1V171.6H97.2V169.1H98.4V170.5H99.5V170H100.7V169.9H101.8V166.1H103V168.9H104.1H105.3V166.3H106.4V166.9H107.6V168.6H108.7V166H109.9V167.2H111.1V165.3H112.2V163H113.4V166.5H114.5V167.7H115.7V167H116.8V164H118V158.1H119.1V160.4H120.3V160.3H121.4V163.3H122.6V162.7H123.7V161.6H124.9V166.2H126V164.1H127.2V163.4H128.4V161.5H129.5V157.3H130.7V158.6H131.8V155.8H133V155.4H134.1V154.7H135.3V157.8H136.4V157.2H137.6V155.5H138.7V156.2H139.9V152.7H141V156.1H142.2V148.5H143.3V149.8H144.5V155.7H145.7V143.8H146.8V136.2H148V134H149.1V146.4H150.3V149.2H151.4V145.4H152.6V146.2H153.7V135.3H154.9V141.7H156V140.5H157.2V132.7H158.3V133.8H159.5V140.2H160.6V130.5H161.8V133H163V124.9H164.1V121.7H165.3V120H166.4V129.5H167.6V127.8H168.7V116.1H169.9V128.4H171V96.2H172.2V101H173.3V98.6H174.5V112.1H175.6V105.5H176.8V101.7H177.9V112.5H179.1V104.8H180.3V51H181.4V81.7H182.6V63.5H183.7V32.2H184.9V56.2H186V40.1H187.2V142.8H188.3V144.7H189.5V135.2H190.6V142.3H191.8V153.5H192.9V151.9H194.1V146.6H195.2V138.3H196.4V145.7H197.6V133.7H198.7V150.8H199.9V148.7H201V144.4H202.2V145.4H203.3V123.3H204.5V105.5H205.6V123.9H206.8V121.8H207.9V116.4H209.1V129H210.2V114.5H211.4V105H212.5V99.6H213.7V82.3H214.9V104.4H216V86.4H217.2V89.8H218.3V102H219.5V155.3H220.6V146.1H221.8V156.9H222.9V148.4H224.1V148.9H225.2V143.3H226.4V152.3H227.5V157.7H228.7V151.2H229.8V147.4H231V144.7H232.2V148.1H233.3V150.5H234.5V151.4H235.6V148H236.8V154.9H237.9V151.8H239.1V149.1H240.2V139.7H241.4V149H242.5V154.3H243.7V79.3H244.8V89.7H246V79.8H247.1V104H248.3V119.3H249.5V108.1H250.6V90.2H251.8V78.1H252.9V68.3H254.1V95.7H255.2V88.4H256.4V112H257.5V110.2H258.7V99.4H259.8V144.1H261V133.2H262.1V134.6H263.3V128.7H264.4V149.4H265.6V142.8H266.8V149.1H267.9V138H269.1V143.2H270.2V140.5H271.4V135.7H272.5V139.5H273.7V147.7H274.8V148.2H276V111.9H277.1V108.4H278.3V102.8H279.4V79.1H280.6V114.5H281.7V36.9H282.9V71.2H284V73.5H285.2V86.8H286.4V85.3H287.5V82.3H288.7V88.3H289.8V46H291V64.2H292.1V148.4H293.3V150.9H294.4V127.2H295.6V146.7H296.7V144.4H297.9V139.2H299V151.4H300.2V153.1H301.3V154.7H302.5V148H303.7V144.6H304.8V140.1H306V150.5H307.1V148H308.3V106.2H309.4V92.3H310.6V129.1H311.7V74.1H312.9V98.2H314V77.5H315.2V101H316.3V86.4H317.5V95.1H318.6V96.1H319.8V53.6H321V26.9H322.1V85.4H323.3V85H324.4V147.7H325.6" fill="none" stroke="#000" stroke-opacity="0.035" stroke-width="0.8"/><path d="M49.9 173.4H51.1V173.5H52.2V173.2H53.4V173H54.5V173.4H55.7V173.8H56.8V174.2H58V172.9H59.2V173.2H60.3V173.3H61.5V172.7H62.6V171.9H63.8V173.2H64.9V172H66.1V171.6H67.2H68.4V172.5H69.5H70.7V172H71.8V171.9H73V172H74.1V171.2H75.3V171.1H76.5V172H77.6V172.7H78.8V171.9H79.9V171.5H81.1V172.1H82.2H83.4V172.3H84.5V171.5H85.7V172.3H86.8V170.3H88V170.7H89.1V170.3H90.3V167.4H91.4V169.2H92.6V171.3H93.8V169H94.9V169.5H96.1V171H97.2V171.2H98.4V170H99.5V169.7H100.7V166.8H101.8V169.1H103V167.7H104.1V167.2H105.3V168.9H106.4V167.1H107.6V167.2H108.7V167H109.9V166.4H111.1V163.7H112.2V163.8H113.4V158.7H114.5V163.2H115.7V165.3H116.8V162.3H118V167.1H119.1V159.3H120.3V153.2H121.4V154.1H122.6V157.5H123.7V160.7H124.9V158.7H126V162.1H127.2V159.2H128.4V158.6H129.5V156.1H130.7V160.9H131.8V156.8H133V157.5H134.1V159.2H135.3V158.6H136.4V154.6H137.6V151.3H138.7V163H139.9V157.7H141V144H142.2V134.4H143.3V141.1H144.5V145.9H145.7V149.2H146.8V132.2H148V140H149.1V134.6H150.3V147.6H151.4V145.9H152.6V126.1H153.7V125.2H154.9V129.4H156V143.4H157.2V130.6H158.3V123.8H159.5V112.9H160.6V134.1H161.8V136.7H163V125.6H164.1V121H165.3V121.6H166.4V123.1H167.6V126.7H168.7V114.7H169.9V121.7H171V112.5H172.2V91.2H173.3V104.2H174.5V94.5H175.6V32H176.8V84.3H177.9V81.4H179.1V147H180.3V137.8H181.4V138.8H182.6V135H183.7V137.6H184.9V148.3H186V150.1H187.2V148.1H188.3V145.8H189.5V138.7H190.6V146.9H191.8V144.6H192.9V140.4H194.1V153.5H195.2V96.2H196.4V92.4H197.6V97.6H198.7V100.1H199.9V122.2H201V119.1H202.2V97.2H203.3V148.5H204.5V137.3H205.6V147.3H206.8V149.2H207.9V138.5H209.1V142.1H210.2V136.2H211.4V145.8H212.5V149.7H213.7V136.5H214.9V135.2H216V148.2H217.2V149.5H218.3V127.1H219.5V80.8H220.6V32.5H221.8V73.3H222.9V84.7H224.1V76.8H225.2V51.9H226.4V74.6H227.5V140.8H228.7V142.1H229.8V143.1H231V138.2H232.2V126.9H233.3V132H234.5V142.2H235.6V142.6H236.8V145.7H237.9V142.3H239.1V149.7H240.2V137.7H241.4V138.3H242.5V142.8H243.7V113.4H244.8V111.2H246V106.6H247.1V105.4H248.3V89.8H249.5V86.4H250.6V124.3H251.8V146.5H252.9V128.3H254.1V144.9H255.2V142.6H256.4V147H257.5V154.1H258.7V140.4H259.8V138.6H261V155H262.1V149.9H263.3V143.3H264.4V140.4H265.6V152H266.8V143.1H267.9V100.7H269.1V120.2H270.2V110.9H271.4V92.6H272.5V78.6H273.7V94.2H274.8V67.6H276V144H277.1V143.5H278.3V140.3H279.4V150.3H280.6V147.3H281.7V152.9H282.9V155.9H284V153.1H285.2V152.6H286.4V149H287.5V144.1H288.7V146.4H289.8V150.4H291V146.5H292.1V104.6H293.3V93.1H294.4V62.9H295.6V79.9H296.7V114.1H297.9V125H299V79.4H300.2V61.6H301.3V70.9H302.5V44.9H303.7V52H304.8V48.5H306V79.2H307.1V37.8H308.3V120.6H309.4V120.2H310.6V133.7H311.7V135.6H312.9V128.7H314V139.6H315.2V132.5H316.3V143.2H317.5V129.5H318.6V125.4H319.8V122.1H321V130.8H322.1V145.4H323.3V139.5H324.4V101.9H325.6" fill="none" stroke="#000" stroke-opacity="0.035" stroke-width="0.8"/><path d="M49.9 172.9H51.1V173H52.2V172.1H53.4V172.8H54.5V173H55.7V173.4H56.8V173.8H58V173.5H59.2V171.8H60.3V173.2H61.5V171.6H62.6V171.4H63.8V173.2H64.9V172.8H66.1V171.3H67.2V170.4H68.4V170.5H69.5V170.8H70.7V170H71.8V170.3H73V172.3H74.1V172H75.3V172.4H76.5V171.5H77.6V169H78.8V171.2H79.9V172.2H81.1V170.5H82.2V172.4H83.4V171.1H84.5V170.1H85.7V167.7H86.8V168.4H88V165.9H89.1V169H90.3V168H91.4V169.7H92.6V168H93.8V166.5H94.9V168.6H96.1V167.9H97.2V167.4H98.4V163.6H99.5V165.6H100.7V166.5H101.8H103V169.8H104.1V167.4H105.3V164.3H106.4V165.1H107.6V164.7H108.7V163.4H109.9V160.4H111.1V161.4H112.2V161.5H113.4V161.1H114.5V164H115.7V165H116.8H118V161.3H119.1V163.5H120.3V158.7H121.4V161.4H122.6V159.5H123.7V153.6H124.9V142.7H126V150.2H127.2V161.3H128.4V157.5H129.5V151.8H130.7V147.8H131.8V153.8H133V159.5H134.1V152.9H135.3H136.4V152.7H137.6V156.1H138.7V147.9H139.9V154.7H141V149.7H142.2V145.1H143.3V143.5H144.5V139.7H145.7V123.8H146.8V114.3H148V129.4H149.1V137.9H150.3V141.8H151.4V141.5H152.6V138.8H153.7V121.5H154.9V116.9H156V130.2H157.2V129.4H158.3V104.4H159.5V130.7H160.6V110.3H161.8V88H163V142.7H164.1V137.1H165.3V136.2H166.4V138.9H167.6V147.9H168.7V144H169.9V149.9H171V150.2H172.2V134.7H173.3V142.5H174.5V151.4H175.6V139.2H176.8V130.7H177.9V126.9H179.1V81.2H180.3V88.2H181.4V127H182.6V95.1H183.7V106.8H184.9V100H186V79.2H187.2V140H188.3V142.3H189.5V134.4H190.6V127.3H191.8V143.5H192.9V148.1H194.1V127.4H195.2V131.5H196.4V140.4H197.6V147.3H198.7V141H199.9V126.7H201V143.1H202.2V137.9H203.3V148H204.5V137H205.6V139.5H206.8V127.7H207.9V133.8H209.1V138.6H210.2V145.8H211.4V119.5H212.5V113.7H213.7V96.1H214.9V97.9H216V94H217.2V93.1H218.3V78.9H219.5V53.8H220.6V77.7H221.8V70.5H222.9V108.6H224.1V121.6H225.2V112.8H226.4V85.5H227.5V149H228.7V151.1H229.8V140.7H231V142.2H232.2V143.3H233.3V147H234.5V139.2H235.6V139.8H236.8V141.8H237.9V148.8H239.1V151.8H240.2V134H241.4V144.6H242.5V146H243.7V119.6H244.8V126.8H246V127.2H247.1V109.1H248.3V129.7H249.5V96.9H250.6V120H251.8V151.2H252.9V153.8H254.1V143H255.2V117.8H256.4V121.9H257.5V127.3H258.7V136.2H259.8V129.9H261V132.1H262.1V133.3H263.3V132.1H264.4V117.4H265.6V118.7H266.8V112.8H267.9V87.2H269.1V70.6H270.2V72.7H271.4V107.9H272.5V109.2H273.7V80.2H274.8V84.5H276V141.9H277.1V146H278.3V148.1H279.4V152.5H280.6V158.5H281.7V147.2H282.9V151.2H284V150.4H285.2V152.7H286.4V147.2H287.5V150.3H288.7V152.6H289.8V153.1H291V153.2H292.1V112.6H293.3V103.3H294.4V135.1H295.6V125.9H296.7V114.5H297.9V88.9H299V83.6H300.2V103.7H301.3V113.2H302.5V101.7H303.7V110.4H304.8V87.6H306V53.8H307.1V53.7H308.3V131.9H309.4V145.4H310.6V154.7H311.7V153H312.9V143.5H314V127.5H315.2V129.2H316.3V73.6H317.5V98H318.6V81.4H319.8V96.2H321V108.9H322.1V103.6H323.3V103.5H324.4V120.1H325.6" fill="none" stroke="#000" stroke-opacity="0.035" stroke-width="0.8"/><path d="M49.9 173.4H51.1V173.2H52.2V173.8H53.4V173.2H54.5V172.9H55.7V173.7H56.8V174.1H58V174H59.2V173.5H60.3V173.4H61.5V172.3H62.6V172.5H63.8V172.9H64.9V172.2H66.1V172.3H67.2V172.7H68.4V172.9H69.5V172.6H70.7V171.1H71.8V170.9H73V169.3H74.1V171.3H75.3V170.9H76.5V171.7H77.6V171.8H78.8V172H79.9V172.3H81.1V170.3H82.2V170.8H83.4V171.8H84.5V172.1H85.7V171.1H86.8V170.4H88V170H89.1V171.2H90.3V171.6H91.4V172H92.6V169.9H93.8V169.7H94.9V167.2H96.1V169H97.2V168.4H98.4V169.2H99.5V170.5H100.7V167.2H101.8V169.8H103V167H104.1V164.7H105.3V168H106.4V167.6H107.6V166.7H108.7V166.8H109.9V163.8H111.1V167.6H112.2V167.8H113.4V164.8H114.5V165.9H115.7V162.4H116.8V165H118V165.1H119.1V159.1H120.3V163H121.4V164.6H122.6V162.8H123.7V161.2H124.9V160.5H126V160.4H127.2V152.4H128.4V159.9H129.5V158.3H130.7V154.4H131.8V159.6H133V152.5H134.1V150.6H135.3V156.9H136.4V147H137.6V141.9H138.7V153.8H139.9V145.9H141V150.4H142.2V148.2H143.3V142.9H144.5V139.7H145.7V143.1H146.8V146.7H148V133.5H149.1V141.5H150.3V139.3H151.4V140.9H152.6V135.2H153.7V139.9H154.9V132H156V128.7H157.2V122.6H158.3V116.8H159.5V93.2H160.6V113.8H161.8V117.2H163V121.4H164.1V125.5H165.3V94.5H166.4V110H167.6V123.7H168.7V115.5H169.9V85.5H171V153H172.2V140.1H173.3V140.2H174.5V144.8H175.6V150.7H176.8V152.1H177.9V144.8H179.1V145H180.3V149.5H181.4V156.1H182.6V148.1H183.7V154.8H184.9V147.7H186V149.6H187.2V102.9H188.3V101.3H189.5V108.1H190.6V99.6H191.8V82H192.9V83H194.1V74.1H195.2V148.7H196.4V149H197.6V153.5H198.7V156.2H199.9V139.9H201V144.1H202.2V139.8H203.3V149.1H204.5V137.3H205.6V131H206.8V147.6H207.9V143H209.1V156.1H210.2V153.3H211.4V150.4H212.5V146.5H213.7V142.7H214.9V148.6H216V145.7H217.2V148.3H218.3V133.6H219.5V97H220.6V90.7H221.8V76.7H222.9V70.4H224.1V112.1H225.2V99.7H226.4V64.6H227.5V55.9H228.7V104.4H229.8V84.2H231V59H232.2H233.3V64.3H234.5V100.6H235.6V157.6H236.8V153.6H237.9V142.2H239.1V150.6H240.2V148.8H241.4V153.2H242.5V149.8H243.7V140.3H244.8V147.4H246V148.9H247.1V141.3H248.3V151.6H249.5V149.1H250.6V152.5H251.8V74H252.9V87.5H254.1V60.6H255.2V29.4H256.4V83.5H257.5V49.3H258.7V33.1H259.8V67H261V86H262.1V47.7H263.3V60.3H264.4V71.7H265.6V57.8H266.8V63.6H267.9V152.6H269.1V148.1H270.2V149.6H271.4V155.6H272.5V153.2H273.7V157.5H274.8V159.8H276V154.8H277.1V149.9H278.3V160H279.4V150H280.6V137.7H281.7V137.9H282.9V162.5H284V81H285.2V73.6H286.4V54.2H287.5V29.7H288.7V51.8H289.8V95.6H291V89.2H292.1V150.6H293.3V148.8H294.4V144.9H295.6V147.6H296.7V139.1H297.9V152H299V153.3H300.2V145.5H301.3V146H302.5V133.6H303.7V151.1H304.8V158.6H306V154.3H307.1V144.1H308.3V152.2H309.4V155.3H310.6V147.9H311.7V148.4H312.9V147.9H314V150.3H315.2V156.4H316.3V89.8H317.5V119H318.6V101H319.8V130.7H321V126.3H322.1V134.4H323.3V133.9H324.4V156.6H325.6" fill="none" stroke="#000" stroke-opacity="0.035" stroke-width="0.8"/>
<path d="M159.5 124.1H160.6V137.8H161.8V113.8H163V125.6H164.1V130.8H165.3V123.3H166.4V123.2H167.6V121.8H168.7V143.4H169.9V102.4H171V138.3H172.2V142.5H173.3V135.4H174.5V143.6H175.6V146.1H176.8V135.2H177.9V147.2H179.1V145.9H180.3V138.3H181.4V141.6H182.6V140H183.7V150.6H184.9V156.3H186V143.9H187.2V139H188.3V132.3H189.5V125.1H190.6V139.1H191.8V140H192.9V134.6H194.1V151.4H195.2V116.2H196.4V116.6H197.6V105.7H198.7V78.9H199.9V98.9H201V112.4H202.2V118H203.3V146.2H204.5V139.5H205.6V152.7H206.8V134.8H207.9V135.6H209.1V138.6H210.2V137.2H211.4V99.5H212.5V66.1H213.7V108.2H214.9V121.1H216V91.3H217.2V109.4H218.3V86.7H219.5V143.6H220.6V155.5H221.8V149.9H222.9V142.9H224.1V148.8H225.2V152.7H226.4V139.9H227.5V151.1H228.7V147.3H229.8V141.6H231V151.2H232.2V144.3H233.3V150.7H234.5V145.4H235.6V110.9H236.8V90.4H237.9V85.7H239.1V82.1H240.2V112.6H241.4V103.6H242.5V112.7H243.7V137.3H244.8V149H246V151.2H247.1V155.3H248.3V153.2H249.5V156.6H250.6V151.1H251.8V147.9H252.9V155.5H254.1V156.4H255.2V149.5H256.4V153.4H257.5V149.7H258.7V156H259.8V67.6H261V132.5H262.1V115.9H263.3V106.5H264.4V94.3H265.6V117.4H266.8V112.1H267.9V105.6H269.1V109H270.2V92.2H271.4V101.6H272.5V73.8H273.7V99.1H274.8V116.8H276V149.7H277.1V152.2H278.3V155.5H279.4V150H280.6V150.7H281.7V148.4H282.9V157.5H284V151.9H285.2V146.8H286.4V149.1H287.5V155.6H288.7V147.8H289.8V145.1H291V155.9H292.1V158.7H293.3V157.2H294.4V152.5H295.6V154.6H296.7V155.7H297.9V159.2H299V152.9H300.2V64.6H301.3V85.9H302.5V54.7H303.7V87H304.8V23.7H306V98H307.1V73.5H308.3V87.6H309.4V66.8H310.6V109.6H311.7V90.9H312.9V50.5H314V41H315.2V37.2H316.3V135.3H317.5V146.8H318.6V144.9H319.8V135H321V153.4H322.1V137.9H323.3V131.9H324.4V143.2H325.6" fill="none" stroke="#000" stroke-opacity="0.035" stroke-width="0.8"/><path d="M159.5 151.5H160.6V140.8H161.8V141H163V115.7H164.1V100H165.3V83.2H166.4V43H167.6V40.9H168.7V98.9H169.9V91.7H171V143.6H172.2V143.9H173.3V151.1H174.5V161.5H175.6V156.2H176.8V155.1H177.9V157.1H179.1V149.7H180.3V144.6H181.4V152.9H182.6V152.1H183.7V154H184.9V146.8H186V138.2H187.2V149.5H188.3V144.7H189.5V146H190.6V155.1H191.8V156.7H192.9V150.4H194.1V159.6H195.2V106.9H196.4V80.1H197.6V110.3H198.7V95.7H199.9V110.6H201V86H202.2V93.7H203.3V133.5H204.5V142H205.6V137H206.8V143.3H207.9V139.9H209.1V143.3H210.2V131.4H211.4V128.7H212.5V133.5H213.7V143.8H214.9V125.7H216V122.5H217.2V131.3H218.3V136.5H219.5V118H220.6V92.3H221.8V80.7H222.9V97.3H224.1V96.6H225.2V85.4H226.4V73.9H227.5V152.8H228.7V155.4H229.8V145.7H231V135.4H232.2V128.6H233.3V151H234.5V146.5H235.6V152.3H236.8V146.6H237.9V139.9H239.1V144.2H240.2V158.5H241.4V154.5H242.5V152.6H243.7V146.5H244.8V155.8H246V145.3H247.1V151.6H248.3V145.2H249.5V156.7H250.6V130.6H251.8V106.5H252.9V117.4H254.1V121.3H255.2V108.1H256.4V120.6H257.5V118.6H258.7V112.9H259.8V91.5H261V114.3H262.1V119.5H263.3V123.7H264.4V123.8H265.6V124H266.8V108.1H267.9V149.5H269.1V156.7H270.2V144.3H271.4V143.8H272.5V149.8H273.7V153.3H274.8V152.9H276V116.5H277.1V131.5H278.3V108.6H279.4V113.5H280.6V97.4H281.7V81H282.9V99.4H284V97.6H285.2V87.2H286.4V93.6H287.5V94.7H288.7V93.8H289.8V65.5H291V77.7H292.1V144.2H293.3V132.8H294.4V143.1H295.6V141.7H296.7V140.6H297.9V138.7H299V136H300.2V145.2H301.3V139.6H302.5V153.5H303.7V143.3H304.8V145.7H306V145.6H307.1V137.3H308.3V95.5H309.4V127.2H310.6V119.4H311.7V104.3H312.9V124.1H314V124.5H315.2V122.6H316.3V148.5H317.5V146.6H318.6V150.3H319.8V148.5H321V146.1H322.1V146H323.3V151.3H324.4V140H325.6" fill="none" stroke="#000" stroke-opacity="0.035" stroke-width="0.8"/><path d="M159.5 95.2H160.6V61.5H161.8V50.6H163V116.1H164.1V109.2H165.3V128.2H166.4V138.4H167.6V122.8H168.7V142.4H169.9V140.2H171V146.9H172.2V138.7H173.3V125.4H174.5V130.6H175.6V138.6H176.8V135.5H177.9V137.1H179.1V86.5H180.3V84.1H181.4V103.3H182.6V83.2H183.7V85.6H184.9V87.4H186V102.7H187.2V140H188.3V142.5H189.5V146.9H190.6V147H191.8V150.2H192.9V154.9H194.1V153.2H195.2V145.4H196.4V146.7H197.6V134.7H198.7V144.1H199.9V150.5H201V142.6H202.2V144H203.3V147.7H204.5V149.6H205.6V148H206.8V149.1H207.9V137H209.1V139.6H210.2V146H211.4V106.1H212.5V108H213.7V82.5H214.9V85.5H216V108.4H217.2V105.5H218.3V114.1H219.5V140.8H220.6V140.6H221.8V119.5H222.9V136.3H224.1V142.5H225.2V143.1H226.4V150.7H227.5V142.8H228.7V147.4H229.8V145.7H231V136.5H232.2V137.7H233.3V141.5H234.5V137.7H235.6V148.8H236.8V147.3H237.9V138.2H239.1V142.6H240.2V137.9H241.4V134.9H242.5V127H243.7V62.8H244.8V49H246V65H247.1V102.8H248.3V86.3H249.5V111H250.6V105H251.8V147.4H252.9V144.1H254.1V144.3H255.2V145.8H256.4V150.8H257.5V158H258.7V148.5H259.8V107.9H261V82.4H262.1V94.7H263.3V136.1H264.4V117.7H265.6V69.9H266.8V80.4H267.9V139.8H269.1V136.9H270.2V143.6H271.4V120.4H272.5V135.2H273.7V130.6H274.8V124.8H276V136.3H277.1V136.1H278.3V138.5H279.4V141H280.6V144.2H281.7V135.4H282.9V131.8H284V88.6H285.2V75.8H286.4V98.2H287.5V79.9H288.7V79.2H289.8V28.7H291V91.5H292.1V157.7H293.3V155.9H294.4V157.3H295.6V154.3H296.7V162.3H297.9V157.5H299V153.9H300.2V153.8H301.3V157.5H302.5V157.3H303.7V157.5H304.8V158.6H306V157.6H307.1V146.9H308.3V83.5H309.4V117.5H310.6V79.5H311.7V102.2H312.9V76.8H314V92.7H315.2V100.6H316.3V155.3H317.5V152.2H318.6V145.9H319.8V135.5H321V141.2H322.1V138.9H323.3V146.8H324.4V137.6H325.6" fill="none" stroke="#000" stroke-opacity="0.035" stroke-width="0.8"/><path d="M159.5 144.4H160.6V130.3H161.8V116.2H163V118H164.1V79.2H165.3V120.2H166.4V130.4H167.6V117H168.7V95.4H169.9V121.3H171V123.2H172.2V101H173.3V85.2H174.5V89.3H175.6V77.6H176.8V54.4H177.9V106H179.1V123.1H180.3V121.7H181.4V129.9H182.6V128.4H183.7V138.8H184.9V138.7H186V141.8H187.2V139H188.3V139.3H189.5V136.3H190.6V123.6H191.8V124.5H192.9V123.7H194.1V132.6H195.2V118.5H196.4V71.3H197.6V91H198.7V76.2H199.9V81.9H201V88.3H202.2V85.3H203.3V137.2H204.5V141H205.6V149.6H206.8V148.9H207.9V137.1H209.1V137.6H210.2V139.6H211.4V127.1H212.5V128.5H213.7V144.4H214.9V142.1H216V146.4H217.2V149.5H218.3V141.9H219.5V128.6H220.6V97.6H221.8V73.6H222.9V104.4H224.1V111.3H225.2V103.7H226.4V115.1H227.5V87.8H228.7V103.4H229.8V88.6H231V86.6H232.2V80.8H233.3V100.5H234.5V118.1H235.6V143.6H236.8V142.7H237.9V143H239.1V136.2H240.2V149.6H241.4V150.5H242.5V153.4H243.7V135.3H244.8V141.5H246V138.7H247.1V149.6H248.3V153.1H249.5V146.9H250.6V141.2H251.8V142.4H252.9V144.4H254.1V133.4H255.2V147.2H256.4V130.2H257.5V149.5H258.7V152.5H259.8V105.3H261V101.1H262.1V81.3H263.3V101.7H264.4V110.3H265.6V95.6H266.8V76H267.9V125.4H269.1V142.7H270.2V140.6H271.4V130.5H272.5V123.9H273.7V133.5H274.8V140.8H276V148H277.1V130.7H278.3V148.6H279.4V137.6H280.6V138.2H281.7V141.5H282.9V135.3H284V145.6H285.2V138.9H286.4V136.5H287.5V119.4H288.7V129.8H289.8V135.1H291V139H292.1V89.3H293.3V97.8H294.4V94.7H295.6V78.4H296.7V102.8H297.9V109.6H299V117.3H300.2V142.5H301.3V138.1H302.5V142.8H303.7V136.3H304.8V135.1H306V146.9H307.1V147H308.3V136.7H309.4V141.7H310.6V140.4H311.7V151.6H312.9V145.2H314V156.6H315.2V144.9H316.3V156.5H317.5V152.9H318.6V145.5H319.8V148.8H321V147.1H322.1V152.3H323.3V138H324.4V77.3H325.6" fill="none" stroke="#000" stroke-opacity="0.035" stroke-width="0.8"/><path d="M159.5 101.8H160.6V100.2H161.8V90.8H163V152.1H164.1V151.5H165.3V143.2H166.4V146.5H167.6V156.6H168.7V149.8H169.9V155.2H171V141.4H172.2V130.2H173.3V144H174.5V144.4H175.6V152.6H176.8V152.4H177.9V150.9H179.1V128.1H180.3V130.5H181.4V127H182.6V130.8H183.7V117.8H184.9V119.5H186V97.8H187.2V143.1H188.3V136.5H189.5V138.4H190.6V141.7H191.8V125.1H192.9V122.3H194.1V139.3H195.2V125H196.4V147.3H197.6V146.9H198.7V150.5H199.9V146.4H201V139.7H202.2V142.5H203.3V103.3H204.5V60.6H205.6V90.4H206.8V105.5H207.9V81.8H209.1V94.8H210.2V94.2H211.4V156.2H212.5V155.2H213.7V150.2H214.9V156.9H216V150.9H217.2V151.8H218.3V156.1H219.5V154.2H220.6V156.4H221.8V145.9H222.9V154.9H224.1V147.3H225.2H226.4V144.9H227.5V75.9H228.7V84.4H229.8V67.3H231V79.7H232.2V90.3H233.3V81.3H234.5V69.5H235.6V108.7H236.8V76.6H237.9V64.5H239.1V70.9H240.2V88.1H241.4V41.6H242.5V56.4H243.7V124H244.8V111.8H246V145.8H247.1V150.5H248.3V129.2H249.5V144.8H250.6V150.3H251.8V130.1H252.9V125.8H254.1V127.9H255.2V131.5H256.4V136.3H257.5V128.1H258.7V135.6H259.8V136.2H261V124.9H262.1V124.4H263.3V146.3H264.4V150.1H265.6V146.7H266.8V135.6H267.9V73.7H269.1V44.4H270.2V59H271.4V41.1H272.5V25.6H273.7V38.8H274.8V64.5H276V42.2H277.1V82.3H278.3V70.1H279.4V33.4H280.6V66.8H281.7V78.9H282.9V20.3H284V136.2H285.2V140.2H286.4V125.9H287.5V138H288.7V146.3H289.8V144H291V139.9H292.1V122.8H293.3V123.9H294.4V100.7H295.6V102.5H296.7V101.8H297.9V109.3H299V116.2H300.2V133.6H301.3V148.3H302.5V136.6H303.7V133.3H304.8V152.6H306V136.3H307.1V143.2H308.3V145.6H309.4V152.3H310.6V150.7H311.7V143.6H312.9V152H314V152.3H315.2V146.2H316.3V90.4H317.5V93.4H318.6V79H319.8V75.1H321V47.1H322.1V69.6H323.3V64.9H324.4V144.5H325.6" fill="none" stroke="#000" stroke-opacity="0.035" stroke-width="0.8"/><path d="M159.5 129.9H160.6V139.6H161.8V138.9H163V135.5H164.1V130.1H165.3V128.6H166.4V119H167.6V111.7H168.7V109.6H169.9V116.4H171V106.3H172.2V93.6H173.3V61.3H174.5V78H175.6V66.5H176.8V73.1H177.9V117.4H179.1V114.7H180.3V64.4H181.4V39.8H182.6V65H183.7V83.9H184.9V35.2H186V12.9H187.2V157H188.3V155.5H189.5V149H190.6V140.4H191.8V146.4H192.9V145.9H194.1V136.1H195.2V141.2H196.4V138.3H197.6V142.4H198.7V135H199.9V143.1H201V143.7H202.2V141.4H203.3V86.1H204.5V80H205.6V75H206.8V83.2H207.9V91H209.1V61.4H210.2V76H211.4V76.7H212.5V102.3H213.7V95.1H214.9V103.3H216V76.6H217.2V82.2H218.3V92.1H219.5V146.1H220.6V148.4H221.8V151.3H222.9V135.5H224.1V144.4H225.2V158.5H226.4V145.9H227.5V146.9H228.7V131.9H229.8V132.6H231V150.3H232.2V146.9H233.3V156.2H234.5V152H235.6V156.4H236.8V152.1H237.9V149.8H239.1V144H240.2V151H241.4V140.5H242.5V156.3H243.7V123.7H244.8V110.7H246V106.2H247.1V122.1H248.3V82.9H249.5V91.5H250.6V107.3H251.8V153.1H252.9V149.9H254.1H255.2V154.7H256.4V150.6H257.5V144.1H258.7V153.2H259.8V87H261V89.6H262.1V84H263.3V61H264.4V97.2H265.6V101.1H266.8V86.7H267.9V47.8H269.1V24.7H270.2V54.3H271.4V59.8H272.5V71.1H273.7V84.6H274.8V48.2H276V146.5H277.1V148.5H278.3V150.6H279.4V148.3H280.6V153.5H281.7V150.9H282.9V155.8H284V150.9H285.2V144.7H286.4V155.4H287.5V156H288.7V146.1H289.8V151.8H291V143H292.1V109H293.3V98.7H294.4V99.1H295.6V65.3H296.7V77.2H297.9V127.7H299V96H300.2V127H301.3V138.2H302.5V124.4H303.7V139.1H304.8V111H306V133.9H307.1V126.8H308.3V105.6H309.4V111.2H310.6V99.7H311.7V115.5H312.9V112H314V91.6H315.2V128.5H316.3V121.9H317.5V110H318.6V119.3H319.8V118.3H321V89.8H322.1V92.4H323.3V81H324.4V148.1H325.6" fill="none" stroke="#000" stroke-opacity="0.035" stroke-width="0.8"/><path d="M159.5 153.5H160.6V154.4H161.8V147.9H163V92.7H164.1V88.8H165.3V113.6H166.4V100.1H167.6V114.5H168.7V92.4H169.9V77.7H171V119.9H172.2V96.4H173.3V76.3H174.5V52H175.6V73.2H176.8V102.6H177.9V109.5H179.1V149H180.3V149.8H181.4V139.5H182.6V133.6H183.7V142.1H184.9V149.7H186V142.7H187.2V139.6H188.3V143.6H189.5V148.8H190.6V147.6H191.8V143H192.9V152.3H194.1V140.9H195.2V99.7H196.4V101.4H197.6V108.2H198.7V120.9H199.9V94.7H201V76.9H202.2V101H203.3V143.4H204.5V139.5H205.6V131.8H206.8V140.9H207.9V142.5H209.1V131.5H210.2V143.1H211.4V111.6H212.5V104.1H213.7V116.9H214.9V96.6H216V118.3H217.2V101H218.3V66.7H219.5V63.8H220.6V56.6H221.8V89.3H222.9V62.2H224.1V25.5H225.2V69.1H226.4V69.7H227.5V145.2H228.7V127.3H229.8V141.7H231V126.2H232.2V140.6H233.3V129.8H234.5V151.2H235.6V141.7H236.8V150.9H237.9V133.3H239.1V148.3H240.2V161.4H241.4V152.1H242.5V152.3H243.7V17.1H244.8V31.8H246V41.5H247.1V62.5H248.3V36.8H249.5V71.9H250.6V65H251.8V57.4H252.9V31H254.1V46.5H255.2V58.8H256.4V62.1H257.5V18.8H258.7V47.6H259.8V139.5H261V139.1H262.1V154H263.3V141.3H264.4V138.8H265.6V143.5H266.8V137.5H267.9V95H269.1V92.8H270.2V82.4H271.4V88.4H272.5V106.3H273.7V90.1H274.8V69.5H276V151.1H277.1V154.3H278.3V153.4H279.4V160.7H280.6V157.7H281.7V162.1H282.9V155.8H284V158.5H285.2V158.9H286.4V162.9H287.5V157.2H288.7V164.8H289.8V156.7H291V158.1H292.1V91H293.3V63.6H294.4V99.7H295.6V71.1H296.7V89.7H297.9V84H299V79H300.2V46.3H301.3V111.6H302.5V103.1H303.7V94.2H304.8V97.6H306V80.8H307.1V89.8H308.3V133.2H309.4V140.9H310.6V144.6H311.7V144.2H312.9V134.4H314V132.8H315.2V123.9H316.3V126.9H317.5V130.2H318.6V128.9H319.8V106.1H321V116.2H322.1V115.4H323.3V127.2H324.4V116.1H325.6" fill="none" stroke="#000" stroke-opacity="0.035" stroke-width="0.8"/><path d="M159.5 93.1H160.6V112.2H161.8V95H163V160.3H164.1V152.9H165.3V155.3H166.4V142.6H167.6V130.2H168.7V146.6H169.9V153.4H171V96.4H172.2V97.5H173.3V104.1H174.5V107.3H175.6V106.3H176.8V108.7H177.9V87.7H179.1V72.6H180.3V85.5H181.4V72H182.6V79.9H183.7V81.6H184.9V96.5H186V75.5H187.2V139.2H188.3V131.3H189.5V128.9H190.6V143.4H191.8V144.3H192.9V138.9H194.1V146.3H195.2V138.6H196.4V144.6H197.6V140.3H198.7V131H199.9V140.3H201V146.5H202.2V139H203.3V82.9H204.5V72H205.6V93H206.8V90.8H207.9V98H209.1V50.1H210.2V86.3H211.4V55H212.5V86.7H213.7V83.1H214.9V88.8H216V50H217.2V63.2H218.3V66.7H219.5V149.5H220.6V156.9H221.8V155.3H222.9V151.5H224.1V157.7H225.2V145.8H226.4V149.3H227.5V140.3H228.7V145.7H229.8V146.4H231V140.7H232.2V148H233.3V155.4H234.5V153.4H235.6V109.6H236.8V122.1H237.9V118.1H239.1V107.8H240.2V88.6H241.4V95.1H242.5V92.6H243.7V116.6H244.8V138.7H246V138.9H247.1V134.4H248.3V141.4H249.5V131.7H250.6V161H251.8V123H252.9V114.5H254.1V108.7H255.2V99.6H256.4V130.5H257.5V107.7H258.7V100.6H259.8V154.2H261V141.7H262.1V137.4H263.3V155.7H264.4V154.7H265.6V154.2H266.8V142.4H267.9V137.7H269.1V146.1H270.2V143.1H271.4V145.6H272.5V133.6H273.7V149H274.8V151.3H276V119.2H277.1V116.6H278.3V106.7H279.4V75.3H280.6V98.6H281.7V83.4H282.9V107.2H284V94.8H285.2V84.3H286.4V74.8H287.5V87.3H288.7V112H289.8V112.3H291V124H292.1V141.3H293.3V147.2H294.4V140.4H295.6V145.2H296.7V151.2H297.9V147.3H299V153.2H300.2V146H301.3V149.2H302.5V138.6H303.7V139.1H304.8V142.7H306V145.8H307.1V142.4H308.3V104.3H309.4V73.1H310.6V106.3H311.7V97.8H312.9V105.1H314V76.7H315.2V86.9H316.3V79.5H317.5V101.9H318.6V64.1H319.8V65.2H321V61.7H322.1V44H323.3V92.7H324.4V117.4H325.6" fill="none" stroke="#000" stroke-opacity="0.035" stroke-width="0.8"/><path d="M159.5 128.9H160.6V106.1H161.8V122.1H163V98.4H164.1V90.7H165.3V105H166.4V91.7H167.6V83.4H168.7V91.8H169.9V85.2H171V146.2H172.2V148.2H173.3V144.4H174.5V138.2H175.6V135.7H176.8V150.5H177.9H179.1V147.7H180.3V151.5H181.4V141.5H182.6V152H183.7V156.9H184.9V148.5H186V136.5H187.2V143.7H188.3V148.1H189.5V155.9H190.6V139.7H191.8V146.9H192.9V140.5H194.1V133.7H195.2V50.7H196.4V84.4H197.6V69.5H198.7V75.2H199.9V42.4H201V8.8H202.2V7.3H203.3V124.2H204.5V134.2H205.6V127.1H206.8V143.6H207.9V147.6H209.1V148.1H210.2V145.5H211.4V114.6H212.5V109.3H213.7V104.1H214.9V107.7H216V109.6H217.2V94.2H218.3V79.1H219.5V61.9H220.6V87.4H221.8V99.4H222.9V78H224.1V108.8H225.2V84.6H226.4V77.5H227.5V157.7H228.7V149.1H229.8V158.4H231V154.5H232.2V160.2H233.3V153.9H234.5V152.1H235.6V156.8H236.8V153.6H237.9V152.3H239.1V155H240.2V156.3H241.4V151.1H242.5V152.9H243.7V104.5H244.8V89.7H246V123.7H247.1V114.1H248.3V83.5H249.5V82.2H250.6V87.8H251.8V150H252.9V144.8H254.1V150.2H255.2V152.5H256.4V155.3H257.5V150.9H258.7V152.5H259.8V153.7H261V150.2H262.1V150.6H263.3V149.2H264.4V127.3H265.6V141.9H266.8V142.9H267.9V85.4H269.1V104.4H270.2V109.8H271.4V99.4H272.5V80.8H273.7V98.9H274.8V64.5H276V144H277.1V154.5H278.3V152H279.4V146.2H280.6V149H281.7V152.5H282.9V138.8H284V152.1H285.2V140H286.4V155.3H287.5V146.7H288.7V154H289.8V153.9H291V149.7H292.1V85.8H293.3V100.1H294.4V101.9H295.6V83.9H296.7V102.6H297.9V94.2H299V55.5H300.2V88H301.3V103.9H302.5V74.7H303.7V97.6H304.8V73.8H306V65.6H307.1V84.1H308.3V149.2H309.4V143.5H310.6V152.1H311.7V139.8H312.9V149H314V137.8H315.2V138H316.3V72.4H317.5V100.9H318.6V77.5H319.8V79.9H321V97.3H322.1V100H323.3V81.3H324.4V66.8H325.6" fill="none" stroke="#000" stroke-opacity="0.035" stroke-width="0.8"/><path d="M159.5 61.4H160.6V98.3H161.8V67.7H163V136.2H164.1V145.2H165.3V148.7H166.4V139.7H167.6V152.6H168.7V146.5H169.9V156.4H171V149.1H172.2V146.5H173.3V141.2H174.5V136.2H175.6V139.8H176.8V150.7H177.9V145.8H179.1V53.9H180.3V82.8H181.4V94.7H182.6V71.6H183.7V57.5H184.9V92.1H186V85.9H187.2V97.2H188.3V97.3H189.5V107.3H190.6V101.2H191.8V91.8H192.9V90.7H194.1V79.4H195.2V139.7H196.4V124.3H197.6V147H198.7V152.7H199.9V152.8H201V140.6H202.2V155.7H203.3V155.9H204.5V139.1H205.6V142.1H206.8V137.4H207.9V151.8H209.1V139.8H210.2V146.8H211.4V102.5H212.5V91.7H213.7V85H214.9V80.7H216V116.9H217.2V100.5H218.3V117H219.5V114.5H220.6V92.1H221.8V93.8H222.9V107.7H224.1V77.7H225.2V89.8H226.4V117.7H227.5V149.9H228.7V149.5H229.8V146.3H231V147.7H232.2V155.9H233.3V155.4H234.5V158H235.6V159.4H236.8V151.5H237.9V151.1H239.1V153H240.2V156.2H241.4V156.3H242.5V157.2H243.7V101.9H244.8V88.1H246V96.1H247.1V107.5H248.3V80H249.5V83H250.6V103H251.8V88.1H252.9V81.3H254.1V105.8H255.2V96.4H256.4V97.6H257.5V56.8H258.7V76.3H259.8V154.3H261V153.5H262.1V151.7H263.3V152.6H264.4V150.2H265.6V150.4H266.8V145.8H267.9V149.5H269.1V152.2H270.2V149.5H271.4V145.5H272.5V154.2H273.7V156.2H274.8V156.1H276V83H277.1V112.6H278.3V102.9H279.4V108.1H280.6V77H281.7V28.3H282.9V56.1H284V93.7H285.2V62.4H286.4V85.4H287.5V96H288.7V106.4H289.8V24.8H291V32.7H292.1V147.7H293.3V150.8H294.4V154.1H295.6V153.1H296.7V150.7H297.9V141.6H299V153.5H300.2V148.3H301.3V153.9H302.5V158.6H303.7V153.9H304.8V155.2H306V159.9H307.1V146.3H308.3V44.9H309.4V85.8H310.6V94.9H311.7V98.1H312.9V51.9H314V71.3H315.2V84.5H316.3V75.9H317.5V87.2H318.6V84.1H319.8V97.4H321V56.1H322.1V22.2H323.3V42.6H324.4V153.2H325.6" fill="none" stroke="#000" stroke-opacity="0.035" stroke-width="0.8"/><path d="M159.5 138.3H160.6V136.4H161.8V127.4H163V134.6H164.1V132.7H165.3V109.8H166.4V99.3H167.6V111.1H168.7V89.2H169.9V108.1H171V101.5H172.2V100.5H173.3V79H174.5V82H175.6V62.5H176.8V98.1H177.9V75.8H179.1V128.8H180.3V144.1H181.4V136.2H182.6V145.5H183.7V140.9H184.9V142.4H186V147.8H187.2V134.5H188.3V146H189.5V128.9H190.6V146.9H191.8V148.8H192.9V149.5H194.1V150.4H195.2V147.1H196.4V137.2H197.6V137.8H198.7V139.6H199.9V142H201V140.6H202.2V155H203.3V92.1H204.5V114H205.6V107.1H206.8V84.5H207.9V98.8H209.1V72.9H210.2V71.3H211.4V146.2H212.5V148.7H213.7V123.8H214.9V144H216V137.4H217.2V136.8H218.3V133.6H219.5V133.9H220.6V149H221.8V144.8H222.9V144.4H224.1V132.7H225.2V155.3H226.4V150.6H227.5V98.5H228.7V95.2H229.8V85.1H231V46.4H232.2V60.7H233.3V48.4H234.5V74.3H235.6V55.4H236.8V74.4H237.9V38.2H239.1V18.8H240.2V42H241.4V33.7H242.5V14.2H243.7V150.1H244.8V151.5H246V147.6H247.1V155.9H248.3V151.3H249.5V144.2H250.6V148.7H251.8V132.7H252.9V147.2H254.1V152.5H255.2V146.5H256.4V143.8H257.5V146.6H258.7V141.5H259.8V142.2H261V149.7H262.1V137.4H263.3V144.2H264.4V143.8H265.6V148H266.8V141.8H267.9V115.9H269.1V78.9H270.2V104.4H271.4V29.1H272.5V92.5H273.7V91.5H274.8V93.1H276V140.9H277.1V147.2H278.3V154.9H279.4V152.2H280.6V147.5H281.7V148.4H282.9V148.3H284V147.6H285.2H286.4V143.7H287.5V152.7H288.7V151.3H289.8V155.6H291V153.3H292.1V103.8H293.3V104.1H294.4V118.4H295.6V119H296.7V117.6H297.9V120.3H299V94H300.2V74.4H301.3V101H302.5V74.9H303.7V81.2H304.8V86.3H306V57.7H307.1V44.7H308.3V154.9H309.4V138.4H310.6V143.7H311.7V151.1H312.9V139H314V144.9H315.2V145.1H316.3V145.9H317.5V145.7H318.6V148.7H319.8V145.1H321V143.1H322.1V134H323.3V136.1H324.4V65.3H325.6" fill="none" stroke="#000" stroke-opacity="0.035" stroke-width="0.8"/><path d="M159.5 128.2H160.6V124.1H161.8V137.6H163V119.9H164.1V101.7H165.3V136.9H166.4V123.2H167.6V128H168.7V95.6H169.9V76.7H171V142.3H172.2V147.3H173.3V133.2H174.5V142.9H175.6V144.1H176.8V150.9H177.9V145.8H179.1V150.8H180.3V140.4H181.4V144.9H182.6V147.3H183.7V144.2H184.9V137.8H186V152.5H187.2V154.6H188.3V149.6H189.5V133.9H190.6V149.3H191.8V151.5H192.9V146.8H194.1V147.8H195.2V105.1H196.4V99.8H197.6V81.8H198.7V115.2H199.9V98.8H201V75.3H202.2V99.5H203.3V154.3H204.5V148.6H205.6V152.4H206.8V152.3H207.9V152.9H209.1V145.5H210.2V154.4H211.4V149.2H212.5V150H213.7V149.1H214.9V147.4H216V154.8H217.2V142.2H218.3V145.6H219.5V97.8H220.6V81.4H221.8V56.2H222.9V88.3H224.1V79.2H225.2V81.8H226.4V61.5H227.5V145.4H228.7V152.3H229.8V159H231V156.2H232.2V156.9H233.3V139.6H234.5V154.5H235.6V156.9H236.8V154.9H237.9V150.8H239.1V146.7H240.2V153.5H241.4V147.1H242.5V155.3H243.7V108.6H244.8V94.2H246V86.5H247.1V33.7H248.3V61.6H249.5V84.2H250.6V111.9H251.8V139H252.9V123.6H254.1V141.4H255.2V139.1H256.4V133.1H257.5V112.7H258.7V136.5H259.8V132.6H261V135.7H262.1V134.8H263.3V144.6H264.4V149.8H265.6V148.1H266.8V153.4H267.9V112.3H269.1V72.5H270.2V58.5H271.4V70.2H272.5V57.3H273.7V98.4H274.8V75.3H276V59.6H277.1V113.3H278.3V98.1H279.4V83.8H280.6V87.6H281.7V111.2H282.9V57.2H284V150.5H285.2V153.1H286.4V137.2H287.5V148.9H288.7V155.6H289.8V156.6H291V147H292.1V149.1H293.3V156.2H294.4V151.1H295.6V155.3H296.7V149.3H297.9V144.9H299V151.1H300.2V91.5H301.3V79.1H302.5V117.4H303.7V84.7H304.8V91H306V68.1H307.1V74H308.3V43.2H309.4V25.9H310.6V91.9H311.7V103.9H312.9V96.1H314V62.8H315.2V74.9H316.3V154.1H317.5V162.2H318.6V150H319.8V138.7H321V148.8H322.1V140.6H323.3V140H324.4V151.9H325.6" fill="none" stroke="#000" stroke-opacity="0.035" stroke-width="0.8"/>
<path d="M540.7 39.1H541.7V37.6H542.8V36.1H543.8V28.1H544.8V20.4H545.9V22.9H546.9V27.5H547.9V112.5H548.9H550V109.4H551V109.3H552V107.4H553.1H554.1V107.8H555.1V109.1H556.1V111.1H557.2V111H558.2V111.7H559.2V112.4H560.3V115.2H561.3V115.7H562.3V117.4H563.4V123.3H564.4V124.7H565.4V125.8H566.5V130H567.5H568.5V131.9H569.5V134.3H570.6V136.6H571.6V139.7H572.6V139.6H573.7V141.8H574.7V144.4H575.7V145.4H576.8H577.8V146.6H578.8V147.3H579.8V148.2H580.9V150H581.9V151.6H582.9V152.4H584V153.1H585V154.7H586V155H587V156.3H588.1H589.1V156.7H590.1V157.6H591.2V158.6H592.2V157.4H593.2V159.5H594.3V160.1H595.3H596.3V161.1H597.4V161.7H598.4V162.7H599.4V163.3H600.4V163.1H601.5V164.1H602.5V164.6H603.5V164.1H604.6V164.4H605.6V147H606.6V146.8H607.6V149.8H608.7V149.4H609.7V150.5H610.7V152.9H611.8V153.8H612.8V144.7H613.8V147.1H614.9V149H615.9H616.9V149.6H618V150.6H619V151.5H620V146.3H621V148.2H622.1H623.1V148.9H624.1V149.3H625.2V151.7H626.2V153.7H627.2V146.4H628.2V148.1H629.3V149H630.3V149.3H631.3V148H632.4V149.7H633.4V153.7H634.4V143H635.5V144.6H636.5V147.3H637.5V146.8H638.5V150H639.6V152.2H640.6V152.3H641.6V143.8H642.7V147.7H643.7V148.1H644.7V149.6H645.8V150.1H646.8V152.1H647.8V153.8H648.9V144.8H649.9V147.2H650.9V147.9H651.9V150.7H653V151.4H654V151.9H655V153.4H656.1V146.2H657.1V147.2H658.1V148.7H659.2V149.1H660.2V151.4H661.2V152H662.2V152.3H663.3V145.6H664.3V144.9H665.3V148.8H666.4V148.7H667.4V150.6H668.4V152.5H669.5V152.2H670.5V144.5H671.5V172.3H670.5V172.2H669.5V172.6H668.4V172.1H667.4V172.2H666.4V172.6H665.3V172.4H664.3V172.9H663.3V172.6H662.2H661.2V172.9H660.2V172.2H659.2V172.4H658.1V172.1H657.1V172.6H656.1V172.2H655V172.3H654V172.8H653V172.3H651.9V172.5H650.9V172.6H649.9V171.9H648.9V172.4H647.8V172.6H646.8V172.4H645.8V172H644.7V172.4H643.7V172.1H642.7H641.6H640.6H639.6V172H638.5V172.8H637.5V172.3H636.5V171.6H635.5V172.3H634.4V173.1H633.4V172.2H632.4V172.5H631.3V171.9H630.3V172.5H629.3V172.6H628.2V172.4H627.2V172.5H626.2H625.2V172.3H624.1V172.4H623.1V172.5H622.1V172.1H621V172.7H620V172.2H619V172.3H618H616.9V172.1H615.9V172H614.9V171.8H613.8V172.3H612.8V171.6H611.8V171.7H610.7V171.4H609.7V171.1H608.7V170.4H607.6V171.1H606.6V170.5H605.6V170.4H604.6V169.9H603.5V170.5H602.5V170.3H601.5V169.4H600.4V170.3H599.4V169.6H598.4V169H597.4V168.3H596.3V167.6H595.3V167.7H594.3V166.8H593.2V166.4H592.2V166.3H591.2V165.5H590.1V167H589.1V165.4H588.1V165.9H587V165.1H586V165.6H585V163.5H584V162.3H582.9V162.2H581.9V160.8H580.9V160.3H579.8V159.8H578.8V159.3H577.8V157.5H576.8H575.7V156.9H574.7V155.5H573.7V155.4H572.6V155H571.6V152.3H570.6V150.3H569.5V149.2H568.5V148.8H567.5V146.7H566.5V146.3H565.4V142.2H564.4V141.9H563.4V139.5H562.3V137H561.3H560.3V138.7H559.2V135.9H558.2V137.1H557.2V131.7H556.1V134.7H555.1V131.9H554.1V134.2H553.1H552V134.9H551V134.1H550V136.6H548.9H547.9V41H546.9V36.3H545.9V34.3H544.8V40.8H543.8V47.9H542.8V50.2H541.7V53.5H540.7Z" fill="#000" fill-opacity="0.025"/><path d="M540.7 42.3H541.7V40H542.8V37.5H543.8V30.4H544.8V23H545.9V24.2H546.9V29.4H547.9V116.4H548.9V115.1H550V114.2H551V111.7H552V111.6H553.1V111.7H554.1V111H555.1V111.2H556.1V113.2H557.2V113.1H558.2V114.6H559.2V116.2H560.3V118.1H561.3V119.2H562.3V119.9H563.4V124.6H564.4V127.4H565.4V128.2H566.5V131.2H567.5V132.9H568.5V135H569.5V136.7H570.6V139.4H571.6V141.1H572.6V143.8H573.7V144.6H574.7V145.4H575.7V146.5H576.8V147.1H577.8V148.5H578.8V149.3H579.8V149.9H580.9V151.2H581.9V152.1H582.9V153.7H584V154.7H585V155.6H586V156.7H587V157.3H588.1V158.3H589.1V158.4H590.1V158.6H591.2V159.1H592.2V159.2H593.2V160.2H594.3V160.7H595.3V161.7H596.3V162.2H597.4V162.7H598.4V163.5H599.4V164H600.4V164.2H601.5V164.7H602.5V165H603.5V165.2H604.6V165.4H605.6V149.6H606.6V151.3H607.6V153H608.7V153.3H609.7V153.4H610.7V155.4H611.8V156.8H612.8V148.2H613.8V149.2H614.9V150.3H615.9V151H616.9V153.6H618V153.3H619V154.6H620V149.1H621V149.3H622.1V150.8H623.1V152.1H624.1V153.5H625.2V154.6H626.2V155.5H627.2V148.6H628.2V150.1H629.3V151.4H630.3H631.3V152.9H632.4V153.6H633.4V155.4H634.4V146.8H635.5V148.2H636.5V150H637.5V151.6H638.5V152.3H639.6V154H640.6V153.7H641.6V147.9H642.7V149.5H643.7V151.3H644.7V152.2H645.8V153.4H646.8V153.9H647.8V155.4H648.9V147.6H649.9V150.3H650.9V150.8H651.9V152H653V152.8H654V154.5H655V155.8H656.1V148.1H657.1V149.7H658.1V151.7H659.2V153.1H660.2H661.2V154.2H662.2V155.6H663.3V148.9H664.3V149.6H665.3V151.2H666.4V152H667.4V152.1H668.4V154.4H669.5V155H670.5V148.1H671.5V171.6H670.5H669.5V172H668.4V171.5H667.4V171.9H666.4V172H665.3V171.7H664.3V171.9H663.3V171.7H662.2V171.8H661.2V172.1H660.2V171.7H659.2V171.6H658.1H657.1V171.5H656.1V171.8H655V171.5H654H653V171.3H651.9V171.5H650.9V171.7H649.9V171.3H648.9V171.8H647.8H646.8V171.6H645.8V171.8H644.7H643.7V171.6H642.7H641.6H640.6H639.6H638.5V172.1H637.5V171.5H636.5V171.3H635.5V171.7H634.4V171.9H633.4V171.6H632.4V171.9H631.3V171.5H630.3V171.8H629.3V171.5H628.2V171.7H627.2V171.8H626.2H625.2H624.1H623.1V172.1H622.1V171.3H621V171.6H620V171.7H619V171.6H618V171.5H616.9V171.4H615.9V171.7H614.9V171.3H613.8V171.5H612.8V171.1H611.8V171H610.7V170.7H609.7V170.5H608.7V169.6H607.6V170H606.6V169.9H605.6V169.8H604.6V169.5H603.5V169.3H602.5H601.5V168.7H600.4V168.9H599.4V168.7H598.4V168.2H597.4V167H596.3V166.5H595.3V166H594.3V165.6H593.2V165.4H592.2H591.2V164.5H590.1V164.8H589.1V164.7H588.1V163.7H587V162.9H586V162.3H585V161.8H584V161.2H582.9V160H581.9V159.3H580.9V158.8H579.8V158.1H578.8V157.1H577.8V156.4H576.8V155.6H575.7H574.7V154.4H573.7V153H572.6V152H571.6V150.2H570.6V148.6H569.5V147.4H568.5V146.7H567.5V143.8H566.5V143H565.4V140.8H564.4V138.9H563.4V137.1H562.3V135H561.3V135.4H560.3V134.1H559.2V132.3H558.2V132H557.2V129.8H556.1V129.5H555.1V128.6H554.1V131.3H553.1V130.1H552V129.7H551V130.8H550V132.3H548.9V134.3H547.9V38.9H546.9V34.8H545.9V33H544.8V40H543.8V46.4H542.8V48.9H541.7V51.9H540.7Z" fill="#000" fill-opacity="0.03"/><path d="M540.7 43.6H541.7V41.6H542.8V38.4H543.8V31.8H544.8V24.6H545.9V25.9H546.9V30.4H547.9V119.7H548.9V116.9H550V115.6H551V114.3H552V114.6H553.1V114.9H554.1V113.2H555.1V114H556.1V115.9H557.2V116.6H558.2V116.8H559.2V118.6H560.3V120.1H561.3V122.2H562.3V123.2H563.4V126.6H564.4V129.1H565.4V130.3H566.5V133.2H567.5V134.7H568.5V137.1H569.5V138.6H570.6V141.1H571.6V142.7H572.6V144.8H573.7V145.7H574.7V146.4H575.7V148H576.8V147.9H577.8V149.7H578.8V150.3H579.8V151.4H580.9V152.4H581.9V153.5H582.9V154.4H584V155.8H585V156.2H586V157.5H587V158.1H588.1V159H589.1V159.4H590.1V159.6H591.2V159.9H592.2V160.2H593.2V160.8H594.3V161.4H595.3V162.3H596.3V162.9H597.4V163.6H598.4V164.2H599.4V164.6H600.4V165.1H601.5V165.3H602.5V165.7H603.5H604.6V166H605.6V152.9H606.6V154.1H607.6V154.9H608.7V155.3H609.7V157H610.7V157.2H611.8V158.6H612.8V149.8H613.8V150.8H614.9V152.6H615.9V152.7H616.9V154.9H618V155H619V156H620V151.5H621V152.6H622.1V153.5H623.1V154.5H624.1V155.2H625.2V156.6H626.2V157.6H627.2V151.1H628.2V152.4H629.3V153.4H630.3V153.2H631.3V155.2H632.4V155.7H633.4V157.1H634.4V150.5H635.5V150.8H636.5V152.4H637.5V153.3H638.5V155H639.6V156.2H640.6V156.6H641.6V151H642.7V151.4H643.7V153.7H644.7V154.4H645.8V154.8H646.8V156.5H647.8V156.8H648.9V150.8H649.9V152.1H650.9V152.5H651.9V153.8H653V154.8H654V156.5H655V157.1H656.1V149.5H657.1V151.7H658.1V152.8H659.2V154.2H660.2V154.3H661.2V155.5H662.2V157.3H663.3V150.4H664.3V151.9H665.3V153.2H666.4V154H667.4V154.9H668.4V155.9H669.5V156.8H670.5V150.5H671.5V171H670.5V171.1H669.5V171.2H668.4V171H667.4V171.2H666.4H665.3V171.1H664.3H663.3V170.9H662.2V171.2H661.2V170.9H660.2V171.1H659.2V170.9H658.1V171.1H657.1V171H656.1V170.6H655V170.7H654V170.6H653V170.8H651.9V171H650.9H649.9V170.7H648.9V171.2H647.8H646.8V171.1H645.8V171.3H644.7V171.1H643.7V171H642.7H641.6V171.1H640.6V170.9H639.6V171.2H638.5V171H637.5V171.1H636.5V170.9H635.5V171.2H634.4H633.4V170.9H632.4V171.1H631.3V171H630.3H629.3V170.9H628.2V171H627.2V171.1H626.2V171.4H625.2V171H624.1V171.2H623.1V171.1H622.1V170.8H621V171.1H620H619V170.9H618H616.9V170.8H615.9V171H614.9V170.7H613.8V170.4H612.8V170.7H611.8V170.4H610.7V170.2H609.7V169.8H608.7V169.2H607.6V169.5H606.6V168.9H605.6V169.4H604.6V168.9H603.5V168.7H602.5H601.5V168H600.4V167.8H599.4H598.4V167.3H597.4V166.5H596.3V166H595.3V165.3H594.3V165.1H593.2V164.8H592.2V164.6H591.2V164H590.1V163.7H589.1V163.9H588.1V162.9H587V162.2H586V161.3H585V161H584V159.8H582.9V159.2H581.9V158.1H580.9V157.5H579.8V156.7H578.8V155.9H577.8V154.9H576.8V154.6H575.7V154.2H574.7V152.9H573.7V151.6H572.6V150.4H571.6V148.6H570.6V147.5H569.5V145.9H568.5V144.3H567.5V142.2H566.5V141.4H565.4V138.8H564.4V137H563.4V135.3H562.3V133H561.3V131.6H560.3V131.7H559.2V129.6H558.2V128.9H557.2V127.4H556.1V126.8H555.1V126.4H554.1V128.7H553.1V127.7H552V127.1H551V128H550V130H548.9V131.4H547.9V37.7H546.9V33.6H545.9V32.1H544.8V38.6H543.8V44.7H542.8V47.4H541.7V50.8H540.7Z" fill="#000" fill-opacity="0.03"/><path d="M540.7 45.3H541.7V42.7H542.8V39.6H543.8V33H544.8V26.2H545.9V27.9H546.9V32H547.9V122.1H548.9V119.2H550V117.2H551V117.1H552V116.4H553.1V116.3H554.1V115.6H555.1V117H556.1V118.2H557.2H558.2V119.8H559.2V121.4H560.3V122.8H561.3V123.8H562.3V124.7H563.4V128.5H564.4V130.8H565.4V132.8H566.5V134.5H567.5V136.2H568.5V138.7H569.5V140.5H570.6V142.1H571.6V143.9H572.6V145.7H573.7V147.2H574.7V147.8H575.7V149.1H576.8V149.8H577.8V150.9H578.8V151.3H579.8V152.7H580.9V153.6H581.9V154.9H582.9V155.2H584V156.6H585V157.1H586V158.4H587V158.7H588.1V159.6H589.1V160.2H590.1V160.1H591.2V160.6H592.2V161.1H593.2V161.6H594.3V162.1H595.3V163.2H596.3V163.5H597.4V164.2H598.4V164.7H599.4V165H600.4V165.5H601.5V165.7H602.5V166H603.5V166.3H604.6V166.4H605.6V157.2H606.6H607.6V158.7H608.7V159.3H609.7V160.1H610.7V160.4H611.8V161.5H612.8V152.2H613.8V152.6H614.9V154.7H615.9V154.6H616.9V156.2H618V157H619V157.8H620V153.8H621V155.1H622.1V155.7H623.1V156.8H624.1V157.5H625.2V158.6H626.2V159.3H627.2V153.1H628.2V153.8H629.3V155.1H630.3V155.2H631.3V156.9H632.4V158.1H633.4V158.2H634.4V152.5H635.5V153.3H636.5V154.7H637.5V156H638.5V156.5H639.6V157.9H640.6V158.3H641.6V153H642.7V153.6H643.7V155.7H644.7V156.4H645.8V157.4H646.8V158.2H647.8V158.3H648.9V152.5H649.9V153.4H650.9V154.3H651.9V155.6H653V156.3H654V157.8H655V158.5H656.1V152H657.1V154.1H658.1V154.8H659.2V156.2H660.2V156.5H661.2V158.2H662.2V158.5H663.3V152.5H664.3V154.7H665.3V155.3H666.4V156.3H667.4V157.6H668.4V157.8H669.5V158.5H670.5V152.4H671.5V170.5H670.5H669.5V170.6H668.4V170.5H667.4V170.6H666.4V170.8H665.3V170.5H664.3H663.3V170.4H662.2V170.7H661.2V170.3H660.2V170.4H659.2V170.2H658.1V170.3H657.1V170.4H656.1V170.1H655H654V169.9H653V170.2H651.9V170.1H650.9V170.3H649.9V170.2H648.9V170.5H647.8V170.4H646.8V170.6H645.8V170.5H644.7H643.7V170.4H642.7V170.5H641.6V170.6H640.6V170.4H639.6H638.5V170.3H637.5V170.5H636.5V170.3H635.5V170.6H634.4V170.2H633.4V170.1H632.4V170.6H631.3V170.5H630.3H629.3V170.4H628.2V170.3H627.2V170.6H626.2V170.7H625.2V170.4H624.1V170.6H623.1V170.5H622.1V170.3H621V170.4H620H619V170.3H618V170.4H616.9H615.9V170.2H614.9H613.8V169.9H612.8V170.1H611.8V169.9H610.7V169.7H609.7V169.5H608.7V168.6H607.6V168.9H606.6V168.6H605.6V168.7H604.6V168.4H603.5V168.3H602.5V168.1H601.5V167.6H600.4V167.3H599.4V167H598.4V166.6H597.4V166.1H596.3V165.5H595.3V164.8H594.3V164.3H593.2V163.9H592.2V163.7H591.2V163.3H590.1V163H589.1V162.6H588.1V161.9H587V161.2H586V160.4H585V159.7H584V158.9H582.9V158.2H581.9V157.1H580.9V156.4H579.8V155.4H578.8V154.8H577.8V154.1H576.8V153.3H575.7V152.8H574.7V151.8H573.7V150.5H572.6V149.1H571.6V147.5H570.6V145.9H569.5V144.1H568.5V142.5H567.5V140.7H566.5V139.4H565.4V137.1H564.4V135.5H563.4V132.8H562.3V131.2H561.3V129.7H560.3V129.3H559.2V127.5H558.2V126.7H557.2V126.1H556.1V124.8H555.1H554.1V125.1H553.1V125.3H552V125.6H551V125.8H550V127.5H548.9V129.6H547.9V36.4H546.9V32.6H545.9V30.9H544.8V37.5H543.8V43.7H542.8V46.6H541.7V49.3H540.7Z" fill="#000" fill-opacity="0.03"/><path d="M540.7 46H541.7V43.5H542.8V40.5H543.8V34.1H544.8V27.1H545.9V28.6H546.9V33H547.9V123.6H548.9V121.3H550V119.2H551V118.5H552V119.3H553.1V118.3H554.1V118H555.1V118.3H556.1V119.5H557.2V119.8H558.2V122H559.2V122.8H560.3V124.4H561.3V125H562.3V126.7H563.4V130.3H564.4V131.7H565.4V134.2H566.5V136H567.5V138.1H568.5V139.8H569.5V141.7H570.6V143.1H571.6V145H572.6V147H573.7V148.2H574.7V148.8H575.7V150.1H576.8V150.9H577.8V151.7H578.8V152.1H579.8V153.5H580.9V154.4H581.9V155.6H582.9V156H584V157.2H585V157.9H586V159H587V159.2H588.1V160H589.1V160.8H590.1V160.7H591.2V161.2H592.2V161.7H593.2V162.1H594.3V162.8H595.3V163.7H596.3V164.1H597.4V164.8H598.4V165.1H599.4V165.6H600.4V165.9H601.5V166.3H602.5V166.6H603.5V166.9H604.6V166.8H605.6V166.5H606.6V166.4H607.6V166.5H608.7V167.3H609.7V167.6H610.7V167.7H611.8V168.1H612.8V153.5H613.8V154.4H614.9V156.3H615.9V157.1H616.9V157.5H618V159H619V159.8H620V163.5H621V164.3H622.1V165H623.1V164.4H624.1V164.5H625.2V164.7H626.2V165.7H627.2V155.5H628.2V155.6H629.3V156.8H630.3V158.1H631.3V159.2H632.4V159.5H633.4V160.3H634.4V155.1H635.5V155.7H636.5V156.8H637.5V157.8H638.5V159H639.6V159.8H640.6V160.2H641.6V157.4H642.7H643.7V158.4H644.7V159.8H645.8V160H646.8V161.2H647.8V161H648.9V153.7H649.9V155.2H650.9V156H651.9V157.5H653V158H654V158.8H655V159.6H656.1V156H657.1V158H658.1V159H659.2V159.7H660.2V159.5H661.2V161.3H662.2V162.1H663.3V156.2H664.3V157.1H665.3V157.5H666.4V158.4H667.4V159.8H668.4V160.2H669.5V161H670.5V154.4H671.5V170H670.5H669.5V169.9H668.4H667.4H666.4V170H665.3H664.3H663.3V169.8H662.2V169.9H661.2V169.8H660.2V169.7H659.2V169.6H658.1V169.8H657.1V169.7H656.1V169.5H655V169.7H654V169.4H653V169.6H651.9H650.9V169.7H649.9V169.6H648.9V169.9H647.8V169.8H646.8V170.1H645.8H644.7V169.9H643.7H642.7V170H641.6H640.6V169.9H639.6H638.5V169.8H637.5V170H636.5V169.8H635.5V169.9H634.4V169.6H633.4V169.7H632.4V170.1H631.3V170H630.3V169.7H629.3H628.2V169.8H627.2V170.1H626.2H625.2V169.9H624.1V170H623.1V169.9H622.1V169.8H621H620H619V169.6H618V169.8H616.9V169.7H615.9V169.5H614.9V169.6H613.8V169.1H612.8V169.7H611.8V169.5H610.7V169.2H609.7V169H608.7V168.1H607.6V168.5H606.6V168H605.6V168.1H604.6V167.9H603.5V167.8H602.5V167.7H601.5V167.2H600.4V166.9H599.4V166.5H598.4V166.1H597.4V165.5H596.3V165H595.3V164.4H594.3V164H593.2V163.3H592.2V163H591.2V162.6H590.1V162.4H589.1V162H588.1V161.2H587V160.5H586V159.8H585V159.2H584V158.1H582.9V157.5H581.9V156.5H580.9V155.7H579.8V154.5H578.8V154H577.8V153.4H576.8V152.6H575.7V151.8H574.7V150.9H573.7V149.5H572.6V147.9H571.6V145.9H570.6V144.9H569.5V143H568.5V141.2H567.5V139.8H566.5V138.1H565.4V135.7H564.4V134.1H563.4V131.2H562.3V129.9H561.3V128.5H560.3V127.5H559.2V125.7H558.2V125.3H557.2V124H556.1V122.6H555.1V123.3H554.1V123.6H553.1V123.5H552V123.8H551V124H550V126.4H548.9V127.8H547.9V35.3H546.9V31.6H545.9V29.7H544.8V36.3H543.8V42.7H542.8V45.9H541.7V48.1H540.7Z" fill="#000" fill-opacity="0.03"/>
<path d="M540.7 47.4H541.7V41.7H542.8V34.8H543.8V28.5H544.8V20.4H545.9V23.1H546.9V29.4H547.9V125.3H548.9V126H550V130H551V124.6H552V129.9H553.1V122.2H554.1V123.4H555.1V124.8H556.1V124.6H557.2V131.4H558.2V128.9H559.2V130.2H560.3V129.4H561.3V131.5H562.3V131.9H563.4V134.2H564.4V140.3H565.4V141.6H566.5V137.6H567.5V144H568.5V144.1H569.5V143.5H570.6V147.6H571.6V143.9H572.6V151.8H573.7V152.5H574.7V156H575.7V151.2H576.8V154.3H577.8V153.1H578.8V154.1H579.8V151.6H580.9V155.9H581.9V158.3H582.9V159.2H584V157.9H585V163H586V161.6H587V163.8H588.1V163.6H589.1V160.7H590.1V164.1H591.2V163.7H592.2V162.2H593.2V165.9H594.3V164.2H595.3V166.5H596.3V165.3H597.4V166.6H598.4V165.2H599.4V166.9H600.4V166.6H601.5V165.8H602.5V167.9H603.5V166.5H604.6V167.3H605.6H606.6V169.2H607.6V168.4H608.7V168.8H609.7V168.5H610.7H611.8V168.9H612.8V149.7H613.8V154.6H614.9V151.9H615.9V158.2H616.9V156.6H618V154.6H619V157.8H620V167.8H621H622.1V170.1H623.1V167.1H624.1V165.8H625.2V167.3H626.2V167.4H627.2V163.9H628.2V167.3H629.3H630.3V167.4H631.3V168.8H632.4V166.6H633.4V165.9H634.4V147.1H635.5V152H636.5V152.6H637.5V146.8H638.5V156.3H639.6V157.6H640.6V155.9H641.6V172.2H642.7V172H643.7V171.1H644.7V170.2H645.8V170.8H646.8V170.2H647.8V171.3H648.9V173.4H649.9V171.6H650.9V172.5H651.9V170.7H653V170.4H654V171.5H655V171H656.1V148.1H657.1V153.5H658.1V151.1H659.2V155.2H660.2V153.5H661.2V161.3H662.2V157.9H663.3V173.3H664.3V172.1H665.3V171.2H666.4V170.6H667.4V170.4H668.4V171H669.5V172.4H670.5V154.4H671.5" fill="none" stroke="#000" stroke-opacity="0.05" stroke-width="0.8"/><path d="M540.7 45.8H541.7V43.8H542.8V41.4H543.8V34.3H544.8V24.6H545.9V31.4H546.9V35.4H547.9V126.1H548.9V121.5H550V122.6H551V124.7H552V121.5H553.1V120.8H554.1V118.7H555.1V120.5H556.1V124.7H557.2V122.4H558.2V119.8H559.2V127.4H560.3V125.8H561.3V127.5H562.3V129.3H563.4V138.4H564.4V131.7H565.4V138.2H566.5V138.3H567.5V144.4H568.5V144H569.5V146.9H570.6V145.3H571.6V145.4H572.6V148H573.7V149.2H574.7V149.8H575.7V149.6H576.8V151.6H577.8V151.7H578.8V155.3H579.8V153.6H580.9V156.7H581.9V156.4H582.9V161.2H584V158.9H585V158H586V160.1H587V162.3H588.1V160.1H589.1V163.6H590.1V162.2H591.2V162.4H592.2V163.1H593.2V161.5H594.3V164.9H595.3V162.5H596.3V163.2H597.4V165H598.4V165.3H599.4V167H600.4V167.5H601.5V166.3H602.5V166.9H603.5V166.1H604.6V167.9H605.6V167H606.6V169.2H607.6V167.4H608.7V167.8H609.7V168H610.7V170H611.8V170.6H612.8V146.3H613.8V147.1H614.9V149.8H615.9V151H616.9V152.5H618V154.8H619V150.9H620V171.7H621V169.1H622.1H623.1V171H624.1V167.9H625.2V169.4H626.2V168H627.2V152.3H628.2V152.8H629.3V149.6H630.3V157.1H631.3V150.4H632.4V153.6H633.4V156.6H634.4V170.9H635.5V168H636.5V171.1H637.5V167.9H638.5V168.1H639.6V169.1H640.6V169.6H641.6V169.5H642.7V168.4H643.7V168.5H644.7V169.4H645.8V168.6H646.8V168.5H647.8V167.3H648.9V154H649.9V158.4H650.9V154.7H651.9V159.7H653V158.5H654V158H655V159.9H656.1V169.9H657.1H658.1V171.5H659.2V168.8H660.2V171.3H661.2V170.8H662.2V170.2H663.3V170.4H664.3V170.5H665.3V171.6H666.4V170.2H667.4V171.7H668.4V171.5H669.5V172H670.5V154.3H671.5" fill="none" stroke="#000" stroke-opacity="0.05" stroke-width="0.8"/><path d="M540.7 47.7H541.7V44.6H542.8V39H543.8V31.6H544.8V27.5H545.9V27.6H546.9V33.7H547.9V129.2H548.9V124.6H550V124.5H551V125.6H552V127.8H553.1V125H554.1V123.5H555.1V123.2H556.1V120.7H557.2V126.7H558.2V126.5H559.2V129.8H560.3V125.5H561.3V124.6H562.3V128.6H563.4V134.3H564.4V137.1H565.4V139.3H566.5V141.4H567.5V140.4H568.5V145.5H569.5V144.6H570.6V147.1H571.6V145.5H572.6V150.1H573.7H574.7V150.3H575.7V155.2H576.8V156.6H577.8V155.3H578.8V154.5H579.8V157.1H580.9V154.3H581.9V159.1H582.9V158.2H584V158.3H585V161.8H586V162H587V162.6H588.1V159H589.1V161.5H590.1V164.4H591.2V162.8H592.2V161.7H593.2V166.3H594.3V162.1H595.3V166.1H596.3V165H597.4V167.1H598.4V166.7H599.4V168.1H600.4V169.3H601.5V167.8H602.5V167.1H603.5V168.1H604.6V166.1H605.6V167.9H606.6V167.7H607.6V167.3H608.7V168H609.7V169.8H610.7V169.5H611.8V170.7H612.8V149.7H613.8V154.6H614.9V154.5H615.9V152.5H616.9V154.9H618V153.6H619V152.6H620V170.9H621V170.3H622.1V170.7H623.1H624.1V170.9H625.2V171.9H626.2V171H627.2V171.5H628.2V171.1H629.3V171.4H630.3V170.8H631.3V172.3H632.4V170.4H633.4V169.4H634.4V158.9H635.5V155.8H636.5V159.9H637.5V159.4H638.5V160.2H639.6V160.7H640.6V167H641.6V168.1H642.7V169H643.7V168.7H644.7V171.9H645.8V170.2H646.8V170.3H647.8V168.3H648.9V150.8H649.9V152.5H650.9V152.9H651.9V157.7H653V155.4H654V157.9H655V157.1H656.1V171.7H657.1V169.6H658.1V171.4H659.2V172.1H660.2V168.8H661.2V168.3H662.2V171.3H663.3V147.7H664.3V156.7H665.3H666.4V155.3H667.4V162.6H668.4V159.4H669.5V156.6H670.5V170.5H671.5" fill="none" stroke="#000" stroke-opacity="0.05" stroke-width="0.8"/><path d="M540.7 47.1H541.7V41.3H542.8V39.1H543.8V35.4H544.8V28.7H545.9V25.4H546.9V33.5H547.9V122.2H548.9V115.8H550V120H551V117.1H552V114.7H553.1V121H554.1V114.9H555.1V118.4H556.1V120.5H557.2V119.7H558.2V120.9H559.2V122.7H560.3V126.7H561.3V127.5H562.3V130.8H563.4V132.3H564.4V134.5H565.4V136H566.5V135.1H567.5V138.8H568.5V140.6H569.5V142H570.6V145.6H571.6V143.3H572.6V149.2H573.7V145.4H574.7V148.5H575.7V148H576.8V147.8H577.8V150.9H578.8V154.7H579.8V155.3H580.9V154.3H581.9V155.2H582.9V159.8H584V157H585V160.9H586V159.4H587V161.5H588.1V159.9H589.1V163H590.1V159H591.2V161.5H592.2V157.3H593.2V161.8H594.3V163H595.3V164.7H596.3V166.7H597.4V165.1H598.4V165H599.4V164.9H600.4V167.7H601.5V165H602.5V166.7H603.5H604.6H605.6V150.7H606.6V155H607.6V152H608.7V156.8H609.7V157.1H610.7V155.3H611.8V155.8H612.8V171.7H613.8V171.8H614.9V170.7H615.9V170.3H616.9V171.5H618V170.2H619V170.4H620V170.8H621V171H622.1V172.8H623.1V171.3H624.1V170.3H625.2V171.9H626.2V172.5H627.2V152.2H628.2V152H629.3V155.1H630.3V153.2H631.3V153.8H632.4V153.6H633.4V157.9H634.4V171.9H635.5V169.2H636.5V169.5H637.5V171H638.5V168.8H639.6V170.9H640.6V169.3H641.6V149.5H642.7V151H643.7V157.7H644.7V156.6H645.8V155.2H646.8V160.2H647.8V155.4H648.9V168.5H649.9V167.1H650.9V169.7H651.9V168H653V167.6H654V170.2H655V166.7H656.1V168H657.1V169.1H658.1V169.4H659.2V168.1H660.2V168.2H661.2V171.6H662.2V168.5H663.3V153.9H664.3V159H665.3V154.6H666.4V154.8H667.4V156.2H668.4V157.3H669.5V160.4H670.5V170.1H671.5" fill="none" stroke="#000" stroke-opacity="0.05" stroke-width="0.8"/><path d="M540.7 44H541.7V43H542.8V43.3H543.8V34.8H544.8V23.7H545.9V27.7H546.9V30.1H547.9V120.2H548.9V125.9H550V118.6H551V120.4H552V121.1H553.1V123.6H554.1V126.2H555.1V119.1H556.1V120.5H557.2V126.7H558.2V124.8H559.2V124.6H560.3V124.7H561.3V128.9H562.3V130H563.4V130.6H564.4V133.6H565.4V138.6H566.5V136H567.5V140.4H568.5V140.2H569.5V141.9H570.6V143.1H571.6V147.7H572.6V148.1H573.7V147.4H574.7V155.6H575.7V152.3H576.8V155.5H577.8V153.1H578.8V153.9H579.8V153.3H580.9V153H581.9V156.7H582.9V154.6H584V159.6H585V158.1H586V158.4H587V158.6H588.1V164.5H589.1V159.3H590.1V160.2H591.2V163.2H592.2H593.2V164.3H594.3V165H595.3V162.7H596.3V166.1H597.4V166.6H598.4V165.2H599.4V166.1H600.4V164.6H601.5V167.1H602.5V166.2H603.5V167.3H604.6V165.8H605.6V167.1H606.6V166.6H607.6V168.1H608.7V168.7H609.7V170.6H610.7V168.3H611.8V170H612.8V149.3H613.8V151.4H614.9V149H615.9V153H616.9V157.3H618V153.3H619V155.5H620V168.4H621V169.6H622.1V169.5H623.1V169.6H624.1V168.2H625.2V167.1H626.2V168.1H627.2V170.3H628.2V169.3H629.3V169.7H630.3V168.7H631.3V169.3H632.4V168.8H633.4H634.4V157.8H635.5V154.1H636.5V156.1H637.5V154.4H638.5V155.9H639.6V158.7H640.6V161.8H641.6V170.6H642.7V171.3H643.7V169H644.7V170.9H645.8V170H646.8V171.8H647.8V170.5H648.9V169.3H649.9V170.4H650.9V171.2H651.9V170H653V170.4H654V169.7H655V169.5H656.1V149H657.1V151.2H658.1V153.9H659.2V157.8H660.2V154.9H661.2V158.2H662.2H663.3V170.8H664.3V172.5H665.3V171.8H666.4H667.4V171H668.4V172.1H669.5V171.8H670.5V170.9H671.5" fill="none" stroke="#000" stroke-opacity="0.05" stroke-width="0.8"/><path d="M540.7 46.8H541.7H542.8V40.2H543.8V34.1H544.8V27.2H545.9V29.9H546.9V31.8H547.9V128.6H548.9V132H550V128.8H551V134H552V121.7H553.1V125.3H554.1V124.1H555.1V120.9H556.1V130.8H557.2V127.8H558.2V128.1H559.2V131H560.3V129H561.3V135.4H562.3V133.1H563.4V136.4H564.4V136.7H565.4V142.5H566.5V142H567.5V143.4H568.5H569.5V147.5H570.6V148.1H571.6V148.2H572.6V149.5H573.7V155.5H574.7V151.9H575.7V154.2H576.8V154.8H577.8V155.6H578.8V158.1H579.8V156.5H580.9V155.7H581.9V159.2H582.9V161.3H584V157.7H585V160.5H586V161.3H587V162.5H588.1V161.7H589.1V163.3H590.1H591.2V163.2H592.2V158.6H593.2V165.1H594.3V166.1H595.3V164.6H596.3V166.1H597.4V166.4H598.4V166.5H599.4V167.2H600.4V165.7H601.5V169.6H602.5V168.4H603.5V169.5H604.6V168.3H605.6V168.4H606.6V168.9H607.6V168.8H608.7V170.8H609.7V169.6H610.7H611.8V169.9H612.8V151.8H613.8V147.1H614.9V153.9H615.9V152.1H616.9V156H618V157.1H619V156.9H620V171.6H621V171.7H622.1V169.5H623.1V170.8H624.1V171.4H625.2V168.4H626.2V169.6H627.2V143.5H628.2V142.6H629.3V145.9H630.3V147.2H631.3V145.9H632.4V145.3H633.4V149.8H634.4V169.6H635.5V170.1H636.5V170.5H637.5V170.9H638.5V170.7H639.6V172.1H640.6H641.6V170.6H642.7V170.7H643.7V169.5H644.7V170.1H645.8V170.7H646.8V169.7H647.8V169.5H648.9V153.1H649.9V150.6H650.9V152.9H651.9V154.1H653V157.8H654V156.7H655V154.7H656.1V170H657.1V168.6H658.1V169.4H659.2V171.8H660.2V169.2H661.2V169.8H662.2V168.9H663.3V158.6H664.3V156H665.3V155.1H666.4V160.8H667.4V160.1H668.4V161.6H669.5V159.7H670.5V172.2H671.5" fill="none" stroke="#000" stroke-opacity="0.05" stroke-width="0.8"/><path d="M540.7 43.2H541.7V43.4H542.8V37.8H543.8V33.5H544.8V27.1H545.9V25H546.9V33.7H547.9V123.6H548.9V124.1H550V127.5H551V117.6H552V120.6H553.1V126.8H554.1V122.1H555.1V120.3H556.1V120.2H557.2V122.9H558.2V122.1H559.2V126.5H560.3V127.4H561.3V127.2H562.3V130.2H563.4V128.5H564.4V135.9H565.4V134.6H566.5V135.7H567.5V138.9H568.5V142.2H569.5V145.9H570.6V146.4H571.6V147.6H572.6V150.8H573.7V148.5H574.7V152.2H575.7V151.2H576.8V153.3H577.8V155.9H578.8V153.2H579.8V155.4H580.9V155.2H581.9V157.8H582.9V157.9H584V158.4H585V156.9H586V160.3H587V161H588.1V162.2H589.1V162H590.1V161.5H591.2V163.8H592.2V162.2H593.2V161H594.3V163.3H595.3V162.5H596.3V166.5H597.4V164.1H598.4V166.5H599.4V167H600.4V164.7H601.5V168.5H602.5V165.9H603.5V168.6H604.6V170.1H605.6V169.5H606.6V166.3H607.6V168.1H608.7V168.9H609.7V170.2H610.7V169.1H611.8V172.1H612.8V143.9H613.8V148.3H614.9V149H615.9V146.6H616.9V149.5H618V152.7H619V151.5H620V168.8H621V172H622.1V169.7H623.1V170H624.1V168.9H625.2V168.7H626.2V168.3H627.2V150.2H628.2V156.7H629.3V157.9H630.3V161.1H631.3V162.1H632.4V158.4H633.4V161.5H634.4V170.2H635.5V170.4H636.5V170.9H637.5V172.3H638.5V170.1H639.6V170.3H640.6V170.8H641.6V171.5H642.7V172.3H643.7V172.7H644.7V171.6H645.8V170.7H646.8V170.9H647.8V172.3H648.9V155.9H649.9V154.8H650.9V155.2H651.9V157.7H653V159.4H654V161.1H655V160.7H656.1V168.3H657.1V170.3H658.1V170H659.2H660.2V168.8H661.2V169.1H662.2V170.2H663.3V170.5H664.3V169.5H665.3V168.5H666.4V168.9H667.4V169.8H668.4V168.5H669.5V171.2H670.5V151.1H671.5" fill="none" stroke="#000" stroke-opacity="0.05" stroke-width="0.8"/><path d="M540.7 49.7H541.7V47.6H542.8V44.9H543.8V34.8H544.8V30.5H545.9V32.7H546.9V35.4H547.9V134.5H548.9V128.6H550V133.1H551V126.3H552V121.7H553.1V129.2H554.1V121.9H555.1V124H556.1V131.8H557.2V127.3H558.2V126.8H559.2V132.4H560.3V136H561.3V129.5H562.3V137.7H563.4V133H564.4V141.4H565.4V139.2H566.5V140.1H567.5V145.1H568.5V146.2H569.5V148.7H570.6V147.6H571.6V150.6H572.6V150.9H573.7V149.7H574.7V156.4H575.7V152.7H576.8V154.5H577.8V159.1H578.8V153.9H579.8V154.7H580.9V157.8H581.9V156.8H582.9V158.6H584V159.3H585V160H586V159H587V160.9H588.1V164.8H589.1V160.4H590.1V162.8H591.2V167.1H592.2V165.9H593.2V164.6H594.3H595.3V164.8H596.3V166.2H597.4V167.6H598.4V169.2H599.4V169.6H600.4V166.3H601.5V167.7H602.5V167H603.5V168.7H604.6V167.4H605.6V166.9H606.6V168.4H607.6V168.7H608.7V169.5H609.7V171H610.7V169.9H611.8V170.6H612.8V169.2H613.8V170.6H614.9V170H615.9V170.8H616.9V170.7H618V172.6H619V171.7H620V154.3H621V152.6H622.1V158H623.1V159.3H624.1V160.6H625.2V164H626.2V163.2H627.2V171.7H628.2V169.6H629.3H630.3V171.6H631.3V171.9H632.4H633.4V171.8H634.4V171.4H635.5V172.9H636.5V170.7H637.5V172.1H638.5V172H639.6V170.7H640.6V171.3H641.6V152.8H642.7V155.4H643.7V153.6H644.7V149.3H645.8V156.7H646.8V156.6H647.8V156.8H648.9V167.7H649.9V169.5H650.9V170.7H651.9V169.3H653V171.3H654V170.5H655V168.6H656.1V168.2H657.1V167.2H658.1V169.4H659.2H660.2V170.2H661.2V169H662.2V171.1H663.3V151.1H664.3V156H665.3V156.8H666.4V157.9H667.4V157.1H668.4V155.3H669.5V157.7H670.5V171H671.5" fill="none" stroke="#000" stroke-opacity="0.05" stroke-width="0.8"/><path d="M540.7 49.8H541.7V45.4H542.8V40.6H543.8V39.2H544.8V32.7H545.9V33.7H546.9V35.6H547.9V123.5H548.9V123.8H550V118.9H551V116.8H552V124.5H553.1V123.6H554.1V120.3H555.1V121.2H556.1V123.5H557.2V123.9H558.2V123.6H559.2V126.5H560.3V123.3H561.3V123.6H562.3V128.9H563.4V134.6H564.4V130.8H565.4V134H566.5V139.6H567.5V141.4H568.5V142.1H569.5V141.4H570.6V148.3H571.6V147.4H572.6V147.3H573.7V152.3H574.7V150.7H575.7V152.6H576.8V154H577.8V153.2H578.8V151.5H579.8V152.7H580.9V156.1H581.9V154H582.9V155.5H584V159.2H585V159H586V158.8H587V159.1H588.1V161H589.1V160.3H590.1V160.1H591.2V160.9H592.2V161.8H593.2V163.8H594.3H595.3V164H596.3V166.1H597.4V164.5H598.4V165.1H599.4V169H600.4V166.5H601.5V165.2H602.5V166.8H603.5V167.8H604.6V168.7H605.6V167.6H606.6V168.7H607.6V165H608.7V169.3H609.7V168.4H610.7V169.4H611.8V170.2H612.8V153.2H613.8V151.5H614.9V155H615.9V158.2H616.9V154.3H618V153.3H619V160.3H620V169.4H621V168.6H622.1V169.4H623.1V169.2H624.1V170.2H625.2V169H626.2V170H627.2V150.2H628.2V150.6H629.3V154.2H630.3V153.2H631.3V155.5H632.4V155.7H633.4V157.3H634.4V168.7H635.5V168.9H636.5V170.3H637.5V170.5H638.5V171.3H639.6V170.1H640.6V169.4H641.6V169H642.7V169.6H643.7V171H644.7V172H645.8V168.7H646.8V168.4H647.8V167.9H648.9V153.7H649.9V149.4H650.9V152.1H651.9V157.2H653V155.4H654V157.1H655V156.7H656.1V170.7H657.1V168.1H658.1V170.3H659.2V170H660.2V169.8H661.2V168.5H662.2V169.6H663.3V154.4H664.3V154.1H665.3V156.7H666.4V156.1H667.4V157.1H668.4V162.1H669.5V158.5H670.5V171.1H671.5" fill="none" stroke="#000" stroke-opacity="0.05" stroke-width="0.8"/><path d="M540.7 48H541.7V46.6H542.8V42.6H543.8V35.1H544.8V29.5H545.9V31.8H546.9V34.2H547.9V125.1H548.9H550V122H551V120.4H552V125.4H553.1V120.1H554.1V121.5H555.1V117.6H556.1V126.1H557.2V126.6H558.2V124.9H559.2V129.5H560.3V128.2H561.3V131.8H562.3V126.9H563.4V130H564.4V133.5H565.4V136.2H566.5V139.5H567.5V140.1H568.5V139.1H569.5V150.2H570.6V144.4H571.6V147.1H572.6V144.8H573.7V151H574.7V153.3H575.7V151.4H576.8V153.6H577.8V151.4H578.8V152.7H579.8V154H580.9V151.6H581.9V157H582.9V157.2H584V158.3H585V160.4H586V158.9H587V157.6H588.1V163.4H589.1V162.2H590.1V159.6H591.2V162.8H592.2V163.2H593.2V159.5H594.3V165.9H595.3V163.7H596.3V162.9H597.4V167.5H598.4V166H599.4V163.7H600.4V165.3H601.5V168.1H602.5V167.1H603.5V166.8H604.6V167.8H605.6V168H606.6V166.1H607.6V168.2H608.7V166.6H609.7V168.1H610.7V169.4H611.8V169.7H612.8H613.8V169.3H614.9V171H615.9V169.6H616.9V170.5H618V170.9H619V171.4H620V151.6H621V157.4H622.1V154.5H623.1V157.4H624.1V156.2H625.2V161.8H626.2V158.1H627.2V170.8H628.2V170.4H629.3V169.4H630.3V170.6H631.3V170H632.4V169H633.4V170.6H634.4V152.8H635.5V155.8H636.5V157.5H637.5V159.9H638.5V156.6H639.6V160.3H640.6V158.9H641.6V170.9H642.7V170.5H643.7V172H644.7V171.8H645.8V172.4H646.8V172.1H647.8V171.3H648.9V150.9H649.9V153.3H650.9V154.7H651.9V156.1H653V159.8H654V157.9H655V160.3H656.1V168.3H657.1V169H658.1V167.1H659.2V168.6H660.2V170.1H661.2V170.4H662.2V171H663.3V154.8H664.3V153.4H665.3V157.4H666.4V156.6H667.4V159.9H668.4V158.5H669.5V160.4H670.5V170.9H671.5" fill="none" stroke="#000" stroke-opacity="0.05" stroke-width="0.8"/>
<path d="M49.9 373.8H51.1H52.2V373.5H53.4H54.5V373.7H55.7V373.5H56.8V373.6H58V373.2H59.2H60.3V373.3H61.5H62.6V373.2H63.8V373H64.9V373.2H66.1V372.7H67.2V372.8H68.4V373H69.5V372.9H70.7H71.8V372.7H73V372.6H74.1V372.8H75.3V372.9H76.5H77.6V372.7H78.8H79.9H81.1V372.4H82.2V372.6H83.4V372.2H84.5V372.4H85.7V371.9H86.8V372.1H88V371.9H89.1H90.3V371.8H91.4V371.9H92.6H93.8V372H94.9V371.8H96.1V371.7H97.2V372H98.4V371.2H99.5V371.6H100.7V371.8H101.8V371.4H103H104.1H105.3V371.5H106.4V370.9H107.6V370.7H108.7V371H109.9V370.7H111.1V370.4H112.2V370.3H113.4V370H114.5V369.9H115.7V369.1H116.8V369.5H118V368.6H119.1V368.2H120.3V368.9H121.4V368.8H122.6V368.5H123.7V368.8H124.9V367.2H126V367.5H127.2V368.1H128.4V367.6H129.5V367.4H130.7V367.8H131.8V367.7H133V367H134.1V366.7H135.3V365.8H136.4V366.4H137.6V366.8H138.7V365.3H139.9V365.8H141V364.1H142.2V364.6H143.3V364H144.5V363.9H145.7V361.8H146.8V362H148V363.1H149.1V362.2H150.3V361H151.4H152.6V360.2H153.7V359.4H154.9V358.1H156V356.3H157.2V358.7H158.3V356.7H159.5V358.2H160.6V357.9H161.8V355.3H163V354.9H164.1V355.4H165.3V355H166.4V351H167.6V353.1H168.7V352.4H169.9V349.7H171V350.2H172.2H173.3V347.1H174.5V348.7H175.6V350.9H176.8V349.9H177.9V346H179.1V346.9H180.3V342.8H181.4V346.4H182.6V340.8H183.7V337.7H184.9V340.9H186V339.6H187.2V335.5H188.3V336.6H189.5V335.5H190.6V334.5H191.8V338.1H192.9V336.1H194.1V329.3H195.2V332.5H196.4V325.8H197.6V323.5H198.7V318.8H199.9V328.2H201V322H202.2V323.7H203.3V322.9H204.5V325.5H205.6V323.3H206.8V323.2H207.9V322.4H209.1V325.2H210.2V319.4H211.4V323.9H212.5V325.1H213.7V322.9H214.9V317.9H216V318.2H217.2V312.2H218.3V310.9H219.5V313.2H220.6V317H221.8V313.8H222.9V312.6H224.1V316H225.2V315.4H226.4V315.5H227.5V320H228.7V320.3H229.8V312.7H231V315.1H232.2V324H233.3V316.9H234.5V312.6H235.6V324.7H236.8V323.5H237.9V319.3H239.1V312.6H240.2V315H241.4V319.9H242.5V324.3H243.7V323.3H244.8V322.1H246V315.3H247.1V318.7H248.3V319H249.5V316.5H250.6V316.4H251.8V318.4H252.9V320.1H254.1V322.8H255.2V318.3H256.4V322.2H257.5V323.5H258.7V320.9H259.8V311.7H261V312.2H262.1V315.5H263.3V315H264.4V318.3H265.6V319.1H266.8V321.9H267.9V321.1H269.1V321H270.2V317.2H271.4V326.7H272.5V323.6H273.7V320.4H274.8V320H276V327.6H277.1V326.9H278.3V325H279.4V328.1H280.6V328H281.7V328.7H282.9V326.5H284V331.5H285.2V327.9H286.4V329.7H287.5V328.6H288.7V327.9H289.8V325.6H291V321.5H292.1V323.4H293.3V322.5H294.4V327.5H295.6V322.6H296.7V318.8H297.9V322.3H299V321.9H300.2V317.8H301.3V322.6H302.5V319H303.7V316.1H304.8V314.9H306V321H307.1V318H308.3V323.2H309.4V320.5H310.6V322.2H311.7V324H312.9V318.5H314V323.1H315.2V324.6H316.3V318.2H317.5V322.1H318.6V318H319.8V319.6H321V317.2H322.1V320.8H323.3V321.3H324.4V366.4H323.3V366.2H322.1V365.8H321V367.3H319.8V366.8H318.6H317.5V367H316.3V366.1H315.2V367.3H314H312.9V366.8H311.7V367.2H310.6V367.5H309.4V366.6H308.3V367.1H307.1V367.8H306V366.6H304.8V367.3H303.7V366.9H302.5V367.9H301.3V366.9H300.2V366.8H299V367.8H297.9H296.7V367.9H295.6V367.6H294.4V367.7H293.3V367.3H292.1V368.2H291V367.3H289.8V367.4H288.7V367.2H287.5V366.9H286.4V366.1H285.2V367.1H284V367.3H282.9V366.9H281.7V367.9H280.6V366.5H279.4V367.5H278.3V367.9H277.1V367.8H276V367H274.8H273.7V367.1H272.5V367.5H271.4V367.2H270.2V366.7H269.1V366.8H267.9V367.4H266.8H265.6V366.6H264.4V365.9H263.3V366.5H262.1V366.8H261V367.4H259.8V366.7H258.7V366.5H257.5V366.4H256.4V367.1H255.2V366.1H254.1V366.6H252.9V366.4H251.8V367.6H250.6V367H249.5V366.4H248.3V366.7H247.1V366.3H246V367.2H244.8V366.6H243.7V367.2H242.5V367.3H241.4V365.6H240.2V366.2H239.1V366H237.9V366.4H236.8V367.4H235.6V365.9H234.5V365.5H233.3V365.6H232.2V365.3H231V365.4H229.8V365.8H228.7V365.6H227.5V366.1H226.4V366.3H225.2V366.1H224.1V365.8H222.9V366.5H221.8V365.1H220.6V365.4H219.5V366H218.3V365.8H217.2V366.1H216V366.6H214.9V367.5H213.7V367.2H212.5V367.4H211.4V367.8H210.2V367.3H209.1V367.9H207.9H206.8V368.4H205.6V368H204.5V368.6H203.3V368.9H202.2V369.6H201V369.5H199.9V369.1H198.7V370.1H197.6V369.6H196.4V369.7H195.2V369.2H194.1V369.7H192.9V369.6H191.8H190.6V370H189.5V370.6H188.3V370.5H187.2V370.3H186V370.1H184.9V370.3H183.7V370.7H182.6V370.6H181.4V371H180.3V371.1H179.1V371.6H177.9H176.8V372.2H175.6V371.9H174.5V371.7H173.3V371.9H172.2V371.6H171V372.1H169.9V371.9H168.7V372H167.6V372.2H166.4V372.3H165.3V372.2H164.1H163V372.1H161.8V372.4H160.6V372.3H159.5V372.7H158.3V372.8H157.2V373H156V373.1H154.9H153.7V373.5H152.6V373.4H151.4V373.5H150.3H149.1V373.7H148V373.9H146.8V373.8H145.7H144.5H143.3V373.9H142.2V374H141H139.9V374.1H138.7V374.2H137.6V374.1H136.4H135.3H134.1V374.2H133H131.8V374.4H130.7V374.3H129.5V374.2H128.4V374.4H127.2V374.3H126V374.4H124.9V374.5H123.7H122.6H121.4V374.6H120.3V374.7H119.1V374.6H118H116.8V374.8H115.7V374.7H114.5V374.8H113.4V374.7H112.2V374.8H111.1H109.9H108.7H107.6H106.4H105.3H104.1V374.9H103H101.8H100.7H99.5H98.4H97.2H96.1H94.9H93.8V375H92.6H91.4H90.3H89.1H88H86.8H85.7V375.1H84.5V375H83.4V375.1H82.2H81.1H79.9H78.8H77.6H76.5H75.3H74.1H73H71.8H70.7H69.5V375.2H68.4V375.1H67.2H66.1V375.2H64.9H63.8H62.6H61.5H60.3H59.2H58H56.8H55.7H54.5H53.4H52.2H51.1H49.9Z" fill="#000" fill-opacity="0.03"/><path d="M49.9 374.1H51.1V374H52.2V373.8H53.4V374.1H54.5V374H55.7H56.8H58V373.7H59.2H60.3H61.5H62.6H63.8V373.6H64.9V373.8H66.1V373.6H67.2H68.4V373.5H69.5H70.7H71.8V373.4H73V373.3H74.1V373.2H75.3V373.4H76.5V373.3H77.6V373.4H78.8H79.9V373.3H81.1V373.2H82.2H83.4V373.1H84.5H85.7V372.9H86.8H88V372.5H89.1V372.8H90.3V372.6H91.4V372.8H92.6V372.7H93.8H94.9V372.6H96.1V372.2H97.2V372.6H98.4V372.4H99.5V372.5H100.7V372.4H101.8V372.2H103V372.3H104.1V372.2H105.3H106.4V371.8H107.6V371.7H108.7V371.6H109.9V371.4H111.1V371.5H112.2V371.2H113.4V371H114.5V371.2H115.7V370.9H116.8V370.8H118V370.2H119.1H120.3H121.4V370.1H122.6V370H123.7V369.7H124.9V369.3H126V369.5H127.2V369.8H128.4V369.4H129.5V369.3H130.7V369H131.8V369.1H133V368.4H134.1V368.6H135.3V368.5H136.4V368.2H137.6V368H138.7V367.9H139.9V367.3H141V367.1H142.2V366.5H143.3V366.6H144.5V366.2H145.7V366.3H146.8V364.7H148V365.3H149.1V364.4H150.3H151.4V363H152.6V363.6H153.7V363.1H154.9V362.6H156V361.7H157.2V361.9H158.3V360.8H159.5V360.7H160.6H161.8V358.2H163V360.4H164.1V359.2H165.3V359.8H166.4V356.9H167.6V357.1H168.7V356.6H169.9V356.8H171V356.5H172.2V355.2H173.3V355.6H174.5V355.5H175.6V356.2H176.8V354.8H177.9V351.8H179.1V352.9H180.3V352.6H181.4V351.3H182.6V348.9H183.7V348.5H184.9V348.9H186V348.2H187.2V344.2H188.3V346.4H189.5V346.3H190.6V342.2H191.8V344.9H192.9V342.5H194.1V341.4H195.2V341.7H196.4V339.9H197.6V340.2H198.7V337.2H199.9V336.9H201V337.2H202.2V333H203.3V335.3H204.5V334.6H205.6V333.9H206.8V336.1H207.9V333.9H209.1V334H210.2V331.3H211.4V332H212.5V331.4H213.7V329H214.9V332.1H216V330.9H217.2V326.9H218.3V324H219.5V323.3H220.6V323.9H221.8V324.5H222.9V328.7H224.1V324.8H225.2V325.3H226.4V327.8H227.5V331.5H228.7V329.2H229.8V326.7H231V326.5H232.2V330.4H233.3V326.3H234.5V329.1H235.6V333.6H236.8V333H237.9V331.2H239.1V331H240.2V330.9H241.4V328.9H242.5V333.7H243.7V330.8H244.8V331.8H246V330.8H247.1V329.5H248.3V329.8H249.5V330.2H250.6V329.6H251.8V327.9H252.9V331.7H254.1V332.3H255.2V329.9H256.4V331.1H257.5V332.5H258.7V333.2H259.8V329.8H261V330.3H262.1V328.7H263.3V330.4H264.4V332.4H265.6V329.9H266.8V334.2H267.9V332.4H269.1V331.8H270.2V332H271.4V333.7H272.5H273.7V333.2H274.8V331.4H276V333.4H277.1V337.5H278.3V334.8H279.4V335.2H280.6V336.5H281.7V335.4H282.9V336.7H284V335.9H285.2V336.4H286.4V338.5H287.5V334.6H288.7V335H289.8V334.8H291V331.7H292.1V333.6H293.3V331.2H294.4V333.1H295.6V332.2H296.7V331.6H297.9V336.9H299V331.4H300.2V329.6H301.3V329.9H302.5V332H303.7V330H304.8V327.4H306V333.6H307.1V330.1H308.3V331.7H309.4V331.2H310.6V332.4H311.7V333.7H312.9V333.5H314V335.3H315.2V333.5H316.3V334.5H317.5V335.2H318.6V330.2H319.8V331.7H321V330.1H322.1V332H323.3V330.1H324.4V363.9H323.3V364.3H322.1V364.1H321V364.5H319.8V365H318.6V364.3H317.5V364.5H316.3V364.2H315.2V365.2H314H312.9V364.5H311.7V365.1H310.6V365.2H309.4V365.3H308.3V365.2H307.1V365.4H306V364.6H304.8V365.3H303.7V365.4H302.5V365.5H301.3V365.3H300.2V364.6H299V366H297.9V365.5H296.7V365.7H295.6V365.1H294.4V365.7H293.3V365.6H292.1V365.7H291H289.8V365H288.7H287.5V364.9H286.4V364H285.2V364.4H284V364.2H282.9V365H281.7V365.2H280.6V365.3H279.4V365.1H278.3V365.3H277.1V365.1H276V365.3H274.8H273.7V365.2H272.5V365.5H271.4V365.2H270.2V364.6H269.1V364.9H267.9H266.8V365.4H265.6V365.3H264.4V364.3H263.3H262.1V365.1H261H259.8V364.1H258.7V364.4H257.5V364.5H256.4H255.2H254.1V363.6H252.9V364.9H251.8V364.2H250.6V365.4H249.5V364.4H248.3V364.5H247.1V363.9H246V364.5H244.8V363.9H243.7V364.8H242.5V364.3H241.4V363.8H240.2V364H239.1V364.4H237.9V363.6H236.8V364.3H235.6V363.5H234.5H233.3V363.2H232.2V364.2H231V363.4H229.8V363.8H228.7V364H227.5V363.4H226.4V363.5H225.2V364.2H224.1V363.7H222.9V363.3H221.8V363.2H220.6V363.5H219.5V364.4H218.3V363.6H217.2V363.5H216V364.1H214.9V364.6H213.7V364.2H212.5V365.4H211.4V364.8H210.2V365.5H209.1V366H207.9V366.2H206.8V366.7H205.6H204.5V366.9H203.3V367.4H202.2V367.3H201V367.5H199.9V367.2H198.7V367.6H197.6V367.7H196.4V367.4H195.2V367.8H194.1V368.4H192.9V367.9H191.8V368H190.6V368.3H189.5V368.9H188.3V368.4H187.2V368.6H186V368.8H184.9V369.3H183.7V369.8H182.6V369.9H181.4V370.3H180.3V370.2H179.1V370.6H177.9V370.9H176.8V371H175.6V370.7H174.5V371H173.3V370.8H172.2V370.7H171V371.3H169.9H168.7V371.1H167.6V371.4H166.4V371.3H165.3H164.1H163V371.5H161.8V371.7H160.6V371.9H159.5H158.3V372.3H157.2V372.5H156V372.6H154.9H153.7V372.9H152.6V372.8H151.4V372.9H150.3V373.1H149.1V373.2H148V373.3H146.8V373.4H145.7V373.5H144.5H143.3V373.6H142.2V373.7H141H139.9V373.6H138.7V373.8H137.6V373.7H136.4V373.8H135.3V373.9H134.1H133H131.8H130.7V374H129.5H128.4V374.1H127.2V374H126V374.1H124.9V374.2H123.7H122.6V374.3H121.4H120.3V374.4H119.1H118V374.5H116.8H115.7H114.5V374.6H113.4V374.5H112.2V374.6H111.1H109.9H108.7H107.6V374.7H106.4H105.3H104.1H103H101.8V374.8H100.7V374.7H99.5H98.4V374.8H97.2H96.1V374.7H94.9V374.8H93.8H92.6H91.4H90.3H89.1H88V374.9H86.8H85.7H84.5H83.4H82.2V375H81.1H79.9H78.8H77.6H76.5H75.3H74.1H73H71.8H70.7H69.5H68.4V375.1H67.2V375H66.1V375.1H64.9H63.8H62.6H61.5H60.3H59.2V375.2H58V375.1H56.8H55.7H54.5H53.4H52.2H51.1H49.9Z" fill="#000" fill-opacity="0.04"/><path d="M49.9 374.3H51.1H52.2V374.2H53.4V374.3H54.5H55.7V374.2H56.8V374.3H58V374.1H59.2V374H60.3H61.5H62.6H63.8H64.9V374.1H66.1V374H67.2V373.9H68.4H69.5H70.7V373.8H71.8H73H74.1V373.7H75.3H76.5H77.6H78.8V373.6H79.9V373.7H81.1H82.2V373.6H83.4V373.5H84.5H85.7V373.4H86.8H88V373.3H89.1V373.2H90.3H91.4V373.3H92.6V373.1H93.8V373.2H94.9V373H96.1H97.2V373.2H98.4V372.9H99.5H100.7V372.8H101.8H103V372.9H104.1V372.7H105.3H106.4V372.6H107.6V372.3H108.7V372.2H109.9V372H111.1V372.2H112.2V371.9H113.4V371.8H114.5V371.9H115.7V371.8H116.8V371.5H118V371.2H119.1V371.6H120.3V371H121.4V371.2H122.6V370.7H123.7V370.8H124.9V370.3H126V370.5H127.2V370.7H128.4V370.6H129.5V370.4H130.7V370.3H131.8V369.8H133H134.1V370H135.3V369.8H136.4V369.2H137.6V368.9H138.7V369.1H139.9V368.5H141V368.7H142.2V368.5H143.3V368.3H144.5V367.7H145.7H146.8V367H148V366.6H149.1V366.7H150.3V366.9H151.4V365.5H152.6V365.7H153.7V365.3H154.9V364.8H156V364.3H157.2V364H158.3V363.7H159.5V362.9H160.6V363.1H161.8V362.6H163H164.1V361.6H165.3V362H166.4V360.5H167.6V360.6H168.7V359.7H169.9V360H171V360.4H172.2V358.7H173.3V358.9H174.5V359H175.6V359.1H176.8V358.8H177.9V357.2H179.1V356.3H180.3V356.4H181.4V355.6H182.6V353.4H183.7V353.9H184.9V352.1H186V352.8H187.2V351.5H188.3V351.7H189.5V350.8H190.6V349.7H191.8V350.1H192.9V349.2H194.1V348.2H195.2V348.7H196.4V345.6H197.6V345.9H198.7V346.9H199.9V344.4H201V343.3H202.2V341.9H203.3V343.8H204.5V340H205.6V340.5H206.8V341.4H207.9V339.5H209.1V339.9H210.2V341H211.4V337.7H212.5V337.8H213.7V336H214.9V339.2H216V337.1H217.2V334.8H218.3V333H219.5V333.1H220.6V333.8H221.8V331.9H222.9V335.7H224.1V336H225.2V334.2H226.4V335.7H227.5V337.2H228.7V336.8H229.8V336.5H231V337.1H232.2V338.3H233.3V336.7H234.5V335.8H235.6V340.5H236.8V339.8H237.9V339.5H239.1V339.1H240.2V339H241.4V339.2H242.5V338.7H243.7V336.8H244.8V340.1H246V337.6H247.1V336.6H248.3V338.1H249.5V337H250.6V336.4H251.8V336.8H252.9V338H254.1V338.6H255.2V337H256.4V337.2H257.5V338.5H258.7V338H259.8V335.9H261V338.9H262.1V336.7H263.3V337.1H264.4V338.4H265.6V338.6H266.8V339.4H267.9V341.5H269.1V340.5H270.2V339.7H271.4V338.1H272.5V339.6H273.7V339.1H274.8V338.1H276V340.8H277.1V342.6H278.3V342.1H279.4V341.3H280.6H281.7V342.2H282.9V342.1H284V341.3H285.2V340.2H286.4V342.5H287.5V342H288.7V341.2H289.8V341.1H291V340.5H292.1V339.6H293.3V338H294.4V340H295.6V341.2H296.7V339.8H297.9V342.2H299V338.6H300.2V339H301.3V337.5H302.5V339H303.7V339.9H304.8V338.6H306V340.9H307.1V338.5H308.3V339.3H309.4V339H310.6V339.1H311.7V340.8H312.9V338.4H314V341.3H315.2V341.2H316.3V339.9H317.5V341.6H318.6V339H319.8V340.3H321V335.5H322.1V338.1H323.3V337.7H324.4V361.4H323.3V362.4H322.1V362.2H321V362.1H319.8V362.7H318.6V362.6H317.5V362.7H316.3V362.6H315.2V363.8H314V362.9H312.9V362.8H311.7V363.2H310.6V362.7H309.4V363.4H308.3V363.1H307.1V362.7H306V363.2H304.8H303.7H302.5H301.3V363.4H300.2V363.1H299V363.5H297.9V363.2H296.7V363.4H295.6V363.1H294.4V364.6H293.3V364H292.1V364.3H291V363.2H289.8V362.3H288.7V362.8H287.5V362.1H286.4V361.9H285.2V362.5H284V361.8H282.9V362.4H281.7V362.1H280.6V363.3H279.4V362.9H278.3V363H277.1V362.9H276V363.4H274.8V363.3H273.7V363.2H272.5V363.1H271.4V363H270.2V362.6H269.1H267.9V362.4H266.8V363.2H265.6V362.2H264.4V362.5H263.3V362.6H262.1V363.3H261V362.5H259.8V362.2H258.7V362.6H257.5V362.4H256.4V362.2H255.2V362H254.1V361.7H252.9V362.7H251.8V362.3H250.6V361.7H249.5V361.2H248.3V361.8H247.1H246V362.1H244.8V361.2H243.7V361.6H242.5V362H241.4V361.8H240.2V361.2H239.1V362.2H237.9V361.8H236.8H235.6V361.1H234.5V361.5H233.3V361.4H232.2V362H231V361.3H229.8V361.2H228.7V361.9H227.5V361H226.4V360.8H225.2V361.3H224.1V361.6H222.9V361H221.8V361.5H220.6V361.6H219.5V361.2H218.3V361.4H217.2V360.8H216V361.7H214.9V362.1H213.7V361.7H212.5V363.5H211.4V362.5H210.2V363.9H209.1V364.4H207.9V364.3H206.8V364.4H205.6V364.8H204.5V365.3H203.3V366.1H202.2V365.1H201V365.7H199.9V365.6H198.7V366H197.6V365.8H196.4V366.2H195.2H194.1V367.1H192.9V366.6H191.8V366.8H190.6V366.6H189.5V367.2H188.3V367.3H187.2V367.4H186V367.7H184.9V368.1H183.7V368.3H182.6V368.2H181.4V368.9H180.3V369.3H179.1V369.1H177.9V369.4H176.8V369.7H175.6H174.5V369.8H173.3V369.9H172.2V370.1H171V370.3H169.9V370.5H168.7H167.6V370.8H166.4V370.5H165.3H164.1V370.7H163V370.6H161.8V371H160.6V371.1H159.5V371.3H158.3V371.6H157.2V371.9H156H154.9H153.7V372.2H152.6V372.3H151.4H150.3V372.4H149.1V372.6H148V372.7H146.8V372.9H145.7V373.1H144.5V373.2H143.3V373.1H142.2V373.2H141V373.3H139.9H138.7V373.4H137.6V373.3H136.4V373.4H135.3V373.5H134.1V373.6H133H131.8V373.7H130.7H129.5V373.8H128.4H127.2V373.7H126V373.8H124.9V373.9H123.7V374H122.6H121.4V374.1H120.3H119.1H118V374.2H116.8H115.7V374.3H114.5V374.4H113.4V374.3H112.2V374.4H111.1H109.9H108.7V374.5H107.6H106.4H105.3V374.6H104.1H103H101.8H100.7H99.5H98.4V374.7H97.2V374.6H96.1H94.9H93.8V374.7H92.6H91.4H90.3H89.1H88V374.8H86.8H85.7H84.5H83.4H82.2V374.9H81.1V374.8H79.9V374.9H78.8H77.6H76.5H75.3H74.1H73H71.8V375H70.7V374.9H69.5H68.4V375H67.2H66.1H64.9H63.8H62.6V375.1H61.5V375H60.3V375.1H59.2H58H56.8H55.7H54.5H53.4H52.2H51.1H49.9Z" fill="#000" fill-opacity="0.045"/><path d="M49.9 374.5H51.1V374.4H52.2H53.4H54.5V374.5H55.7V374.4H56.8H58H59.2V374.2H60.3V374.3H61.5V374.2H62.6V374.3H63.8V374.2H64.9V374.3H66.1V374.2H67.2H68.4H69.5H70.7V374.1H71.8H73V374H74.1H75.3H76.5V373.9H77.6H78.8H79.9V374H81.1H82.2V373.8H83.4H84.5H85.7H86.8V373.7H88H89.1H90.3V373.5H91.4V373.6H92.6V373.5H93.8V373.4H94.9H96.1V373.5H97.2V373.4H98.4H99.5V373.3H100.7H101.8V373.2H103H104.1H105.3V373H106.4H107.6V372.9H108.7V372.8H109.9V372.7H111.1V372.6H112.2V372.5H113.4V372.4H114.5H115.7V372.2H116.8V372.1H118H119.1H120.3V371.8H121.4V371.7H122.6H123.7V371.5H124.9V371.3H126V371.4H127.2V371.3H128.4V371H129.5H130.7V370.8H131.8V370.9H133H134.1V370.8H135.3V370.6H136.4V370.3H137.6V370.1H138.7H139.9V370H141V369.7H142.2V369.6H143.3V369.5H144.5V368.9H145.7V368.6H146.8V368.5H148V368.1H149.1V367.9H150.3H151.4V366.8H152.6V367.5H153.7V367.1H154.9V366.7H156V366.4H157.2V365.4H158.3V365.8H159.5V365.2H160.6V364.7H161.8V364.6H163V364.2H164.1V363.5H165.3V363.8H166.4V362.8H167.6V363H168.7V362.2H169.9H171V362.4H172.2V361.8H173.3V362H174.5V360.9H175.6V361.2H176.8V360.7H177.9V359.8H179.1V359.9H180.3V359.2H181.4V359.3H182.6V357.9H183.7H184.9V356.3H186V356.6H187.2V355H188.3V354.5H189.5H190.6V354.2H191.8V353.5H192.9V353.7H194.1V353H195.2V352.1H196.4V351.4H197.6V351H198.7V350.5H199.9V349.9H201V347.4H202.2V348H203.3V347.8H204.5V347H205.6V345.9H206.8V345.2H207.9V344.5H209.1V344.6H210.2V345.7H211.4V343.8H212.5H213.7V342H214.9V343.4H216V342.1H217.2V340.3H218.3V341.3H219.5V340.9H220.6V340.8H221.8V339.7H222.9V341.9H224.1V340.5H225.2V341.6H226.4V343.1H227.5V342.8H228.7H229.8V343.3H231H232.2V344.4H233.3V345H234.5V344H235.6V343.9H236.8V345.7H237.9V344.2H239.1V345.3H240.2V344.8H241.4V344.7H242.5V343.7H243.7V345.1H244.8V343.7H246V342.8H247.1V342.5H248.3V342.9H249.5V343.6H250.6V343.3H251.8V343.6H252.9V343.3H254.1V345.5H255.2V343.9H256.4V345.5H257.5V343.6H258.7V344H259.8V343.6H261V345.2H262.1V344H263.3V343.9H264.4V344.7H265.6V343.6H266.8V344.8H267.9V346.1H269.1V345.4H270.2V345.7H271.4V344.3H272.5V344.1H273.7H274.8V344.8H276V346.4H277.1V345.5H278.3V346.6H279.4V345.9H280.6V346.5H281.7V346.4H282.9V346H284V346.2H285.2V345.1H286.4V346.4H287.5V346.5H288.7V345.2H289.8V345.6H291V346.3H292.1V345.6H293.3V343.4H294.4V343.7H295.6V345.4H296.7H297.9V346.1H299V344.6H300.2V345.3H301.3V345.7H302.5V344.8H303.7V345.1H304.8V344.4H306V344.1H307.1V345.2H308.3V345.8H309.4V343.5H310.6V344.9H311.7V344.7H312.9V345H314V345.4H315.2V346.8H316.3H317.5V346H318.6V344.5H319.8V344.9H321V343.5H322.1V343.4H323.3V343.2H324.4V359.4H323.3V359.8H322.1V360.1H321V359.9H319.8V360.5H318.6V360.7H317.5V360.1H316.3V360.2H315.2V361.2H314V361.1H312.9V360.4H311.7V360.5H310.6V360.7H309.4V360.3H308.3V360.8H307.1V361H306V361.6H304.8V361.2H303.7H302.5V360.8H301.3V361.2H300.2V361.3H299V361.2H297.9V361.3H296.7V361.1H295.6V360.5H294.4V362.2H293.3V361H292.1V361.8H291V360.6H289.8V360.3H288.7V361.4H287.5V360.5H286.4V359.9H285.2H284V360.2H282.9V360.1H281.7V360.5H280.6H279.4V360.8H278.3H277.1V360.5H276V360.9H274.8H273.7V361.3H272.5V360H271.4V360.4H270.2H269.1V359.6H267.9V360.6H266.8V360.7H265.6V359.8H264.4V360.1H263.3V360.4H262.1V361.2H261V360.5H259.8V359.4H258.7V359.8H257.5V359.7H256.4V359.9H255.2V359.6H254.1V359.9H252.9V360.5H251.8V359.4H250.6V359.8H249.5V359H248.3V359.6H247.1V358.8H246V359.6H244.8V359.1H243.7V358.9H242.5V359.2H241.4V359.6H240.2V359.4H239.1V360H237.9V359.6H236.8H235.6V359H234.5V359.5H233.3V359H232.2V359.4H231V359.1H229.8V358.8H228.7V358.7H227.5V359.2H226.4V358.4H225.2V358.3H224.1V359.1H222.9V358.5H221.8V359.2H220.6V358.6H219.5V358.8H218.3V358.6H217.2V358.4H216V359.1H214.9V358.7H213.7V359.8H212.5V360.2H211.4V360H210.2V362H209.1V362.1H207.9V362.2H206.8V362.6H205.6V362.2H204.5V362.6H203.3V364H202.2V363.4H201H199.9V363.9H198.7V363.7H197.6V364.1H196.4V364.3H195.2V364.6H194.1V365.4H192.9V365H191.8V365.1H190.6V365.2H189.5V365.7H188.3V365.9H187.2V366H186V366.4H184.9V366.9H183.7V367.1H182.6V367.2H181.4V367.4H180.3V368.1H179.1H177.9V368.2H176.8V368.5H175.6V368.3H174.5V368.4H173.3V368.7H172.2V369.1H171V369.2H169.9V369.4H168.7V369.5H167.6V369.4H166.4V369.8H165.3H164.1V370H163V369.9H161.8V370.2H160.6V370.5H159.5V370.6H158.3V370.9H157.2V371H156V371.2H154.9V371.3H153.7V371.8H152.6V371.7H151.4V371.8H150.3V372H149.1H148V372.3H146.8V372.4H145.7V372.6H144.5V372.7H143.3V372.6H142.2V372.7H141V372.8H139.9H138.7V373H137.6H136.4V373.1H135.3V373.2H134.1V373.3H133H131.8V373.4H130.7V373.3H129.5H128.4V373.4H127.2H126H124.9V373.6H123.7V373.7H122.6H121.4V373.9H120.3V373.8H119.1H118V373.9H116.8V374H115.7H114.5V374.1H113.4V374H112.2V374.2H111.1H109.9H108.7V374.3H107.6H106.4H105.3V374.4H104.1H103H101.8H100.7H99.5H98.4V374.5H97.2H96.1H94.9H93.8V374.6H92.6H91.4H90.3H89.1H88H86.8V374.7H85.7H84.5H83.4H82.2H81.1H79.9V374.8H78.8H77.6V374.7H76.5V374.8H75.3H74.1H73H71.8H70.7H69.5H68.4V374.9H67.2H66.1H64.9H63.8V375H62.6H61.5V374.9H60.3V375H59.2H58H56.8H55.7H54.5H53.4H52.2H51.1H49.9Z" fill="#000" fill-opacity="0.045"/><path d="M49.9 374.6H51.1H52.2H53.4H54.5H55.7V374.5H56.8V374.6H58V374.5H59.2H60.3H61.5V374.4H62.6H63.8H64.9H66.1H67.2H68.4H69.5H70.7V374.3H71.8V374.2H73V374.3H74.1V374.2H75.3H76.5H77.6H78.8V374.1H79.9V374.2H81.1V374.1H82.2H83.4H84.5H85.7H86.8V374H88H89.1V373.9H90.3H91.4H92.6V373.8H93.8V373.7H94.9H96.1H97.2V373.8H98.4V373.7H99.5V373.6H100.7H101.8H103V373.5H104.1H105.3V373.3H106.4H107.6H108.7V373.1H109.9H111.1H112.2V372.9H113.4V372.8H114.5V372.7H115.7V372.6H116.8V372.5H118H119.1V372.6H120.3V372.4H121.4V372.2H122.6V372.3H123.7V372.2H124.9V371.9H126H127.2H128.4V371.6H129.5V371.7H130.7V371.5H131.8H133H134.1H135.3V371.4H136.4V371.1H137.6V371H138.7V370.8H139.9H141V370.7H142.2V370.5H143.3H144.5V370H145.7V369.4H146.8H148V369.3H149.1V369H150.3H151.4V368.3H152.6V368.5H153.7V368.2H154.9V367.9H156V367.7H157.2V366.8H158.3V367.2H159.5V366.4H160.6V366.3H161.8V366.2H163V365.6H164.1V365.3H165.3V365.1H166.4V365H167.6V364.5H168.7V364H169.9V364.2H171V364H172.2V363.7H173.3V363.5H174.5V362.5H175.6V362.8H176.8V362.3H177.9V362.7H179.1V361.8H180.3V361.4H181.4H182.6V360.8H183.7H184.9V359.5H186V358.8H187.2V357.7H188.3V358H189.5V357.8H190.6V357.3H191.8V356.5H192.9V356.7H194.1V355.8H195.2V355.6H196.4V355H197.6V353.9H198.7V354.5H199.9V353.3H201V351.6H202.2V352.2H203.3H204.5V350H205.6V351.2H206.8V348.9H207.9V349H209.1V348.8H210.2V349.7H211.4V348.6H212.5V347H213.7V346.5H214.9V346.9H216V345.8H217.2V346.2H218.3V346.4H219.5V346.1H220.6V345.7H221.8V344.8H222.9V346.6H224.1V345.5H225.2V346.1H226.4V347.1H227.5V347.7H228.7V347.8H229.8V347.9H231V348.3H232.2V348.1H233.3V349.1H234.5V348.4H235.6V348.2H236.8V349.2H237.9V347.2H239.1V349H240.2V349.1H241.4V349H242.5V348.3H243.7V347.5H244.8V347.7H246V348.2H247.1V347.5H248.3V347.2H249.5V347.1H250.6V347.9H251.8V348.4H252.9V348.2H254.1V349.6H255.2V347.4H256.4V348.6H257.5V349.6H258.7V349.1H259.8V349.4H261V348.8H262.1V347.8H263.3V348.2H264.4V348.9H265.6V348.6H266.8V348.8H267.9V348.9H269.1V349H270.2V349.4H271.4V349.1H272.5V349.7H273.7V348.4H274.8V348.6H276V349.1H277.1V349.5H278.3V350.9H279.4V349.8H280.6V350H281.7V350.3H282.9V350.1H284V349.9H285.2V348.4H286.4V349.8H287.5V350.3H288.7V348.8H289.8V350.1H291V349.9H292.1V349.7H293.3V349.4H294.4V349.8H295.6H296.7V348.5H297.9V350.2H299V348.7H300.2V349.5H301.3V349.6H302.5V349.3H303.7V349.4H304.8V348.5H306H307.1V348.6H308.3V349.9H309.4V349.3H310.6V348.9H311.7V349.4H312.9V349.8H314V348.8H315.2V350H316.3V349.9H317.5V349.5H318.6V348.6H319.8V349.8H321V347.5H322.1H323.3H324.4V357.6H323.3V358.2H322.1V357.3H321V358.1H319.8V357.7H318.6V358.4H317.5V357.9H316.3V357.8H315.2V358.9H314H312.9V358.2H311.7V358.5H310.6V358.9H309.4V358H308.3V357.9H307.1V358.4H306V359H304.8H303.7V358.6H302.5V358.8H301.3V358.5H300.2V358.8H299V359.5H297.9V359.4H296.7V358.8H295.6V359H294.4V359.6H293.3V358.7H292.1V358.8H291V358.9H289.8V357.8H288.7V359H287.5V358.2H286.4V357.9H285.2V358H284H282.9V358.2H281.7V358.4H280.6V358.1H279.4V358.3H278.3V358.7H277.1V358.1H276V358.4H274.8V357.2H273.7V358.4H272.5H271.4V357.7H270.2V357.8H269.1V357.2H267.9V358.2H266.8V357.5H265.6H264.4V357.7H263.3V358H262.1V358.1H261V358.7H259.8V357.2H258.7V356.8H257.5V357.4H256.4V357.3H255.2V357.4H254.1V357.5H252.9V358.3H251.8V357.7H250.6V357.1H249.5V356.7H248.3V356.6H247.1H246V356.3H244.8H243.7V357H242.5V357.4H241.4V357.5H240.2V357.4H239.1V357.3H237.9V357.1H236.8V356.7H235.6V356.4H234.5V356.9H233.3H232.2V357.6H231V357.1H229.8V356.6H228.7V357H227.5H226.4V355.4H225.2V356.3H224.1V355.9H222.9V355.4H221.8V356.6H220.6V355.2H219.5V356.1H218.3V356.2H217.2V356.3H216V356.5H214.9V356.2H213.7V357.1H212.5V358.2H211.4V358.4H210.2V359.5H209.1V359.7H207.9V359.3H206.8V360H205.6V358.8H204.5V360.4H203.3V360.6H202.2V360.9H201V361H199.9V362.3H198.7V361.6H197.6V362.2H196.4V362.7H195.2V362.8H194.1V364H192.9V363.1H191.8V363.6H190.6V363.8H189.5V364H188.3V364.2H187.2V364.9H186V365.1H184.9V365.5H183.7V365.9H182.6V366H181.4V366.4H180.3V366.9H179.1V366.8H177.9V367H176.8V367.1H175.6V367H174.5V366.8H173.3V367.5H172.2V368.1H171V367.9H169.9V368.1H168.7V368H167.6V368.7H166.4V368.6H165.3V368.5H164.1V369.2H163V369.1H161.8V369.4H160.6V369.8H159.5V369.9H158.3V370.2H157.2H156H154.9V370.5H153.7V370.9H152.6H151.4V371.3H150.3V371.4H149.1V371.5H148V371.6H146.8V371.9H145.7V372.1H144.5H143.3H142.2V372.3H141V372.4H139.9V372.5H138.7V372.6H137.6V372.7H136.4V372.8H135.3V372.9H134.1V372.8H133V372.9H131.8H130.7V373H129.5H128.4V373.1H127.2H126H124.9V373.3H123.7V373.4H122.6V373.5H121.4V373.6H120.3V373.5H119.1V373.6H118H116.8H115.7V373.7H114.5V373.9H113.4V373.7H112.2V374H111.1H109.9V373.9H108.7V374.1H107.6V374H106.4V374.1H105.3H104.1V374.2H103H101.8V374.3H100.7V374.2H99.5V374.3H98.4H97.2H96.1H94.9H93.8V374.4H92.6H91.4V374.5H90.3H89.1H88H86.8V374.6H85.7V374.5H84.5H83.4V374.6H82.2H81.1H79.9H78.8H77.6H76.5V374.7H75.3H74.1H73H71.8H70.7H69.5V374.8H68.4H67.2H66.1H64.9V374.9H63.8V374.8H62.6V374.9H61.5V374.8H60.3V374.9H59.2H58H56.8H55.7H54.5H53.4H52.2H51.1H49.9Z" fill="#000" fill-opacity="0.045"/>
<path d="M49.9 375H51.1V375.2H52.2V375.1H53.4H54.5V374.8H55.7V374.9H56.8V375H58V375.2H59.2V375.1H60.3V374.9H61.5H62.6V374.8H63.8V374.9H64.9H66.1V375H67.2V375.1H68.4V374.9H69.5V375H70.7H71.8H73V374.9H74.1H75.3H76.5V374.4H77.6V374.5H78.8V374.3H79.9V374.6H81.1V374.1H82.2V374.5H83.4V374.7H84.5V374.8H85.7V374H86.8V374.4H88V374.2H89.1V374.1H90.3V374.2H91.4V373.4H92.6V373.9H93.8V374H94.9V374.2H96.1V374.8H97.2V374.9H98.4V374.6H99.5H100.7V374.3H101.8V374.1H103V374.3H104.1H105.3V373.9H106.4V374.6H107.6V374.3H108.7H109.9V374.8H111.1V374.1H112.2H113.4V373.9H114.5V374.1H115.7V373.9H116.8V373.6H118V373.4H119.1V374.1H120.3V373.6H121.4V373.9H122.6V374H123.7V374.4H124.9V374H126V373.4H127.2V373.8H128.4H129.5V374H130.7V373.9H131.8V374.2H133V374.3H134.1V373.9H135.3V374H136.4V374.6H137.6V373.4H138.7V374.4H139.9V373.3H141V373.4H142.2V374.1H143.3V373.2H144.5V373.6H145.7V373.8H146.8V373H148V372.9H149.1V373.1H150.3V369.3H151.4V371.6H152.6V371.9H153.7V367.6H154.9V371.2H156V370.3H157.2V369.8H158.3V368.9H159.5V367.5H160.6V367.1H161.8V366.5H163V368.5H164.1V363.5H165.3V366.9H166.4V366.6H167.6V367.3H168.7V363.3H169.9V364.2H171V365.3H172.2V367.3H173.3V361.8H174.5V360.6H175.6V360.1H176.8V358.2H177.9V354.7H179.1V360.1H180.3V363.3H181.4V360.4H182.6V359.7H183.7V365H184.9V359.8H186V352.8H187.2V355.9H188.3V353.6H189.5V358H190.6V355.3H191.8V356.5H192.9V349.6H194.1V345.3H195.2V341.8H196.4V350.1H197.6V357.5H198.7V351H199.9V355.9H201V348.8H202.2V349H203.3V355.2H204.5V326.2H205.6V354.2H206.8V344.6H207.9V343.5H209.1V346.9H210.2V345.1H211.4V343.5H212.5V340H213.7V341.3H214.9V349.8H216V354.9H217.2V345.2H218.3V344.9H219.5V352.6H220.6V343.1H221.8V342.4H222.9V352.6H224.1V333.1H225.2V326.3H226.4V318H227.5V315.8H228.7V310H229.8H231H232.2V324.1H233.3V316.9H234.5V324.2H235.6V333.4H236.8V339.5H237.9V336.1H239.1V349.9H240.2V339.1H241.4V354.7H242.5V338.7H243.7V333.3H244.8V330.5H246V334.1H247.1V328.9H248.3V345.6H249.5V344.7H250.6V348.4H251.8V336.9H252.9V337.3H254.1V335.9H255.2V346.2H256.4V329.9H257.5V342.9H258.7V343.3H259.8V350.6H261V333.5H262.1V332.2H263.3V337.4H264.4V325.3H265.6V313.6H266.8V314.8H267.9V310H269.1V316.6H270.2V345.1H271.4V336.1H272.5V334.6H273.7V343.6H274.8V324.8H276V330.3H277.1V332.2H278.3V346.1H279.4V334.4H280.6V339.2H281.7V351.7H282.9V356.2H284V363.3H285.2V356.3H286.4V357.1H287.5V356.2H288.7V360.6H289.8V358.4H291V361.8H292.1V357.4H293.3V352.7H294.4V363.7H295.6V364.9H296.7V361.5H297.9V362.4H299V344.5H300.2V359.2H301.3V351.6H302.5V350.6H303.7V354H304.8V351H306V355.4H307.1V358.2H308.3V356.6H309.4V354.8H310.6V355.7H311.7V344.7H312.9V349.2H314V358H315.2V348.8H316.3V358.7H317.5V354H318.6V356.1H319.8V358H321V364.1H322.1V352.3H323.3V359H324.4" fill="none" stroke="#000" stroke-opacity="0.035" stroke-width="0.8"/><path d="M49.9 374.7H51.1V374.6H52.2V374.7H53.4V374.6H54.5V375.1H55.7V374.8H56.8V374.6H58V374.4H59.2V374.7H60.3V374.6H61.5V374.7H62.6V374.4H63.8V374.2H64.9V374H66.1V374.6H67.2V374.4H68.4V374.3H69.5V374H70.7V374.5H71.8V373.7H73V374.3H74.1V373.8H75.3V374.1H76.5V374.2H77.6V374.1H78.8V374.5H79.9V374.7H81.1V374.3H82.2V374.6H83.4V374.1H84.5V374.4H85.7V373.5H86.8V373.7H88H89.1V374.1H90.3V373.9H91.4V374.1H92.6H93.8V373.9H94.9V373.4H96.1V373.6H97.2V373.3H98.4V374.3H99.5V373.9H100.7V374.1H101.8V373.5H103V374.2H104.1V373.7H105.3V373.8H106.4V374.5H107.6V374.1H108.7V373.5H109.9V373.4H111.1V373.5H112.2V372.7H113.4V372.9H114.5V372.3H115.7V372.2H116.8V372.7H118V372.4H119.1V372.6H120.3V373.3H121.4V373.7H122.6V373.6H123.7V373.2H124.9V372.6H126V371.7H127.2V371.9H128.4V368.3H129.5V369.6H130.7V369.5H131.8V372H133V371.2H134.1V373.2H135.3V372.5H136.4V373.4H137.6V372.9H138.7V373.2H139.9V372.6H141V372.8H142.2V372.1H143.3V372.3H144.5V371.3H145.7V371.4H146.8V370.4H148V371.5H149.1V372.2H150.3V371.6H151.4V368.8H152.6V370.4H153.7V369.9H154.9V365.8H156V370H157.2V367.4H158.3V368.4H159.5V367.5H160.6V367.4H161.8V366.7H163V364.6H164.1V362H165.3V368H166.4V367.5H167.6V363.1H168.7V362.7H169.9V362.6H171V365.6H172.2V368.2H173.3V357.9H174.5V360.9H175.6V365H176.8V365.7H177.9V366.3H179.1V361.5H180.3V362.1H181.4V365.7H182.6V364.1H183.7V361.8H184.9V360.5H186V361.5H187.2V349.5H188.3V360.5H189.5V358.4H190.6V364.2H191.8V365.2H192.9V367.1H194.1V358.2H195.2V358.7H196.4V366.6H197.6V362.6H198.7V358.4H199.9V359.5H201V353.9H202.2V349.9H203.3V357.3H204.5V356.7H205.6V354.2H206.8V356.9H207.9V350.9H209.1V365.5H210.2V360.9H211.4V364.2H212.5V361.4H213.7V365.2H214.9V363.1H216V360.8H217.2V364.2H218.3V361.9H219.5V365.8H220.6V363.6H221.8V357.5H222.9V353.8H224.1V354.7H225.2V350.2H226.4V353.6H227.5V339.2H228.7V349.7H229.8V347.7H231V353.1H232.2V345.5H233.3V350.6H234.5V353.4H235.6H236.8V346.9H237.9V350.5H239.1V352.1H240.2V354.3H241.4V356.3H242.5V361.7H243.7V358.5H244.8V349.5H246V356.6H247.1V353.1H248.3V353.4H249.5V350.7H250.6V354H251.8V359.7H252.9V358.1H254.1V361.7H255.2V367.2H256.4V362.4H257.5V358.6H258.7V352.9H259.8V350.8H261V338.9H262.1V334.2H263.3V328.7H264.4V344.1H265.6V361.5H266.8V344.2H267.9V357.5H269.1V358.6H270.2V354.9H271.4V350.6H272.5V357H273.7V352.2H274.8V341H276V351.7H277.1V356.3H278.3V353.2H279.4V355.7H280.6V342.1H281.7V346.5H282.9V357.1H284V347.2H285.2V348.7H286.4V345.4H287.5V347.9H288.7V357.9H289.8V350.3H291V351.6H292.1V358.9H293.3V352.6H294.4V355.1H295.6V349.1H296.7V351.2H297.9V357.5H299V357.1H300.2V360.1H301.3V363.1H302.5V366.4H303.7V362.7H304.8V363.1H306V358.8H307.1V354H308.3V358.8H309.4V356.5H310.6V357.7H311.7V350.9H312.9V355.6H314V354.1H315.2V360.7H316.3V352.6H317.5V332.7H318.6V346.5H319.8V343.4H321V347.8H322.1V339.8H323.3V328.3H324.4" fill="none" stroke="#000" stroke-opacity="0.035" stroke-width="0.8"/><path d="M49.9 375.2H51.1H52.2V375H53.4V375.2H54.5H55.7H56.8H58V375H59.2V375.2H60.3H61.5H62.6H63.8V375.1H64.9V374.9H66.1V375H67.2V375.1H68.4V374.8H69.5V375H70.7H71.8H73V375.2H74.1V375H75.3V375.1H76.5V374.9H77.6V375H78.8V374.9H79.9V375H81.1V374.9H82.2V374.7H83.4H84.5V374.9H85.7H86.8V375.1H88H89.1V374.9H90.3V374.8H91.4V374.9H92.6H93.8V375H94.9V374.6H96.1V373.7H97.2V372.1H98.4V372.7H99.5V370.9H100.7V371.5H101.8V372.5H103V372.3H104.1V372.7H105.3V373.8H106.4V374H107.6V374.1H108.7V373.2H109.9V374H111.1V373.5H112.2V373.4H113.4V373.8H114.5V373.7H115.7V373.6H116.8V373H118V373.6H119.1V371.6H120.3V372.3H121.4V372.5H122.6V372.2H123.7V373.4H124.9V372H126V372.6H127.2V373.3H128.4V372.9H129.5V372.5H130.7V373.3H131.8V372.7H133V373.1H134.1V373.5H135.3V373.4H136.4V373.1H137.6V372.6H138.7V372.7H139.9V371.5H141V369.5H142.2V372.8H143.3V372.1H144.5V372.2H145.7V373.4H146.8V373.9H148V372.5H149.1V372H150.3V372.3H151.4V370.7H152.6V371.8H153.7V369.2H154.9V366.5H156V368.5H157.2V364.8H158.3V365.1H159.5V367.2H160.6V366.1H161.8V363.6H163V366.3H164.1V369.6H165.3V365.8H166.4V368.8H167.6V368.3H168.7V362.3H169.9V367.7H171V363.3H172.2V367.9H173.3V359H174.5V362.2H175.6V363.2H176.8V365.5H177.9V367.8H179.1V363.9H180.3V363.8H181.4V364.2H182.6V364H183.7V362.3H184.9V365.5H186V362.7H187.2V359.4H188.3V362.4H189.5V362.2H190.6V363.5H191.8V360.8H192.9V360.7H194.1V363.3H195.2V356.4H196.4V361.5H197.6V363.3H198.7V365.4H199.9V367.3H201V364.2H202.2V363.8H203.3V361.1H204.5V359.3H205.6V354.2H206.8V359H207.9V361.5H209.1V356.6H210.2V359.5H211.4V353H212.5V350.2H213.7V357.8H214.9V355.9H216V358.2H217.2V347.1H218.3V344.6H219.5V353.9H220.6V344.4H221.8V342.7H222.9V346.4H224.1V350.1H225.2V342H226.4V330.4H227.5V346.3H228.7V349H229.8V353.8H231V344.9H232.2V348H233.3V353.3H234.5V354.9H235.6V356.7H236.8V361.4H237.9V359.5H239.1V348.1H240.2V358.2H241.4V341.2H242.5V339.3H243.7V351.6H244.8V346.9H246V358H247.1V356.6H248.3V358.8H249.5V359.3H250.6V358.1H251.8V354.6H252.9V354.4H254.1V359.2H255.2V360.9H256.4V359.3H257.5V361.1H258.7V363H259.8V360.4H261V364H262.1V363H263.3V359.6H264.4V365.8H265.6V363.5H266.8V365.8H267.9V366.4H269.1V361.7H270.2V364.8H271.4V364H272.5V359.8H273.7V360.4H274.8V359.2H276V364.2H277.1V364.3H278.3V361.6H279.4V354.2H280.6V359.8H281.7V350.4H282.9V342.9H284V339.2H285.2V355.4H286.4V360.1H287.5V361.3H288.7V349.3H289.8V360.3H291V361.8H292.1V357.3H293.3V361.2H294.4V360.4H295.6V358.9H296.7V351.7H297.9V356.5H299V357.6H300.2V355.9H301.3V359.1H302.5V357.1H303.7V362.1H304.8V359.7H306V357.7H307.1V356.3H308.3V356H309.4V351.3H310.6V363.4H311.7V363.1H312.9V343.3H314V351.8H315.2V355H316.3V356.5H317.5V349.2H318.6V360.8H319.8V336.3H321V353.8H322.1V321.1H323.3V344.2H324.4" fill="none" stroke="#000" stroke-opacity="0.035" stroke-width="0.8"/><path d="M49.9 375.1H51.1V374.9H52.2V375H53.4V374.9H54.5H55.7V374.8H56.8V375H58V374.9H59.2V375.1H60.3V374.7H61.5V375H62.6V374.8H63.8V375H64.9H66.1V374.9H67.2V374.7H68.4V374.6H69.5V374.3H70.7V374.5H71.8V374.2H73V374.6H74.1V374.2H75.3V373.1H76.5V373.7H77.6V374H78.8V374.1H79.9V373.9H81.1H82.2V374.4H83.4V374.3H84.5V373.3H85.7V373.7H86.8H88V374.5H89.1V374.6H90.3V373.8H91.4V373.3H92.6V374.3H93.8V373.4H94.9V372.9H96.1V372.8H97.2V373.6H98.4V373H99.5V373.9H100.7V374H101.8V373.2H103V374H104.1V373.5H105.3V374H106.4V373.8H107.6V373.5H108.7V372.1H109.9V372.8H111.1V374H112.2V373.7H113.4V374.4H114.5V373.3H115.7V373H116.8V373.8H118V373.7H119.1V373.1H120.3V373.2H121.4V372.8H122.6V373.5H123.7V373.9H124.9V373.7H126V373.4H127.2V372.3H128.4V370.9H129.5V372H130.7V372.9H131.8V373.3H133V373H134.1V373.2H135.3V373.9H136.4V373.5H137.6V373H138.7V372.5H139.9V372.2H141V372.9H142.2V371.7H143.3V373.3H144.5V372H145.7V369.9H146.8V370.6H148V367.8H149.1V367.2H150.3V367.1H151.4V366.5H152.6V365.3H153.7V367.1H154.9V371H156V369.5H157.2V371.3H158.3V370H159.5V370.3H160.6V370.5H161.8V370.9H163V371.4H164.1V370.9H165.3V370.4H166.4V371.3H167.6V371.5H168.7V369.3H169.9V366.1H171V369.1H172.2V370.3H173.3V371.4H174.5V366.8H175.6H176.8V369.6H177.9V364.9H179.1V362.9H180.3V364.9H181.4V366.9H182.6V366.1H183.7V369.3H184.9V364.3H186V366.7H187.2V361H188.3V356.8H189.5V362.8H190.6V364.4H191.8V363H192.9V367.4H194.1V365.9H195.2V362.3H196.4V359.9H197.6V362.5H198.7V355.3H199.9V358.5H201V352H202.2V356.7H203.3V353.9H204.5V343.9H205.6V358.7H206.8V354.9H207.9V351.3H209.1V337.9H210.2V354.1H211.4V337.2H212.5V328.9H213.7V352.5H214.9V356.4H216V361.4H217.2V341.1H218.3V363.2H219.5H220.6V362.4H221.8V362.1H222.9V352.5H224.1V360.5H225.2V350.1H226.4V356.9H227.5V358.1H228.7V354H229.8V359.5H231V360.1H232.2V361H233.3V362.5H234.5V341.7H235.6V342.4H236.8V356.3H237.9V334.4H239.1V347.8H240.2V337.4H241.4V350.4H242.5V331.1H243.7V333H244.8V333.7H246V330.4H247.1V329.3H248.3V338.6H249.5V333.9H250.6V349.7H251.8V362.7H252.9V353.7H254.1V355.6H255.2V362.4H256.4V354.6H257.5V354.4H258.7V356H259.8V359.2H261V359.3H262.1V357.4H263.3V362.5H264.4V354.7H265.6V344.5H266.8V356.7H267.9V351.1H269.1V351.4H270.2V360.1H271.4V359.7H272.5V356.7H273.7V343H274.8V349.7H276V358.4H277.1V348.2H278.3V352H279.4V359.6H280.6V359.9H281.7V361H282.9V358.9H284V364.9H285.2V356.7H286.4V355.5H287.5V360.7H288.7V360.5H289.8H291V347.9H292.1V353H293.3V355.6H294.4V354.3H295.6V327H296.7V327.3H297.9V319.8H299V310H300.2V322.8H301.3V328.7H302.5V323.9H303.7V311.3H304.8V331.6H306V326.3H307.1V310H308.3H309.4V317.4H310.6V315.7H311.7V333.3H312.9V334.4H314V349.8H315.2V351.5H316.3V345.5H317.5V341.8H318.6V348.4H319.8V353.9H321V348.9H322.1V344.2H323.3V338.5H324.4" fill="none" stroke="#000" stroke-opacity="0.035" stroke-width="0.8"/><path d="M49.9 374.8H51.1V374.3H52.2V374.2H53.4V374.4H54.5V375H55.7V374.8H56.8V374.9H58V375H59.2V374.9H60.3H61.5H62.6V375H63.8H64.9V374.7H66.1V374.4H67.2V374.7H68.4V374.5H69.5H70.7V375H71.8V374.5H73V374.7H74.1H75.3V374.5H76.5V373.8H77.6V374H78.8V373.9H79.9V374.3H81.1V374.2H82.2V374.6H83.4V374.5H84.5V374.7H85.7H86.8V374.4H88H89.1V374.5H90.3V374.8H91.4V374.2H92.6V374.6H93.8H94.9V374.8H96.1V374.5H97.2V375.1H98.4V374.9H99.5H100.7V375.1H101.8V375H103V374.9H104.1V374.8H105.3V375.1H106.4H107.6V374.6H108.7V374.9H109.9V374.4H111.1V374.8H112.2V374.4H113.4V374.7H114.5V374.3H115.7V374.2H116.8V374.3H118V373.8H119.1V374.6H120.3V374.4H121.4V373.8H122.6V374.1H123.7H124.9V374.5H126V372.8H127.2V373.3H128.4V374.1H129.5H130.7V374.7H131.8V374.3H133H134.1H135.3V374.2H136.4V373.6H137.6V374.2H138.7V372.8H139.9V372.4H141V373.8H142.2V374.2H143.3V373.6H144.5V373.8H145.7V373.7H146.8V374.4H148V372.7H149.1V372.3H150.3V371.1H151.4V372.2H152.6V371.5H153.7V358.9H154.9V354.2H156V356.2H157.2V364.3H158.3V369.9H159.5V364.6H160.6V368.1H161.8V362.2H163V357.9H164.1V353.5H165.3V354.5H166.4V358.6H167.6V360.4H168.7V359.5H169.9V361.2H171V359H172.2V354.9H173.3V359.8H174.5V360.6H175.6V361.4H176.8V359.1H177.9V356.7H179.1V356.8H180.3V364.8H181.4V361.7H182.6V360.6H183.7V356.4H184.9V363.8H186V365.8H187.2V366.8H188.3V369.7H189.5V366.1H190.6V364.7H191.8V358.6H192.9V363.2H194.1V366.3H195.2V358.4H196.4V361.1H197.6V352.8H198.7V353.8H199.9V358.2H201V357.8H202.2H203.3V352.3H204.5V360H205.6V355H206.8V359.9H207.9V354.5H209.1V360.3H210.2V354.9H211.4V355.8H212.5V362.3H213.7V355.2H214.9V353.3H216V354H217.2V352.3H218.3V351.1H219.5V342.6H220.6V345.2H221.8V336.3H222.9V334.2H224.1V337.3H225.2V341.5H226.4V356.4H227.5V357.7H228.7V345.4H229.8V362.3H231V359H232.2V353.1H233.3V355.4H234.5V362.1H235.6V357.4H236.8H237.9V363H239.1V355H240.2V346.3H241.4V356.7H242.5V336.4H243.7V345.2H244.8V343.1H246V349.3H247.1V336.7H248.3V338.3H249.5V344.8H250.6V336.5H251.8V315.8H252.9V340.8H254.1V335.6H255.2V325.2H256.4V310H257.5V332.9H258.7V313H259.8V310H261V314.1H262.1V310H263.3H264.4V314.9H265.6V320.1H266.8V316.7H267.9V321.1H269.1V310H270.2V317.1H271.4V328.6H272.5V323.6H273.7V337.1H274.8V328H276V319.6H277.1V313.4H278.3V321.7H279.4V343.8H280.6V340.1H281.7V343.3H282.9V353H284V355.5H285.2V347.8H286.4V337.7H287.5V333.9H288.7V354.1H289.8V356.3H291V354H292.1V358.6H293.3V350.1H294.4V353.4H295.6V361.5H296.7V358H297.9V354.7H299V358.9H300.2V363.7H301.3V359.5H302.5V357.8H303.7V356.5H304.8V362.1H306V358.4H307.1V354.5H308.3V358.2H309.4V359.3H310.6V352.2H311.7V352.7H312.9V351.3H314V341.4H315.2V341.3H316.3V327.7H317.5V347.1H318.6V347.4H319.8V339.1H321V345.1H322.1V352.1H323.3V359.1H324.4" fill="none" stroke="#000" stroke-opacity="0.035" stroke-width="0.8"/><path d="M49.9 375.2H51.1V375.1H52.2V375H53.4V375.2H54.5V375H55.7V374.9H56.8V375.1H58H59.2H60.3V374.9H61.5H62.6V375H63.8V375.2H64.9V375H66.1V374.8H67.2V374.7H68.4V374.8H69.5V374.2H70.7V374.5H71.8V374.1H73H74.1V374.6H75.3V373.8H76.5V373.7H77.6V373.6H78.8V374.6H79.9H81.1V373.8H82.2V373.6H83.4V374.3H84.5V374.2H85.7V374.6H86.8V374.1H88V374.5H89.1V374.4H90.3V373.9H91.4V374.8H92.6V374.6H93.8V374.1H94.9V374.4H96.1V374.7H97.2V374.8H98.4V374.9H99.5V374.8H100.7V374.9H101.8V374.6H103V374.5H104.1V374.6H105.3V374.8H106.4H107.6V375H108.7V374.8H109.9H111.1V374.5H112.2V374.2H113.4V374H114.5V374.3H115.7V373.6H116.8V373.8H118V373.2H119.1H120.3V373.5H121.4V372.8H122.6V371.8H123.7V373.7H124.9V372.2H126H127.2V370.8H128.4V372.5H129.5V371.3H130.7V370.5H131.8V371.1H133V369.6H134.1V372.2H135.3V372.3H136.4V369.1H137.6V371.5H138.7V370.1H139.9V370.9H141V372.1H142.2V371.6H143.3V371.8H144.5V369.9H145.7V367.9H146.8V367H148V368.5H149.1V367H150.3V368.5H151.4V366.6H152.6V368.2H153.7V370H154.9V366.6H156V366.9H157.2V364.9H158.3V363.1H159.5V364.8H160.6V364H161.8V367.4H163V369.9H164.1V369.6H165.3V367.6H166.4V363.8H167.6V366.9H168.7V368.7H169.9V369.4H171V370.4H172.2V367.5H173.3V365.8H174.5V363.1H175.6V362.4H176.8V364.9H177.9V351.8H179.1V353.8H180.3V337.1H181.4V346H182.6V357.9H183.7V356.2H184.9V353.1H186V358.8H187.2V364H188.3V352.8H189.5V355.8H190.6V361.6H191.8V355.7H192.9V345.6H194.1V349.7H195.2V358.6H196.4V342.7H197.6V342H198.7V347H199.9V351.8H201V356.6H202.2V365.4H203.3V356.8H204.5V357.2H205.6V358.3H206.8V359.2H207.9V357.5H209.1V354.3H210.2V354.2H211.4V350.5H212.5V340.4H213.7V346.3H214.9V350.5H216V343H217.2V342.9H218.3V339.1H219.5V346.9H220.6V349.2H221.8V336.2H222.9V315.4H224.1V323.6H225.2V329.5H226.4V331.6H227.5V328.9H228.7V326H229.8V310.5H231V319.2H232.2V324.5H233.3V334H234.5V319.4H235.6V324.8H236.8V333.4H237.9V336.1H239.1V338.5H240.2V339.1H241.4V324.2H242.5V336.2H243.7V346.8H244.8V339.3H246V348.1H247.1V348.5H248.3V355.9H249.5V354.2H250.6V367.7H251.8V362.9H252.9V362.8H254.1V364.7H255.2V367.7H256.4V366.2H257.5V363.4H258.7V367.4H259.8V365.9H261V366.2H262.1V362.5H263.3V364H264.4V363.6H265.6V367.7H266.8V365.8H267.9V364.5H269.1V364.2H270.2V363.3H271.4V362.7H272.5V357.6H273.7V364.3H274.8V343.4H276V322.3H277.1V346.4H278.3V344.6H279.4V335.1H280.6V349.2H281.7V352.6H282.9V354.9H284V351.7H285.2V363.9H286.4V361.6H287.5V359.3H288.7V358.5H289.8V360.3H291V355.6H292.1V351.5H293.3V365.4H294.4V360.7H295.6V364.6H296.7V367H297.9V367.1H299V357.7H300.2V363.3H301.3V362.9H302.5V364.6H303.7V364.5H304.8V357.7H306V361.6H307.1V360.4H308.3V361.8H309.4V367.4H310.6V364.9H311.7V359.8H312.9V360.8H314V360.6H315.2V356.9H316.3V358.2H317.5V361H318.6V357.3H319.8V358.6H321V361.3H322.1V358H323.3V349.3H324.4" fill="none" stroke="#000" stroke-opacity="0.035" stroke-width="0.8"/><path d="M49.9 375H51.1V375.1H52.2H53.4V375.2H54.5H55.7V375.3H56.8H58H59.2H60.3V375.2H61.5H62.6H63.8H64.9H66.1V374.8H67.2V374.9H68.4V375.1H69.5V374.8H70.7V374.4H71.8V374.9H73V374.8H74.1V374.7H75.3V375H76.5V374.8H77.6H78.8V374.6H79.9V374.4H81.1V374.2H82.2V374.3H83.4V373.9H84.5V374H85.7V373.8H86.8V374.1H88V374.4H89.1V374.2H90.3V374.4H91.4H92.6V374.1H93.8V374H94.9V374.4H96.1V374.1H97.2V374.4H98.4H99.5V375H100.7V375.1H101.8V374.4H103V374.8H104.1V374.4H105.3V374.7H106.4V374.8H107.6H108.7V374.6H109.9V374.8H111.1H112.2V373.4H113.4V373.8H114.5V373.9H115.7V372.5H116.8H118H119.1V373.5H120.3V373.3H121.4V373.5H122.6V373H123.7H124.9V373.7H126V372.5H127.2V373.7H128.4V372.7H129.5V373.4H130.7V373.6H131.8V373.8H133V374H134.1H135.3V374.2H136.4V374.6H137.6V374.1H138.7V374.6H139.9V374.8H141V374.5H142.2V374.2H143.3V372.9H144.5V373.7H145.7V373.5H146.8V374.2H148V373.4H149.1V374H150.3V374.2H151.4V373.9H152.6V373.7H153.7H154.9V374.6H156V374.4H157.2V374H158.3V373.9H159.5H160.6V373.8H161.8V374.1H163V374H164.1V373.5H165.3V373.4H166.4V372.6H167.6V372.9H168.7V371.9H169.9V370.6H171V373.2H172.2V370.7H173.3V371H174.5V371.3H175.6V372.3H176.8V371.4H177.9V371.3H179.1V370.1H180.3V370.4H181.4V369.3H182.6V370.5H183.7V370.8H184.9V371.7H186V370.4H187.2V371.8H188.3V372.3H189.5V367.5H190.6V369H191.8V366.4H192.9V369H194.1V368.9H195.2V367.3H196.4V366.2H197.6V361.5H198.7V361.3H199.9V347.1H201V348.4H202.2V353.9H203.3V358.5H204.5V347.1H205.6V359.2H206.8V353.6H207.9V354.7H209.1V363.7H210.2V349.6H211.4V359.1H212.5V357.2H213.7V358.3H214.9V354.7H216V355.1H217.2V339.8H218.3V342.5H219.5V343.4H220.6V351H221.8V362.1H222.9V355.1H224.1V340.8H225.2V349.6H226.4V346.5H227.5V352.6H228.7V358.8H229.8H231V364.8H232.2V356.9H233.3V359.1H234.5V355.9H235.6V356.7H236.8V363.4H237.9V362.7H239.1V363.6H240.2V360.4H241.4V365.2H242.5V366.7H243.7V364.9H244.8V364.6H246V358.7H247.1V362.8H248.3V359.8H249.5V362.1H250.6V355.3H251.8V359.5H252.9V360H254.1V358.8H255.2V360.7H256.4V356.4H257.5V355.2H258.7V359.2H259.8V347.8H261V350.5H262.1V343.4H263.3V354.4H264.4V336.9H265.6V334.6H266.8V350.8H267.9V320.5H269.1V337H270.2V343.5H271.4V326.7H272.5V340.8H273.7V343.1H274.8V347.5H276V350.7H277.1V339.8H278.3V352.1H279.4V354.8H280.6V351.8H281.7V358.3H282.9V355H284V350.1H285.2V361.8H286.4V354.8H287.5V357.3H288.7V360.4H289.8V358.1H291V364.2H292.1V364.9H293.3V368.1H294.4V364.6H295.6V365.2H296.7H297.9V368.9H299V361.7H300.2V366.5H301.3V368.8H302.5V366.5H303.7V364.6H304.8V366.1H306V367.8H307.1V365.3H308.3V363H309.4V363.5H310.6V367.6H311.7V367.1H312.9V354H314V360H315.2V354.4H316.3V351.4H317.5V355.8H318.6V344.3H319.8V354H321V347.4H322.1V342.7H323.3V348.5H324.4" fill="none" stroke="#000" stroke-opacity="0.035" stroke-width="0.8"/><path d="M49.9 375H51.1V375.1H52.2V374.8H53.4V374.9H54.5V374.7H55.7V373.6H56.8V374.4H58V374.6H59.2V374.2H60.3V374.5H61.5V374.2H62.6V374.3H63.8V375H64.9V374.5H66.1H67.2V374.7H68.4V374.4H69.5V374.1H70.7V374.2H71.8V374H73V374.3H74.1V374.5H75.3V374.4H76.5H77.6V374.9H78.8V374.8H79.9V374.7H81.1V374.2H82.2V374.6H83.4V374.5H84.5H85.7V375H86.8V374.5H88H89.1H90.3H91.4V374.3H92.6V374.1H93.8V373.8H94.9V372.9H96.1V373.7H97.2V372.6H98.4V371.7H99.5V372.8H100.7V372H101.8V372.4H103V373H104.1V371.5H105.3V372.9H106.4V372.4H107.6V373H108.7V372.7H109.9V370.7H111.1V372.2H112.2V373H113.4V372.1H114.5V373H115.7V372.9H116.8V371.4H118V373.7H119.1V373.8H120.3V372.1H121.4V370.8H122.6V371.8H123.7V372.7H124.9V371.8H126V373.7H127.2V372.7H128.4V371.2H129.5V373H130.7V370.4H131.8V371H133V371.4H134.1V367.5H135.3V370.9H136.4V369.1H137.6V368.6H138.7V368.5H139.9V369.7H141V365.9H142.2V368.5H143.3V367H144.5V367.6H145.7V363H146.8V367.8H148V365.7H149.1V368.1H150.3V366.7H151.4V369.3H152.6V364.8H153.7V362.4H154.9V357.2H156V356.3H157.2V362.5H158.3H159.5V354.1H160.6V355.9H161.8V358.2H163V350.7H164.1V360.7H165.3V358.5H166.4V364.1H167.6V360.6H168.7V358H169.9V350H171V352H172.2V359.1H173.3V362.7H174.5V361.4H175.6V363H176.8V361.2H177.9V363.9H179.1V362.2H180.3V363H181.4V362.8H182.6V365.8H183.7H184.9V363.6H186V363.3H187.2V361.6H188.3V360.1H189.5V363.4H190.6V353H191.8V350.8H192.9V355.5H194.1V352.3H195.2V348.6H196.4V344.6H197.6V343H198.7V351.9H199.9V344.4H201V362H202.2V353.9H203.3V346.9H204.5V348.4H205.6V355.4H206.8V352.4H207.9V349H209.1V356.6H210.2V351.3H211.4V359.8H212.5V354.7H213.7V360.7H214.9V358.5H216V351.5H217.2V359.6H218.3V360H219.5V357.3H220.6V357.7H221.8V347.9H222.9V357.1H224.1V349.6H225.2V356.3H226.4V358H227.5V355.7H228.7V365.7H229.8V357.7H231V360.4H232.2V359.8H233.3V354.7H234.5V356.8H235.6V352H236.8V356H237.9V351H239.1V355.1H240.2V360.2H241.4V353H242.5V341.1H243.7V322.5H244.8V343.2H246V330.8H247.1V346.6H248.3V335.3H249.5V340.6H250.6V355H251.8V357.3H252.9V357.5H254.1V358.8H255.2V363.1H256.4V334.9H257.5V356.1H258.7V353.4H259.8V352.7H261V334.5H262.1V343.4H263.3V331.6H264.4V329.1H265.6V334.2H266.8V328.6H267.9V321.8H269.1V331.6H270.2V316.9H271.4V339.3H272.5V338.3H273.7V333.3H274.8V347.6H276V333.4H277.1V340H278.3V342.7H279.4V351.8H280.6V338H281.7V336.1H282.9V353.8H284V343H285.2V354.2H286.4V336.6H287.5V330.3H288.7V334.3H289.8V337.3H291V353.1H292.1V356.3H293.3V363.2H294.4V364.1H295.6V359.9H296.7V361.1H297.9V361.2H299V358.2H300.2V358.7H301.3V344.3H302.5V342.6H303.7V354.5H304.8V358.5H306V354.3H307.1V352.1H308.3V356.1H309.4V357.7H310.6V360.4H311.7V358.8H312.9V358.7H314V364.1H315.2V365.6H316.3V352.3H317.5V360H318.6V362H319.8V350.5H321V350.7H322.1V347.3H323.3V350.8H324.4" fill="none" stroke="#000" stroke-opacity="0.035" stroke-width="0.8"/><path d="M49.9 373.9H51.1V374.6H52.2V374H53.4V374.2H54.5V374.5H55.7H56.8V375H58V374.8H59.2V374.5H60.3V374H61.5V374.6H62.6H63.8V374.9H64.9V374.7H66.1V375H67.2V374.4H68.4V374.6H69.5V374.1H70.7V374.8H71.8H73V375H74.1V374.7H75.3V374.8H76.5H77.6H78.8H79.9V374.7H81.1V374.6H82.2V374.4H83.4V374.5H84.5V374.1H85.7V374.3H86.8V374H88V374.4H89.1V374.8H90.3V374.3H91.4V373.9H92.6V374.1H93.8V373.7H94.9V374.2H96.1V373.9H97.2V373.2H98.4V372.7H99.5H100.7V372.2H101.8H103V371.5H104.1V372.5H105.3V372.4H106.4V372.6H107.6V374H108.7V373.4H109.9V373.8H111.1V374.1H112.2H113.4V374.4H114.5V373.5H115.7V373.9H116.8V373.1H118V373.8H119.1V373.4H120.3V373.8H121.4V373.5H122.6V373.1H123.7V373.9H124.9V372.9H126V373.2H127.2V373.3H128.4V373H129.5V372.4H130.7V373.5H131.8V372.5H133V372.3H134.1V369.5H135.3V372.3H136.4V370.8H137.6V367.9H138.7V371.9H139.9V370.4H141V370.3H142.2V371.4H143.3V367.6H144.5V370.1H145.7V370H146.8V368.9H148V371.5H149.1V368.6H150.3V368.8H151.4V369.4H152.6V367.3H153.7V369.9H154.9V369.4H156V370.2H157.2V366.6H158.3V362.9H159.5V359.9H160.6V364.4H161.8V363.5H163V354.9H164.1V359.2H165.3V365.6H166.4V360.3H167.6V358.4H168.7V359.9H169.9V359H171V363.1H172.2V362.1H173.3V363.5H174.5V365H175.6V358.6H176.8V356.3H177.9V366.5H179.1V360.5H180.3V358H181.4V363.3H182.6V343.9H183.7V358.4H184.9V365.9H186V365.7H187.2V358.8H188.3V364.1H189.5V355.8H190.6V361.9H191.8V363.2H192.9V360.2H194.1V352.7H195.2V356.2H196.4V348H197.6V358.4H198.7V354.1H199.9V352.3H201V340.7H202.2V352.7H203.3V344.3H204.5V349.7H205.6V352.2H206.8V351.4H207.9V351.5H209.1V351.7H210.2V353.6H211.4V358.3H212.5V343.4H213.7V341.6H214.9V345.1H216V356.8H217.2V344.5H218.3V346.2H219.5V339.3H220.6V353.3H221.8V347.8H222.9V351.6H224.1V345.8H225.2V341.8H226.4V347.8H227.5V339H228.7V348.3H229.8V334H231V339.4H232.2V338H233.3V352.8H234.5V357.4H235.6V356.8H236.8V348.5H237.9V344.2H239.1V357.7H240.2V356.3H241.4V361.9H242.5V365.8H243.7V361.7H244.8V363.5H246V359H247.1V359.2H248.3V340.1H249.5V360.3H250.6V348.6H251.8V348.4H252.9V320H254.1V355.4H255.2V359.8H256.4V356.9H257.5V354.6H258.7V360.5H259.8V356.2H261V346.7H262.1V360.5H263.3V357.1H264.4V361.4H265.6V367.3H266.8V362.2H267.9V362.6H269.1V364.4H270.2V367.1H271.4V368.8H272.5V368.5H273.7V366.4H274.8V362.7H276V360.8H277.1V359.3H278.3V356.9H279.4V360.4H280.6V357.6H281.7V361.8H282.9V361.7H284V346.1H285.2V359.3H286.4V360.5H287.5V355.1H288.7V357.5H289.8V362.9H291V365.5H292.1V367H293.3V367.6H294.4V367.9H295.6V370.3H296.7V369.1H297.9V365.2H299V361.7H300.2V363H301.3V363.8H302.5V360.1H303.7V356.6H304.8V361.1H306V359.7H307.1V355.9H308.3V358H309.4V361.9H310.6V358.5H311.7V359.3H312.9V348.3H314V353.3H315.2V357.1H316.3V354.7H317.5V350.9H318.6V353.2H319.8V356.1H321V348.7H322.1V356.2H323.3V359.6H324.4" fill="none" stroke="#000" stroke-opacity="0.035" stroke-width="0.8"/><path d="M49.9 374.8H51.1V374.7H52.2V374.8H53.4H54.5V375.1H55.7H56.8V374.8H58V374.7H59.2V374.9H60.3H61.5V375H62.6V375.2H63.8V375.1H64.9V374.9H66.1V374.7H67.2V374H68.4V373.9H69.5V373H70.7V373.5H71.8V373.4H73V373.8H74.1V374.3H75.3V374.5H76.5V374.1H77.6V373.7H78.8V374.3H79.9V374H81.1V373.6H82.2H83.4V373H84.5V373.6H85.7V373.3H86.8V374.1H88V373.8H89.1V373.4H90.3V373.6H91.4V373.4H92.6V374.1H93.8V371.7H94.9V372H96.1V372.6H97.2V373.3H98.4H99.5V374.1H100.7V373.9H101.8V373.8H103V373.3H104.1V372.6H105.3V372.4H106.4V372.8H107.6V373.8H108.7V373.7H109.9V373.5H111.1V372.4H112.2V372.7H113.4V374.4H114.5V374.3H115.7V373.7H116.8V373.6H118V373.3H119.1V372.7H120.3V373.7H121.4V373.3H122.6V373.2H123.7V373.1H124.9V372.6H126V370.2H127.2V371.9H128.4V371.8H129.5V372.6H130.7V372.3H131.8V372H133V371.1H134.1V372H135.3V372.1H136.4V373H137.6V373.4H138.7V373.6H139.9V374.1H141V373.8H142.2V373.3H143.3V373.2H144.5V373.1H145.7V372.9H146.8V371.9H148V370.6H149.1V370.4H150.3V371.5H151.4V372H152.6V371.8H153.7V367H154.9V369H156V367.4H157.2V359.4H158.3V353.1H159.5V361.9H160.6V362.9H161.8V362.1H163V363H164.1V360.6H165.3V362.8H166.4V362.5H167.6V358.8H168.7V353.5H169.9V358.4H171V357.5H172.2V355.3H173.3V359.1H174.5V345.3H175.6V359.6H176.8V351.1H177.9V360.2H179.1V358.8H180.3V358.9H181.4V358.8H182.6V362.4H183.7V362.9H184.9V351.9H186V364.2H187.2V363.3H188.3V358.2H189.5V356.9H190.6V349H191.8V350.6H192.9V356H194.1V341.4H195.2V350.1H196.4V353.3H197.6V344.9H198.7V338.9H199.9V336.9H201V344.6H202.2V344.3H203.3V335.8H204.5V340H205.6V329.6H206.8V335.8H207.9V349H209.1V339.1H210.2V348.2H211.4V348.4H212.5V356.3H213.7V353.4H214.9V354.1H216V345.4H217.2V351.5H218.3V343.8H219.5V352.2H220.6V344.7H221.8V351.9H222.9V359.6H224.1V357H225.2V351.1H226.4V351.3H227.5V355.1H228.7V353.9H229.8V358H231V360.3H232.2V361.6H233.3V367.9H234.5V356.7H235.6V360.3H236.8V357.6H237.9V362H239.1V361.3H240.2V361.6H241.4V369H242.5V368.9H243.7V366.3H244.8V367.5H246V368.6H247.1V367.3H248.3V363H249.5V360.1H250.6V360.6H251.8V362.1H252.9V359.5H254.1V365.3H255.2V364.5H256.4V364.6H257.5V360.2H258.7V358.9H259.8V360.8H261V357.1H262.1V367.5H263.3V365.7H264.4V365.4H265.6V365.2H266.8V362H267.9V353.9H269.1V345.9H270.2V360.7H271.4V351H272.5V352.6H273.7V354.4H274.8V346.1H276V343.2H277.1V340.4H278.3V352.9H279.4V349.1H280.6V327.6H281.7V349.7H282.9V321.4H284V347.5H285.2V342.2H286.4V344.1H287.5V323.9H288.7V337.3H289.8V345.5H291V321.3H292.1V323.4H293.3V332.5H294.4V327.6H295.6V334.1H296.7V334.3H297.9V339.1H299V318.9H300.2V334.3H301.3V310H302.5V328.9H303.7V328.7H304.8V337.4H306V342.7H307.1V348.8H308.3V340.3H309.4V342.1H310.6V343.7H311.7V332H312.9V333.7H314V327.6H315.2V335.2H316.3V316.2H317.5V331H318.6V327.2H319.8V356.9H321V344.3H322.1V357.9H323.3V356.7H324.4" fill="none" stroke="#000" stroke-opacity="0.035" stroke-width="0.8"/><path d="M49.9 375H51.1H52.2V375.1H53.4V375H54.5V375.1H55.7H56.8H58V375H59.2V374.7H60.3V374.6H61.5V374.5H62.6V374.4H63.8V374.6H64.9V374.5H66.1V374.8H67.2V374.9H68.4V374.4H69.5V374.3H70.7V374.6H71.8H73V374.5H74.1V374.6H75.3V374.4H76.5V374.1H77.6V373.7H78.8V374H79.9V373.8H81.1V374.4H82.2H83.4V373.9H84.5V373.4H85.7V374.3H86.8V373.8H88V374.1H89.1V373.1H90.3V371.7H91.4V372.5H92.6V372.6H93.8V372.7H94.9V373.3H96.1V372.4H97.2V373.7H98.4V374H99.5V373.8H100.7V371.9H101.8V371.8H103V372.8H104.1V373.7H105.3V373H106.4V373.2H107.6V373.5H108.7V374.3H109.9V374.4H111.1V374.1H112.2V373.5H113.4V373.6H114.5V372.4H115.7V372.9H116.8V373.5H118V373.2H119.1V373.6H120.3V374.1H121.4V374.8H122.6V374.3H123.7V374.2H124.9V373.4H126V374.2H127.2V373.4H128.4V374.1H129.5V372.5H130.7V372.4H131.8V371.9H133V373H134.1V372.3H135.3V371.3H136.4V370.9H137.6V371.5H138.7V371.1H139.9V371.4H141V371H142.2V369.9H143.3V364.8H144.5V368H145.7V369.7H146.8V370.6H148V370.9H149.1V371.6H150.3V369.8H151.4V371.1H152.6V368.8H153.7V368.4H154.9V370.4H156V368.5H157.2V371.8H158.3V371.1H159.5H160.6V368.1H161.8V369.4H163V367.9H164.1V367.3H165.3V368H166.4V365.5H167.6V368.2H168.7V370.2H169.9V365.8H171H172.2V365.2H173.3V361.9H174.5V363.3H175.6V362.4H176.8V361.3H177.9V357.9H179.1V351.4H180.3V358.8H181.4V351.6H182.6V348.1H183.7V346H184.9V341H186V359.6H187.2V362H188.3V361.5H189.5V362.5H190.6V357.2H191.8V351.8H192.9V346.7H194.1V321.6H195.2V333.1H196.4V343.1H197.6V340.7H198.7V334.2H199.9V328.9H201V320.7H202.2V329.5H203.3V310H204.5V319.5H205.6V310H206.8H207.9H209.1V322.6H210.2V322H211.4V332.5H212.5V335.3H213.7V346H214.9V342.4H216V320.6H217.2V335.5H218.3V342.8H219.5V322.7H220.6V330.6H221.8V310H222.9V323.8H224.1V314.7H225.2V310H226.4H227.5V318.6H228.7V321.3H229.8V331.4H231V310.2H232.2V329.2H233.3V313.1H234.5V333.6H235.6V343.4H236.8V343.1H237.9V330.3H239.1V344.4H240.2V353.5H241.4V351H242.5V355.6H243.7V355.4H244.8V361.3H246V355.1H247.1V359.2H248.3V359.6H249.5V359.8H250.6V346H251.8V360.7H252.9V352.5H254.1V360.6H255.2V367.1H256.4V355.8H257.5V363.1H258.7V358.3H259.8V360.2H261V354H262.1V352H263.3V360H264.4V355.9H265.6V353.1H266.8V362.5H267.9V369.1H269.1V363.5H270.2V365.3H271.4V359.1H272.5V364.3H273.7V366.6H274.8V365.2H276V365H277.1V363H278.3V367.6H279.4V363.7H280.6V365.9H281.7V364.2H282.9V353.5H284V363.7H285.2V363.5H286.4V361.4H287.5V363.1H288.7V355.9H289.8V359.9H291V363.8H292.1V364.8H293.3V359.9H294.4V362H295.6V362.6H296.7V358.9H297.9V356H299V361.1H300.2V361.2H301.3V363H302.5V361.2H303.7V359.9H304.8V355.5H306V360.1H307.1V358.5H308.3V364.4H309.4V360.2H310.6V366.7H311.7V364.1H312.9V362.3H314V363.6H315.2V358.5H316.3V357.4H317.5V357.8H318.6V354.7H319.8V358.9H321V363.9H322.1V358.4H323.3V359.4H324.4" fill="none" stroke="#000" stroke-opacity="0.035" stroke-width="0.8"/><path d="M49.9 373.8H51.1V373.9H52.2V374.2H53.4V374.4H54.5V374.1H55.7V374.2H56.8V374.7H58V374.3H59.2V374.2H60.3V373.9H61.5V374H62.6V374.7H63.8V374.4H64.9V374.6H66.1H67.2V374.2H68.4V374.4H69.5V374.2H70.7V374.8H71.8V374.6H73V374.8H74.1V374.9H75.3V374.6H76.5H77.6V374.7H78.8V374.6H79.9V374.9H81.1V374.7H82.2V374.6H83.4V374.7H84.5V374.8H85.7V374.5H86.8H88V374.8H89.1V375H90.3V374.8H91.4H92.6V374.5H93.8V374.3H94.9V374H96.1V374.4H97.2V373.6H98.4V373.7H99.5V374.4H100.7V374.2H101.8V374.5H103V374.1H104.1V374.2H105.3H106.4V373.9H107.6V374.2H108.7V374.4H109.9V373.6H111.1V372.4H112.2V371.9H113.4V372H114.5V372.4H115.7V372.1H116.8V371.5H118V369.8H119.1V372.1H120.3V371.1H121.4V371.8H122.6V371.5H123.7H124.9V372.5H126V371.2H127.2V372.7H128.4V371.6H129.5V369.4H130.7V369H131.8V369.6H133V369.4H134.1V368.1H135.3H136.4V369.3H137.6V368H138.7V364.6H139.9V361.4H141V361.1H142.2V350H143.3V362.9H144.5V360.6H145.7V357.7H146.8V360.3H148V361.9H149.1V363.4H150.3V365.5H151.4H152.6V366.6H153.7V360H154.9V364.5H156V361H157.2V368.5H158.3V363.4H159.5V363.9H160.6V361.6H161.8V368.4H163V369.1H164.1V368.4H165.3V368.5H166.4V365H167.6V364.3H168.7V366.1H169.9V367H171V363.4H172.2V359H173.3V363.7H174.5V361.5H175.6V361.8H176.8V367.2H177.9V362.3H179.1V368.2H180.3V366.5H181.4V363H182.6V365.7H183.7V353.8H184.9V355.6H186V352.1H187.2V357H188.3V349.2H189.5V351.5H190.6V353.1H191.8V350.1H192.9V326.6H194.1V342.7H195.2V348.4H196.4V349.1H197.6V347.9H198.7V351.3H199.9V345.6H201V349.5H202.2V356.3H203.3V359.2H204.5V353.2H205.6V353.4H206.8V353.1H207.9V362.5H209.1V357H210.2V348.2H211.4V348.3H212.5H213.7V351.3H214.9V351.5H216V332.4H217.2V327.9H218.3V326.3H219.5V324.7H220.6V318.8H221.8V310H222.9V338.1H224.1V342.4H225.2V345.1H226.4V346.6H227.5V335.3H228.7V352.8H229.8V351.2H231V360.6H232.2V344.1H233.3V353H234.5V352.2H235.6V352.7H236.8V347.5H237.9V363.2H239.1V357.8H240.2V356.5H241.4V363.1H242.5V367.2H243.7V366.6H244.8V366.7H246V366.2H247.1V367.4H248.3V363.5H249.5V361.3H250.6V361.5H251.8V360.3H252.9V356.4H254.1V355.5H255.2V346.9H256.4V352.6H257.5V346.4H258.7V341H259.8V349.7H261V364.2H262.1V355.5H263.3V351.1H264.4V344.7H265.6V348.5H266.8V350.1H267.9V348.6H269.1V345.7H270.2V354.7H271.4V354.5H272.5V349H273.7V333.7H274.8V341.1H276V347.5H277.1V348.5H278.3V342.1H279.4V328.6H280.6V334.3H281.7V351.3H282.9V336.7H284V353.3H285.2V343.3H286.4V319H287.5V344.4H288.7V334.3H289.8V335.9H291V326.8H292.1V329.1H293.3V332.1H294.4V331.9H295.6V310.3H296.7V317.2H297.9V322.9H299V326.4H300.2V310H301.3V317.4H302.5V310H303.7V318.8H304.8V341.3H306V323.8H307.1V346.1H308.3V349.3H309.4V355.7H310.6V359.1H311.7V361H312.9V359.6H314V357.8H315.2V357.7H316.3V354.6H317.5V349H318.6V357.9H319.8V361.3H321V354.1H322.1V358.4H323.3V351.9H324.4" fill="none" stroke="#000" stroke-opacity="0.035" stroke-width="0.8"/>
<path d="M543.8 305.7H544.8H545.9V295.5H546.9V285.2H547.9V276.6H548.9V281.8H550V273.2H551V276.7H552V277.2H553.1V281.4H554.1V291H555.1V291.2H556.1V292.5H557.2V292.7H558.2V297.5H559.2V300.6H560.3V301.7H561.3V306.3H562.3V306.6H563.4V308.6H564.4V317.6H565.4V315.5H566.5V318H567.5V316H568.5V324H569.5V329.2H570.6V329.7H571.6V329.3H572.6V333H573.7V335.2H574.7V336.5H575.7V337.1H576.8V340.2H577.8V339.9H578.8V343.6H579.8V342H580.9V344H581.9V345.3H582.9V346.7H584V348.7H585V350H586V349.7H587H588.1V352H589.1V352.6H590.1V353.4H591.2V354.7H592.2V356.8H593.2V355.2H594.3V356.7H595.3V356.9H596.3V358.6H597.4V358H598.4V359.9H599.4V360.1H600.4V360.6H601.5V361.4H602.5H603.5V360.3H604.6V359.6H605.6V357.4H606.6H607.6V358.5H608.7V356.4H609.7V356.6H610.7V356.2H611.8V354.3H612.8V354.4H613.8V353H614.9H615.9V352.3H616.9V349.7H618V347.7H619V345.8H620V346.4H621V343.9H622.1V339.9H623.1V342.1H624.1V338H625.2V337.5H626.2V335.3H627.2V337.3H628.2V335.1H629.3V330.4H630.3V331.2H631.3V331.5H632.4V330.1H633.4V330.7H634.4V333.8H635.5V335.9H636.5V335.2H637.5V332.4H638.5V339.2H639.6V337.9H640.6V334.9H641.6V338.4H642.7V338.7H643.7V337H644.7V339H645.8V337.1H646.8V340.1H647.8V346.4H648.9V347.6H649.9V346.4H650.9V350.3H651.9V350.7H653V352.9H654V352.6H655V353.8H656.1V353.2H657.1V353.1H658.1V354.9H659.2V354.7H660.2V355.8H661.2V355H662.2V356.7H663.3V357.1H664.3V358H665.3V358.4H666.4V358.7H667.4V357.2H668.4V359.7H669.5V361.7H670.5V359.6H671.5V372.4H670.5V372.6H669.5V372.5H668.4V372H667.4V372.1H666.4V371.9H665.3H664.3V371.6H663.3V371.7H662.2V371.6H661.2V371.4H660.2V371.5H659.2V371.2H658.1V371.3H657.1V371.1H656.1V370.8H655H654V370.3H653H651.9V370.1H650.9V369.8H649.9V369.6H648.9V369.4H647.8V369.6H646.8V369.8H645.8V369.5H644.7V369.1H643.7V368.9H642.7V368.5H641.6V368.8H640.6V368.7H639.6V368.4H638.5V368.3H637.5V368.7H636.5V368.9H635.5V367.7H634.4V367.5H633.4V367.3H632.4V367.1H631.3V368.1H630.3V367.7H629.3V368.1H628.2V368.4H627.2V369.2H626.2V368.8H625.2V369.6H624.1H623.1V370H622.1V370.1H621V370.3H620V370.4H619V370.6H618V370.7H616.9V371.4H615.9V371.1H614.9V371.2H613.8V371.6H612.8H611.8V371.5H610.7V371.7H609.7V371.9H608.7H607.6V372H606.6V372.2H605.6V372H604.6V371.9H603.5V372.1H602.5V371.8H601.5V371.7H600.4V371.4H599.4H598.4V371.2H597.4V371.1H596.3V370.4H595.3V370H594.3V369.9H593.2H592.2V370.1H591.2V369.4H590.1V369.3H589.1H588.1V369.2H587V368.7H586V367.6H585V368.3H584V367.7H582.9V367.2H581.9V367.7H580.9V366.7H579.8V366.9H578.8V367.2H577.8V365.6H576.8V365.2H575.7V365.1H574.7V364.3H573.7V364.2H572.6V363.8H571.6V362.1H570.6V362.7H569.5V361.8H568.5V360.7H567.5V361.2H566.5V360.7H565.4V359.1H564.4V359H563.4V357.1H562.3V355.7H561.3V355.4H560.3V356.2H559.2V353.7H558.2H557.2V353.9H556.1V351.6H555.1V352.6H554.1V350.6H553.1V348H552V348.4H551V347.9H550V349.6H548.9V347.8H547.9V348.6H546.9V348.1H545.9V350.2H544.8V351.2H543.8Z" fill="#000" fill-opacity="0.03"/><path d="M543.8 313.6H544.8V310.4H545.9V307.1H546.9V299.7H547.9V298.1H548.9V294.1H550V294.7H551V287.7H552V291.4H553.1V295.9H554.1V299.5H555.1V298.2H556.1V300.7H557.2V301.8H558.2V308.1H559.2V311.9H560.3V312.2H561.3V316.4H562.3V315.5H563.4V321.2H564.4V325.3H565.4V325.1H566.5V329.9H567.5V330.6H568.5V334.1H569.5V334H570.6V335.4H571.6V336.5H572.6V339.8H573.7V340.1H574.7V340.8H575.7V341.9H576.8V343.7H577.8V344.4H578.8V347.6H579.8V349H580.9V349.4H581.9V349.3H582.9V351.1H584V352.4H585V352.1H586V352.8H587V354.3H588.1V354.8H589.1V355H590.1V356.3H591.2V356.5H592.2V358.3H593.2V358H594.3V359.4H595.3V360.4H596.3V359.9H597.4V360.9H598.4V361.8H599.4V362.1H600.4V362.7H601.5V363.3H602.5V363.1H603.5V362.5H604.6V362.3H605.6V361.4H606.6V361.6H607.6V360.2H608.7V360.4H609.7V360H610.7V359.2H611.8V358.2H612.8V357.4H613.8V355.7H614.9V356.5H615.9V355.5H616.9V353.1H618V353.4H619V351.5H620V351H621V350.2H622.1V349.4H623.1V347.8H624.1V346.2H625.2V346.4H626.2V342.4H627.2V344.7H628.2V340.5H629.3V341.3H630.3V338.8H631.3V338.6H632.4V338.3H633.4V337.1H634.4V338.4H635.5V341.1H636.5V344.7H637.5V341.2H638.5V342.1H639.6V344.9H640.6V345.1H641.6V345.4H642.7V345.1H643.7V344.2H644.7V345.2H645.8V348.2H646.8V348.5H647.8V350.2H648.9V351.2H649.9V353.3H650.9V352.9H651.9V353.9H653V356.3H654V356.2H655V357.1H656.1V357.4H657.1V357H658.1V358.6H659.2V358.2H660.2V359.2H661.2V359.1H662.2V360.3H663.3V360.4H664.3V360.1H665.3V361.8H666.4H667.4V361.7H668.4V362.3H669.5V363.2H670.5V362.5H671.5V371.9H670.5V371.8H669.5V371.4H668.4V371.5H667.4V371.1H666.4V371.3H665.3V371.2H664.3V371.1H663.3V370.9H662.2V370.7H661.2H660.2V370.8H659.2V370.4H658.1H657.1V370H656.1V369.9H655V369.7H654V369.4H653V369.1H651.9V369.2H650.9V368.9H649.9V368.6H648.9V368.2H647.8V368H646.8V368.1H645.8V367.2H644.7V367.4H643.7V367.5H642.7V366.9H641.6V367.1H640.6V366.9H639.6V366.8H638.5V366.6H637.5V366.9H636.5V367.3H635.5V365.9H634.4V366.4H633.4V365.3H632.4V365.4H631.3V365.8H630.3V365.2H629.3V366.4H628.2V367.1H627.2V367.7H626.2V367.8H625.2V368.1H624.1V368.4H623.1V368.8H622.1V369.1H621V369.5H620V369.4H619V369.1H618V369.6H616.9V370.1H615.9V370.3H614.9V370.4H613.8V370.5H612.8V370.7H611.8V370.6H610.7V370.8H609.7V371H608.7V371.3H607.6V371.2H606.6H605.6V371.4H604.6H603.5V371.5H602.5V371H601.5V370.8H600.4V370.7H599.4H598.4V370.5H597.4V370.4H596.3V369.5H595.3H594.3V369.2H593.2V368.8H592.2V368.6H591.2V368.3H590.1V368.1H589.1V367.8H588.1V368H587V367.7H586V366.8H585H584V366.6H582.9V366.3H581.9V365.7H580.9V365.4H579.8H578.8V365.5H577.8V363.9H576.8V363.8H575.7V363.1H574.7V362.7H573.7V361.9H572.6V361.7H571.6V361.3H570.6V359.3H569.5H568.5V358.9H567.5V359H566.5V358H565.4V355.6H564.4V355.1H563.4V353.4H562.3V353.7H561.3V351.3H560.3V351.7H559.2V350.8H558.2V350H557.2V349.6H556.1V347.6H555.1V346.8H554.1V345.7H553.1V344.6H552V344.4H551V343.8H550V345.9H548.9V343.9H547.9V344.7H546.9V345.5H545.9V346.4H544.8V347.2H543.8Z" fill="#000" fill-opacity="0.035"/><path d="M543.8 319.8H544.8V317.7H545.9V313.5H546.9V312.7H547.9V307.9H548.9V307.3H550V306H551V302.3H552V306.1H553.1V306.6H554.1V306.4H555.1V308.6H556.1V308.9H557.2V312.2H558.2V315.5H559.2V319.3H560.3V320.9H561.3V324.1H562.3V326.4H563.4V328.2H564.4V330.6H565.4V331.3H566.5V335.5H567.5V337.3H568.5V337.4H569.5V338.2H570.6V340.8H571.6V341.6H572.6V343.4H573.7V344.3H574.7V345.3H575.7V346.3H576.8V347.8H577.8V349.4H578.8V350.1H579.8V352H580.9V352.5H581.9V352.6H582.9V354.4H584V355.2H585V356H586V356.5H587V356.6H588.1V357.5H589.1V357.6H590.1V358.7H591.2V359.1H592.2V361.1H593.2V360.8H594.3V361.7H595.3V362.1H596.3V362H597.4V362.6H598.4V362.9H599.4V363.6H600.4V364.2H601.5V364.5H602.5V364.8H603.5V364.5H604.6V364.3H605.6V363.7H606.6V363.9H607.6V363.1H608.7V362.6H609.7V362H610.7V361.5H611.8V360.6H612.8V360.2H613.8V359.7H614.9V359.6H615.9V358.3H616.9V356.3H618V356.1H619V356.4H620V353.9H621V354.3H622.1V353.7H623.1V352.9H624.1V349.9H625.2V351.5H626.2V348.1H627.2V349H628.2V345.7H629.3V345.1H630.3V345H631.3V343.1H632.4V342.7H633.4V345.1H634.4V345.9H635.5V346.1H636.5V347.7H637.5V347.1H638.5V346.8H639.6V349.5H640.6V350.6H641.6V351H642.7V349.8H643.7V351H644.7V350.6H645.8V352.4H646.8V354H647.8V354.3H648.9V354.6H649.9V356.5H650.9V356.4H651.9V357.2H653V358.8H654V358.4H655V359.3H656.1V359.9H657.1V359.7H658.1V360.5H659.2V361.5H660.2V361.8H661.2V361.9H662.2V362.8H663.3V362.4H664.3V362.6H665.3V363.5H666.4V364.1H667.4H668.4V364H669.5V364.7H670.5V364.6H671.5V370.9H670.5V371.1H669.5V370.7H668.4V370.6H667.4V370.3H666.4V370.5H665.3V370.3H664.3V370.2H663.3H662.2V370H661.2V369.8H660.2V369.6H659.2V369.3H658.1V369.1H657.1V368.6H656.1V368.3H655V368.4H654H653V367.9H651.9V367.7H650.9H649.9V367.2H648.9H647.8V366.7H646.8V366.6H645.8V366.2H644.7V365.9H643.7H642.7V366H641.6V365.6H640.6V365.4H639.6V365.5H638.5V365H637.5V364.8H636.5V365.1H635.5V364.1H634.4V364H633.4V363.7H632.4V363H631.3V363.6H630.3V363.8H629.3V364.6H628.2V365.4H627.2V366.3H626.2H625.2V366.8H624.1V367.2H623.1V367.4H622.1V368H621V367.9H620V368.1H619V368.3H618V368.6H616.9V368.5H615.9V369.2H614.9V369.3H613.8V369.7H612.8V370H611.8V369.9H610.7V370.1H609.7V370.3H608.7V370.6H607.6V370.5H606.6V370.6H605.6V370.8H604.6V370.7H603.5V370.9H602.5V370.3H601.5H600.4V370H599.4H598.4V369.5H597.4V369.1H596.3V368.7H595.3V368.4H594.3V368.3H593.2V367.9H592.2V367.5H591.2V367.4H590.1V367.3H589.1V366.5H588.1V366.7H587V366.4H586V365.6H585V365.7H584V365.4H582.9V364.4H581.9H580.9V363.5H579.8V363.2H578.8V363.1H577.8V362.1H576.8V362H575.7V361.5H574.7V360.9H573.7V359.5H572.6V359.2H571.6V359H570.6V357.1H569.5V356.7H568.5V356.9H567.5V355.6H566.5V354.2H565.4V353.1H564.4V352.9H563.4V351.4H562.3V350.5H561.3V348.5H560.3V348.1H559.2V347.1H558.2V345.2H557.2V344.4H556.1V343.4H555.1V344.2H554.1V341H553.1V341.7H552V339.9H551V339.7H550V340.9H548.9V340.6H547.9V341.4H546.9V342.5H545.9V342.7H544.8V343.7H543.8Z" fill="#000" fill-opacity="0.04"/><path d="M543.8 323.3H544.8V323.2H545.9V320H546.9V317.6H547.9V314.6H548.9V313.5H550V312.3H551V311.8H552V312.6H553.1V313.9H554.1V313.4H555.1V315.2H556.1V317H557.2V319.8H558.2V320H559.2V324.3H560.3V325.2H561.3V328.8H562.3V331.6H563.4V332.3H564.4V334.6H565.4V337.1H566.5V340.1H567.5V341.7H568.5V341.1H569.5V342.4H570.6V345H571.6V345.3H572.6V347.2H573.7V347.9H574.7V349.2H575.7V349.9H576.8V350.8H577.8V351.7H578.8V352.5H579.8V354.2H580.9V354.8H581.9V355.5H582.9V356.7H584V357.4H585V358.2H586V358.1H587V359.2H588.1V359.3H589.1V359.7H590.1V360.4H591.2V361.2H592.2V362.2H593.2V362.3H594.3V362.8H595.3V363.5H596.3V363.6H597.4V364H598.4V364.3H599.4V364.8H600.4V365.7H601.5H602.5V366.1H603.5V366H604.6V365.8H605.6V365.3H606.6V365.1H607.6V364.8H608.7V364.5H609.7V364.1H610.7V363.2H611.8V362.7H612.8V361.8H613.8V362H614.9V361.4H615.9V360.5H616.9V359.2H618V359H619V358.6H620V358.3H621V357.4H622.1V356.3H623.1H624.1V354.9H625.2V354.6H626.2V351.7H627.2V351.9H628.2V349.4H629.3V350.1H630.3V349.1H631.3V347.8H632.4V347.2H633.4V349.8H634.4V350.1H635.5V349.7H636.5V351H637.5V352.3H638.5V352.4H639.6V352.6H640.6V353.8H641.6V354.5H642.7V354.1H643.7V355.2H644.7V355.6H645.8V355.3H646.8V357H647.8V357.3H648.9V357.7H649.9V358.7H650.9H651.9V359.7H653V360.3H654V360.6H655V361.1H656.1V361.7H657.1V362.4H658.1V362H659.2V362.7H660.2V363.3H661.2V363.8H662.2V363.7H663.3V364.4H664.3V364.5H665.3V364.9H666.4V365.4H667.4V365.3H668.4V365.5H669.5V365.8H670.5V366.3H671.5V370.1H670.5H669.5V369.8H668.4H667.4V369.5H666.4V369.6H665.3V369.5H664.3V369.3H663.3V369.4H662.2V369.1H661.2V368.8H660.2V369H659.2V368.6H658.1V368.1H657.1V367.7H656.1V367.3H655V367.2H654V366.9H653V366.7H651.9V366.6H650.9V366.4H649.9V365.9H648.9V366.1H647.8V365.4H646.8V365.3H645.8V364.7H644.7V364.9H643.7V364.5H642.7H641.6V364.3H640.6V363.9H639.6V364.1H638.5V363.3H637.5V363.4H636.5V363.1H635.5V362.2H634.4V361.9H633.4V362.1H632.4V361H631.3V362H630.3V362.5H629.3V363.1H628.2V363.9H627.2V364.6H626.2V365.1H625.2V365.3H624.1V365.7H623.1V366H622.1V366.9H621V366.5H620V366.8H619V367.2H618V367.5H616.9V367.7H615.9V368H614.9V368.5H613.8V368.7H612.8V369.2H611.8V369H610.7V369.1H609.7V369.4H608.7V369.7H607.6V369.8H606.6V370H605.6H604.6H603.5V370.2H602.5V369.8H601.5V369.4H600.4H599.4V369.1H598.4V368.8H597.4V368.5H596.3V367.9H595.3V367.6H594.3V367.4H593.2V367.2H592.2V366.5H591.2V366.4H590.1V366.2H589.1V365.6H588.1V365.1H587H586V364.8H585V364.1H584V364H582.9V363.4H581.9V363.1H580.9V362.4H579.8V361.8H578.8V361.2H577.8V360.5H576.8V360H575.7V359.8H574.7V359.1H573.7V358.5H572.6V357.9H571.6V356.5H570.6V355.3H569.5V354.9H568.5V354.1H567.5V353.2H566.5V351.6H565.4V350.4H564.4V349.8H563.4V348.2H562.3V346.2H561.3V345.7H560.3V345.1H559.2V342.4H558.2V342.3H557.2V340.8H556.1V339.6H555.1V339.4H554.1V337.6H553.1V337.2H552V335.6H551V334.6H550V337.6H548.9V336.3H547.9V337.5H546.9V338.8H545.9V339.8H544.8V340.8H543.8Z" fill="#000" fill-opacity="0.04"/><path d="M543.8 328.8H544.8V327.1H545.9V324.1H546.9V322.4H547.9V320.8H548.9V319.6H550V319.2H551V318.3H552V318.9H553.1V321.1H554.1V319.9H555.1V320.9H556.1V323.8H557.2V324.1H558.2V326.3H559.2V329H560.3V329.8H561.3V332.3H562.3V335.1H563.4V337.2H564.4V338.8H565.4V340.9H566.5V343.3H567.5V343.8H568.5V344.9H569.5V346.7H570.6V347.4H571.6V348.7H572.6V350.3H573.7V351.2H574.7V351.7H575.7V352.5H576.8V353.3H577.8V354.3H578.8V355.1H579.8V356.2H580.9V356.3H581.9V357.4H582.9V358.7H584V359H585V359.6H586V359.5H587V360.9H588.1V361H589.1V361.4H590.1V361.7H591.2V362.7H592.2V363.3H593.2V363.6H594.3V364.1H595.3V364.6H596.3V364.9H597.4V365.3H598.4V365.5H599.4V365.9H600.4V366.6H601.5V366.9H602.5V367.2H603.5H604.6H605.6V366.6H606.6V366.3H607.6H608.7V365.9H609.7V365.5H610.7V364.8H611.8V364.1H612.8V363.9H613.8V363.5H614.9V362.9H615.9V362.2H616.9V361.2H618H619V360.2H620V359.9H621V359.7H622.1V358.8H623.1V358.6H624.1V358.1H625.2V356.9H626.2V355.5H627.2V355.1H628.2V354.3H629.3V353.6H630.3V352.5H631.3V351.6H632.4H633.4V352.6H634.4V354H635.5H636.5V354.5H637.5V355.7H638.5V355.3H639.6V355.7H640.6V356.5H641.6V357.2H642.7V357.7H643.7V358.1H644.7H645.8V358.4H646.8V359.3H647.8H648.9V359.9H649.9V360.4H650.9V360.9H651.9H653V362H654V362.6H655V362.7H656.1V363.1H657.1V364H658.1V363.9H659.2V364.4H660.2V364.9H661.2V365.4H662.2V365H663.3V365.6H664.3V365.9H665.3V366.3H666.4V366.4H667.4V366.6H668.4V366.7H669.5V366.8H670.5V367.2H671.5V369.4H670.5H669.5V369H668.4V369.2H667.4V368.9H666.4V368.7H665.3V368.9H664.3V368.4H663.3V368.1H662.2V368H661.2V367.9H660.2H659.2V367.6H658.1V366.9H657.1V366.7H656.1V366.3H655H654V365.8H653V365.2H651.9V365H650.9V364.8H649.9V364.5H648.9H647.8V364.2H646.8V363.8H645.8V363H644.7V363.3H643.7V362.7H642.7V362.6H641.6V362.5H640.6V362.2H639.6V362H638.5V361.6H637.5V360.8H636.5H635.5V360.4H634.4V359.9H633.4H632.4V359.2H631.3V360.2H630.3V360.6H629.3V361.3H628.2V362.1H627.2V362.3H626.2V363H625.2V363.3H624.1V364.3H623.1V364.6H622.1V365H621V364.8H620V365.5H619V365.8H618V366.3H616.9V366.7H615.9V366.9H614.9V367.7H613.8V367.8H612.8V368.1H611.8V368.2H610.7V368.4H609.7V368.6H608.7V369H607.6V369.2H606.6V369.1H605.6V369.2H604.6V369.5H603.5V369.4H602.5V369.1H601.5V368.8H600.4V368.6H599.4V368.3H598.4V368H597.4V367.4H596.3V367.2H595.3V366.8H594.3V366.4H593.2H592.2V365.6H591.2V365.3H590.1V364.8H589.1V364.4H588.1V364.1H587H586V363.5H585V363.2H584V362.6H582.9V362.2H581.9V361.7H580.9V360.9H579.8V359.9H578.8V359.4H577.8V358.4H576.8V358.6H575.7V357.9H574.7V357.4H573.7V356.6H572.6V355.6H571.6V354.3H570.6V353H569.5V352.6H568.5V351.7H567.5V351H566.5V349.2H565.4V347.7H564.4V346.6H563.4V344.5H562.3V343.3H561.3V341.8H560.3V341.3H559.2V338.4H558.2V337.8H557.2V337.2H556.1V335.5H555.1V335.6H554.1V333.9H553.1V331.7H552V330.8H551V330.7H550V332.8H548.9V332.9H547.9V334.4H546.9V336.5H545.9V336.9H544.8V338H543.8Z" fill="#000" fill-opacity="0.04"/>
<path d="M543.8 333.7H544.8V327.7H545.9V300.5H546.9V320.2H547.9V313.4H548.9V310.8H550V301.2H551V317.9H552V288.6H553.1V314.1H554.1V298.5H555.1V303.9H556.1V318.9H557.2V318.2H558.2V331.7H559.2V319.3H560.3V330.8H561.3V341.6H562.3V341.2H563.4V338.7H564.4V345.4H565.4V343H566.5V341.5H567.5V342.7H568.5V352.6H569.5V353H570.6V356.9H571.6V354H572.6V363.2H573.7V358.1H574.7V361.5H575.7V357.5H576.8V358.7H577.8V359.5H578.8V359.9H579.8V363.6H580.9V363.4H581.9V362.9H582.9V365.3H584V363.9H585V364H586V359.5H587V364.1H588.1V366.4H589.1V364.2H590.1V365.2H591.2V363.9H592.2V365.1H593.2V364.3H594.3V364.7H595.3V367.7H596.3V363.6H597.4H598.4V365.2H599.4V364.3H600.4V366.1H601.5V365.9H602.5V365.3H603.5V366.7H604.6V368.3H605.6V365.5H606.6V369.5H607.6V368.6H608.7V362.6H609.7V364.3H610.7V363.7H611.8V366H612.8V367.7H613.8V366.4H614.9V365.2H615.9V364H616.9V365.2H618V361.6H619V362.6H620V360.3H621V360.4H622.1V361.8H623.1V358.1H624.1V361.8H625.2V358.1H626.2V355.8H627.2V357.3H628.2V347.5H629.3V352.6H630.3V346.1H631.3V342.4H632.4V341.8H633.4V343.9H634.4V337.8H635.5V335.3H636.5V327.6H637.5V341.2H638.5V334.6H639.6V347.4H640.6V356.1H641.6V357H642.7V361.7H643.7V361.4H644.7V364.8H645.8V365.9H646.8V362.6H647.8V361.7H648.9V365.4H649.9V368.1H650.9V366.9H651.9V368.5H653V367.5H654V367.1H655V366.6H656.1V362.7H657.1V365.5H658.1V365.2H659.2V366.4H660.2V365.8H661.2V366.1H662.2V365.5H663.3V362.9H664.3V360.6H665.3V362.2H666.4V365.7H667.4V363.4H668.4V366.1H669.5V367.5H670.5V367.7H671.5" fill="none" stroke="#000" stroke-opacity="0.05" stroke-width="0.8"/><path d="M543.8 321.5H544.8V313.6H545.9V314.9H546.9V316.4H547.9V318.3H548.9V315H550V320.5H551V317.5H552V320.6H553.1V320.3H554.1V317.5H555.1V336.5H556.1V336.7H557.2V334.4H558.2V330.3H559.2V335.6H560.3V341.8H561.3V340.7H562.3V347.2H563.4V350.4H564.4V346.1H565.4V345.4H566.5V349.4H567.5V360.2H568.5V358.2H569.5V360.2H570.6V360.8H571.6V358.2H572.6V363.1H573.7V358.2H574.7V359.8H575.7V358.8H576.8V361.5H577.8V356.2H578.8V357.9H579.8V363.1H580.9V365.4H581.9V366.9H582.9V368H584V370H585V368.6H586V369.4H587V370H588.1V365.3H589.1V368.4H590.1V367.7H591.2V365.1H592.2V365.5H593.2V368.1H594.3V367.1H595.3V367.5H596.3V369.2H597.4V368.6H598.4V367.4H599.4V368.4H600.4V369.5H601.5V370.7H602.5V371.7H603.5V369.8H604.6V369.5H605.6V369.1H606.6V370.7H607.6V369.4H608.7V367.9H609.7V368.5H610.7V366.8H611.8V370.1H612.8V368.7H613.8H614.9V365.8H615.9V368.5H616.9V367.9H618V369.4H619V369.7H620V370.9H621V369.5H622.1V367.4H623.1V368H624.1V368.1H625.2V366.5H626.2V367.8H627.2V362.5H628.2V362.9H629.3V360.5H630.3V362.6H631.3V364.9H632.4V361.3H633.4V361.1H634.4V359.8H635.5V363.1H636.5V364.9H637.5V365H638.5V365.9H639.6V356.2H640.6V358.3H641.6V361.9H642.7H643.7V363.3H644.7V365.7H645.8V366.3H646.8V366.2H647.8V367H648.9V369.9H649.9V371.2H650.9V368.8H651.9V366.6H653V364.5H654V365.7H655V365.3H656.1V364H657.1V360.6H658.1V361H659.2V358.1H660.2V359.5H661.2V362.2H662.2V363.7H663.3V364.9H664.3V363.2H665.3V362H666.4V364.1H667.4V363.5H668.4V364.4H669.5V366.3H670.5V368H671.5" fill="none" stroke="#000" stroke-opacity="0.05" stroke-width="0.8"/><path d="M543.8 335.1H544.8V329.1H545.9V332.7H546.9V329.9H547.9V321H548.9V315.2H550V327H551V325.4H552V338.5H553.1V337.1H554.1V344.2H555.1V348.1H556.1V351.2H557.2V351.9H558.2V356.1H559.2V351.3H560.3V347.9H561.3V342.2H562.3V354.3H563.4V353H564.4V345.1H565.4V346.1H566.5V347.5H567.5V349.7H568.5V347.1H569.5V344.9H570.6V339.7H571.6V345H572.6V350.6H573.7V344.2H574.7V356.6H575.7V347H576.8V353.8H577.8V349.5H578.8V348H579.8V356.8H580.9V358.8H581.9V359.7H582.9V359.8H584V364.2H585V360H586V358.4H587V360.3H588.1V363.2H589.1H590.1V363.1H591.2V363.7H592.2V367.1H593.2V364.5H594.3V368H595.3V365.2H596.3V367.6H597.4V365.3H598.4V364H599.4V362.5H600.4V361H601.5V362.1H602.5V364.2H603.5V367.9H604.6V367.4H605.6V368.2H606.6V368H607.6V369.2H608.7V366.9H609.7V369.6H610.7V364.1H611.8V366.5H612.8V365.9H613.8V365.8H614.9V367.5H615.9V366.9H616.9V364H618V364.7H619V363.2H620V362.2H621V364.7H622.1V361.4H623.1V366.4H624.1V363.7H625.2V365.9H626.2V366.8H627.2V368.4H628.2V369.3H629.3V369.1H630.3V369.4H631.3V365.2H632.4V367.5H633.4V370.3H634.4V366.2H635.5V366.5H636.5V366.1H637.5V367H638.5V366.3H639.6V366.2H640.6H641.6V365.2H642.7V360.4H643.7V365.2H644.7V364.5H645.8V361.4H646.8V365.2H647.8V365H648.9V367.5H649.9V365.3H650.9V366.8H651.9V363.1H653V361.5H654V357.7H655V360.2H656.1V360.9H657.1V358.4H658.1V362.7H659.2V361.1H660.2V362.7H661.2V360.8H662.2V362.5H663.3V364.8H664.3V363.4H665.3V359.8H666.4V365.2H667.4V364.7H668.4V363.9H669.5V366.2H670.5V369.3H671.5" fill="none" stroke="#000" stroke-opacity="0.05" stroke-width="0.8"/><path d="M543.8 341.6H544.8V341.2H545.9V334.1H546.9V339.5H547.9V340.7H548.9V338.8H550V330.7H551V324.1H552V331.3H553.1V328H554.1V341.5H555.1V343.6H556.1V331H557.2V329.5H558.2V330.7H559.2V337.2H560.3V331.8H561.3V337.1H562.3V334.3H563.4V335.9H564.4V339.8H565.4V340.9H566.5V349H567.5V344.6H568.5V353.3H569.5V353.9H570.6V352H571.6V353.3H572.6V353.7H573.7V361.1H574.7V361.6H575.7V363.2H576.8V361.8H577.8V360.4H578.8V361.4H579.8V363.7H580.9V357.1H581.9V356.5H582.9V362.5H584V363.7H585V365H586V361.3H587V361.2H588.1V361.8H589.1V362.3H590.1V364.5H591.2H592.2V366.9H593.2V364.9H594.3V367.1H595.3V365.7H596.3V365.9H597.4V364.2H598.4V365.8H599.4V366.4H600.4V367.6H601.5V368.7H602.5V371.1H603.5V370.4H604.6V371.2H605.6V369.2H606.6V369.9H607.6V369.4H608.7V370.2H609.7V371.2H610.7V370.9H611.8V371.6H612.8V370.2H613.8V370.9H614.9V371.3H615.9V369.6H616.9V369.5H618V367.4H619V368.4H620V365H621V364.1H622.1V365.8H623.1V365.4H624.1V362H625.2V364.1H626.2V361.7H627.2V358.6H628.2V364.9H629.3V363.2H630.3V365.9H631.3V365.8H632.4V366H633.4V366.7H634.4V368.5H635.5V365.8H636.5V362.7H637.5V362.1H638.5V365.4H639.6V366H640.6V362.5H641.6V364.7H642.7V365.4H643.7V365H644.7V367H645.8V365.9H646.8V364.5H647.8V360.6H648.9V362H649.9V363.7H650.9V358.9H651.9V360.8H653V361.3H654V360.4H655V361.1H656.1V364.8H657.1V364.9H658.1V367.3H659.2V365.2H660.2V363.2H661.2V360.6H662.2V363H663.3V365.7H664.3V367.1H665.3V366.4H666.4V365.2H667.4V366.9H668.4V362.1H669.5V367.2H670.5V366.4H671.5" fill="none" stroke="#000" stroke-opacity="0.05" stroke-width="0.8"/><path d="M543.8 329.4H544.8V332.2H545.9V336.4H546.9V327.1H547.9V325.8H548.9V317H550V320.5H551V317.8H552V319.3H553.1V326.6H554.1V320.1H555.1V314.2H556.1V309H557.2V301.8H558.2V331.3H559.2V326.8H560.3V325H561.3V318.1H562.3V312.1H563.4V309.6H564.4V320.8H565.4V329.3H566.5V333.9H567.5V331.6H568.5V337.4H569.5V344.8H570.6V339.2H571.6V342.1H572.6V351.2H573.7V348.2H574.7V353.8H575.7V359H576.8V351.9H577.8V357.2H578.8V358.5H579.8V356.6H580.9V350.3H581.9V361H582.9V361.1H584V360.2H585V354.5H586V363.2H587V362H588.1V361.6H589.1V364H590.1V367.6H591.2V363.7H592.2V361.9H593.2V360.9H594.3V364.9H595.3V366.1H596.3V366.2H597.4V367.9H598.4V368H599.4V367.4H600.4V369.1H601.5V367.7H602.5V370.6H603.5V368.7H604.6V369.3H605.6V370.2H606.6V368.6H607.6V369.7H608.7V370.9H609.7V368.9H610.7V368.1H611.8V367.1H612.8V369.6H613.8V368.2H614.9V369.1H615.9V367.6H616.9V369.7H618V368.5H619V367.8H620V366.2H621V364.5H622.1V360H623.1V361.9H624.1V361.3H625.2V364.3H626.2V362.9H627.2V361.9H628.2V356.2H629.3V355.1H630.3V354.9H631.3V354.5H632.4V354.6H633.4V350H634.4V353.4H635.5V357.1H636.5V356.1H637.5V358.7H638.5V361H639.6V357.5H640.6V363.5H641.6V351.8H642.7V347.7H643.7V357.9H644.7V354.7H645.8V358.5H646.8V360.4H647.8V360.1H648.9V363.6H649.9V366.2H650.9V362.8H651.9V366.9H653V363.2H654V367.1H655V366.2H656.1H657.1V369.5H658.1V367.4H659.2H660.2V365.7H661.2V366.1H662.2V365.3H663.3V366.1H664.3V369.8H665.3V369.4H666.4V368.2H667.4V368.8H668.4V369.9H669.5V369.4H670.5V370.1H671.5" fill="none" stroke="#000" stroke-opacity="0.05" stroke-width="0.8"/><path d="M543.8 329.1H544.8V316.6H545.9V314.7H546.9V320.2H547.9V307.2H548.9V296H550V310.6H551V286.5H552V301.1H553.1V320.6H554.1V303.6H555.1V325H556.1V328H557.2V324.1H558.2V326.1H559.2V330.5H560.3V325.3H561.3V341H562.3V338.1H563.4V337.3H564.4V346.1H565.4V351.6H566.5V346H567.5V345.4H568.5V352.4H569.5V352.5H570.6V355.4H571.6V355.7H572.6V349.5H573.7V354.5H574.7V360.5H575.7V356.1H576.8V360.8H577.8V364.3H578.8V364.7H579.8V360.8H580.9H581.9V364.2H582.9V364H584V363.8H585H586V364.9H587V362H588.1V361.9H589.1V364.4H590.1V363.6H591.2V365H592.2V365.6H593.2V363.9H594.3V362.2H595.3V360.2H596.3V360.5H597.4V364.5H598.4V361.1H599.4V363.8H600.4V366.7H601.5V365.8H602.5V363.3H603.5V362.3H604.6V363H605.6V363.6H606.6V357.9H607.6V353.4H608.7V351.6H609.7V346.7H610.7V338.6H611.8V349.1H612.8V350.1H613.8V347.6H614.9V338.1H615.9V358H616.9V354.5H618V358.2H619V354.9H620V351.6H621V352.8H622.1V340.2H623.1V344.1H624.1V346.4H625.2V352.4H626.2V353.5H627.2V352H628.2V354.7H629.3V357.7H630.3V362.7H631.3V361.3H632.4V362.4H633.4V360.6H634.4V362H635.5V364.4H636.5V367.1H637.5V364.2H638.5H639.6V365H640.6V362.5H641.6V364H642.7V366.2H643.7V365.3H644.7V362.9H645.8V366.5H646.8V365.5H647.8V364.9H648.9V362.9H649.9V361.8H650.9V361.7H651.9H653V362.1H654V363.4H655V367.3H656.1V365.5H657.1V364.5H658.1V362.2H659.2V365.6H660.2V366.8H661.2V362.4H662.2V361.2H663.3V361.7H664.3V359.7H665.3V357.5H666.4V363H667.4V365H668.4V369.2H669.5V368.3H670.5V368.5H671.5" fill="none" stroke="#000" stroke-opacity="0.05" stroke-width="0.8"/><path d="M543.8 331.3H544.8V319.5H545.9V312H546.9V326H547.9V325.9H548.9V305.4H550V304.2H551V302.8H552V301H553.1V309.6H554.1V321.9H555.1V311.5H556.1V326.2H557.2V324.9H558.2V334H559.2V340.8H560.3V321H561.3V329.4H562.3V329.1H563.4V336.1H564.4V330.4H565.4V342.5H566.5V335.5H567.5V341H568.5V338.8H569.5V341.5H570.6V352.7H571.6V356.7H572.6V355.3H573.7V354.9H574.7V356.1H575.7V360.7H576.8V358.3H577.8V365.2H578.8V362.5H579.8V362H580.9V367.1H581.9V364.3H582.9V365.8H584V359.3H585V364.3H586V364.7H587V361H588.1V362.9H589.1V363.5H590.1V362.3H591.2V364.5H592.2V362.9H593.2V364H594.3V366.2H595.3V365.8H596.3V369.2H597.4V370H598.4V369.3H599.4V368.9H600.4V370.5H601.5V371.2H602.5V369.6H603.5V370.1H604.6V368.3H605.6V368.5H606.6V367.6H607.6V368.7H608.7V363.2H609.7V365.7H610.7V365.3H611.8V364.1H612.8V361.8H613.8V364.1H614.9V360.5H615.9V355.4H616.9V356.1H618V349H619V350.4H620V351.5H621V350.5H622.1V355.4H623.1V348.5H624.1V358.1H625.2V354.1H626.2V347.4H627.2V351H628.2V345.3H629.3V345.2H630.3V345.6H631.3V352.6H632.4V357.5H633.4V351H634.4V353.5H635.5V347.3H636.5V348.2H637.5V353.4H638.5V357.4H639.6V354.3H640.6V362.7H641.6V363.8H642.7V362.2H643.7V360.9H644.7V360.5H645.8V359.2H646.8V360.9H647.8V360.4H648.9H649.9V363.7H650.9V362.5H651.9V364.8H653V364.5H654V365.2H655V367.1H656.1V368.2H657.1V367.1H658.1V367.6H659.2V369.1H660.2V371.6H661.2V372.4H662.2V371.5H663.3V371.6H664.3V371.5H665.3V371.9H666.4V371.1H667.4V371H668.4V372.4H669.5V372.7H670.5V372.2H671.5" fill="none" stroke="#000" stroke-opacity="0.05" stroke-width="0.8"/><path d="M543.8 330.2H544.8V329.2H545.9V324.4H546.9V316.6H547.9V340H548.9V339.8H550V340.9H551V328.4H552V324.8H553.1V331.9H554.1V338.6H555.1V339.3H556.1V331.6H557.2V330.7H558.2V338.4H559.2V340H560.3V324.1H561.3V337.9H562.3V345.1H563.4V344.7H564.4V352.3H565.4V351.4H566.5V348.7H567.5V344.8H568.5V345.7H569.5V339.4H570.6V351.3H571.6V339H572.6V340.9H573.7V346H574.7V342.7H575.7V352.7H576.8V353.5H577.8V345.7H578.8V343.9H579.8V338.8H580.9V335.1H581.9V335.8H582.9V357.5H584V360.8H585V361H586V358.9H587V360.1H588.1H589.1V365.2H590.1V361.1H591.2V361.5H592.2V359H593.2V361.7H594.3V359.5H595.3V364.8H596.3V360H597.4V364.1H598.4V362.4H599.4V361.7H600.4V365.1H601.5V364.5H602.5V366.7H603.5V366.1H604.6V369.3H605.6V369.6H606.6V368.8H607.6H608.7V368.5H609.7V369.7H610.7V368.2H611.8V365.1H612.8V368.2H613.8V366.3H614.9V365.4H615.9V368.5H616.9V361.9H618V359.1H619V359.8H620V363.6H621V364.7H622.1V361H623.1V364.9H624.1V362.8H625.2V367.3H626.2V366.8H627.2V370.5H628.2V370.2H629.3V371.8H630.3V370.3H631.3V369.3H632.4V368.5H633.4V370.7H634.4V369.5H635.5V368.8H636.5V369.3H637.5V371.2H638.5V370H639.6V369.9H640.6V370.4H641.6V368.5H642.7V369.5H643.7V370.2H644.7V370H645.8V368.9H646.8V368.4H647.8V369.1H648.9V370.3H649.9V369.2H650.9V369.4H651.9V369.1H653H654V369.6H655V370.3H656.1V367.9H657.1V366.7H658.1V365.8H659.2V366.6H660.2V368.9H661.2V369.3H662.2V369.1H663.3V368.5H664.3V367.3H665.3V368.5H666.4V368.6H667.4V369.1H668.4H669.5V369.9H670.5V368H671.5" fill="none" stroke="#000" stroke-opacity="0.05" stroke-width="0.8"/><path d="M543.8 324.6H544.8V328.3H545.9V322.5H546.9V323.4H547.9V307.7H548.9V322.8H550V286H551V285.6H552V329.4H553.1V323.5H554.1V337.8H555.1V327.1H556.1V331.3H557.2V324.4H558.2V325H559.2V322.2H560.3V349H561.3V351.3H562.3V349.4H563.4V335.9H564.4V345.1H565.4V351.6H566.5V353.2H567.5V355.2H568.5V360.3H569.5V359.4H570.6V358.7H571.6V362.8H572.6V361.9H573.7V362.4H574.7V360.3H575.7V360.8H576.8V364.5H577.8V361.1H578.8V366.9H579.8V366.3H580.9V367.7H581.9V366.3H582.9V367.7H584V366.6H585V366.8H586V363.4H587V365.3H588.1V363.6H589.1V362.4H590.1V358.3H591.2V361.3H592.2V363.3H593.2V355.2H594.3V365.1H595.3V366.5H596.3V365.6H597.4V364.4H598.4V365.4H599.4V363.6H600.4V364.9H601.5V366.4H602.5V365.6H603.5H604.6V368.7H605.6V366.3H606.6V369.3H607.6V366.1H608.7V367H609.7V366.1H610.7V366.8H611.8V364.2H612.8V363.7H613.8V360.3H614.9V362.4H615.9V361.9H616.9V358.5H618V355.6H619V357.8H620V359.4H621V360.3H622.1V359.5H623.1V364.2H624.1V358.6H625.2V363H626.2V358.5H627.2V363.5H628.2V353.6H629.3V359.3H630.3V353.8H631.3V354.9H632.4V350.1H633.4V355.7H634.4V351.7H635.5V357H636.5V359.8H637.5V363.9H638.5V363.7H639.6V368.2H640.6V368.1H641.6V366.4H642.7V369.9H643.7V368.7H644.7V366.5H645.8V366.2H646.8V366.6H647.8V366.5H648.9V365H649.9V363.5H650.9V364.4H651.9V360.9H653V362.2H654V364.2H655V366.1H656.1V364.4H657.1V366.6H658.1V360.6H659.2V363H660.2V366H661.2V366.5H662.2V365.2H663.3V364.3H664.3V365.7H665.3V364.9H666.4V367.1H667.4V369.8H668.4V365.9H669.5V365.6H670.5V367.2H671.5" fill="none" stroke="#000" stroke-opacity="0.05" stroke-width="0.8"/><path d="M543.8 320.9H544.8V331.5H545.9V332.1H546.9V336.6H547.9V313.4H548.9V330.2H550V306.3H551V332.2H552V323.5H553.1V320.5H554.1V349.1H555.1V347.6H556.1V350.8H557.2V345.4H558.2V338.6H559.2V347.7H560.3V355.4H561.3V354.8H562.3V349.8H563.4V346.6H564.4V346.9H565.4V348H566.5V352H567.5V358.2H568.5V360.8H569.5V361.7H570.6V360.3H571.6V362.7H572.6V364.2H573.7V365.4H574.7V368.6H575.7V365.5H576.8V366.7H577.8V368.6H578.8V365.8H579.8V366.4H580.9V365.6H581.9V366.7H582.9V367.6H584V368H585V366.3H586V368H587V366.1H588.1V367.8H589.1V367.7H590.1V365.3H591.2V366.2H592.2V367.3H593.2V367.6H594.3V366.1H595.3V368.6H596.3V370.4H597.4V366.4H598.4V369.4H599.4V368.5H600.4V367.3H601.5V369.5H602.5V370.1H603.5V371.2H604.6V372.7H605.6V372.2H606.6V371.6H607.6V371.5H608.7V372H609.7V371.6H610.7V370.6H611.8V371.9H612.8V372.1H613.8V369H614.9V371.3H615.9V371.2H616.9V372H618V371.1H619V366.3H620V369.7H621V367.6H622.1V366.4H623.1V368.8H624.1V369.7H625.2V367.6H626.2V366H627.2V364H628.2V361.7H629.3V358.4H630.3V359.5H631.3V361.8H632.4V360.8H633.4V358.9H634.4V361.2H635.5V351.6H636.5V352.3H637.5V355.1H638.5V356H639.6V354.1H640.6V354.4H641.6V350.7H642.7V349.8H643.7V352.2H644.7V348.8H645.8V345.1H646.8V354H647.8V358.3H648.9V347.8H649.9V356.1H650.9V353.2H651.9V351.6H653V355.4H654V357.9H655V362.4H656.1V359.6H657.1V364.1H658.1V362.1H659.2V365.1H660.2V361.9H661.2V361.2H662.2V359.3H663.3V359.4H664.3V364H665.3V362.7H666.4V363.1H667.4V362.7H668.4V356.4H669.5V360.1H670.5V359.6H671.5" fill="none" stroke="#000" stroke-opacity="0.05" stroke-width="0.8"/>
<line x1="51.5" y1="175.3" x2="51.5" y2="161.3" stroke="#555" stroke-width="0.9"/>
<line x1="51.2" y1="375.2" x2="51.2" y2="370.8" stroke="#555" stroke-width="0.8"/>
<path d="M49.9 173.8L50.5 173.8L51.7 171.4L52.8 171.3L54 174.2L55.1 174.1L56.3 174.4L57.4 172.2L58.6 173.1L59.7 171.5L60.9 175.4L62 169.8L63.2 172.5L64.3 171L65.5 172.5L66.7 173.1L67.8 171.1L69 168.3L70.1 172.1L71.3 172.1L72.4 169.8L73.6 173.5L74.7 171.8L75.9 170.6L77 172.9L78.2 175.4L79.3 166.5L80.5 172.5L81.6 174.3L82.8 175.3L84 171.1L85.1 168.1L86.3 170.9L87.4 172.5L88.6 169.2L89.7 167.6L90.9 170.4L92 167.8L93.2 165.8L94.3 169.4L95.5 171.5L96.6 167.6L97.8 167.2L98.9 163.8L100.1 171.7L101.3 170L102.4 170.1L103.6 173.3L104.7 166L105.9 163.2L107 167.7L108.2 158.9L109.3 160.1L110.5 160.8L111.6 161.6L112.8 159L113.9 168.7L115.1 160.7L116.2 159.6L117.4 170.2L118.6 161.2L119.7 162.6L120.9 152.3L122 161.8L123.2 159.4L124.3 156.4L125.5 163.9L126.6 153.4L127.8 155.5L128.9 152.3L130.1 155.8L131.2 145.5L132.4 146.7L133.5 140L134.7 145.5L135.9 150.9L137 134.5L138.2 155.6L139.3 139.1L140.5 138.8L141.6 134.6L142.8 147.3L143.9 129.5L145.1 152.3L146.2 119.6L147.4 124.2L148.5 140L149.7 135.4L150.8 141.2L152 120.9L153.2 127.8L154.3 102.6L155.5 110L156.6 126.1L157.8 111L158.9 118.2L160.1 107.3L161.2 115.5L162.4 73.2L163.5 85.5L164.7 85.5L165.8 81.4L167 65L168.1 55.5L169.3 55.5L170.4 74.6" fill="none" stroke="#86e357" stroke-width="1.0" stroke-linejoin="round"/><path d="M170.4 74.6L171.6 148.2L172.8 135.9L173.9 136.6L175.1 148.2L176.2 154.6L177.4 145.5L178.5 137.3L179.7 144.1L180.8 156.4L182 134.2L183.1 144.9L184.3 144.9L185.4 150.5L186.6 150.5" fill="none" stroke="#f25753" stroke-width="1.0" stroke-linejoin="round"/><path d="M186.6 150.5L187.7 71.8L188.9 78.7L190.1 84.1L191.2 90.9L192.4 92.3L193.5 67.7L194.7 89.6" fill="none" stroke="#86e357" stroke-width="1.0" stroke-linejoin="round"/><path d="M194.7 89.6L195.8 149.2L197 153.3L198.1 150.9L199.3 149.2L200.4 148.8L201.6 141.4L202.7 153.3L203.9 149.6L205 137.3L206.2 137.3L207.4 137.3L208.5 145.5L209.7 149.6L210.8 142.8" fill="none" stroke="#f25753" stroke-width="1.0" stroke-linejoin="round"/><path d="M210.8 142.8L212 63.7L213.1 77.3L214.3 77.3L215.4 92.3L216.6 92.3L217.7 90.9L218.9 90.9L220 90.9L221.2 73.2L222.3 86.8L223.5 80L224.7 80L225.8 80L227 50" fill="none" stroke="#86e357" stroke-width="1.0" stroke-linejoin="round"/><path d="M227 50L228.1 153.3L229.3 140L230.4 141.4L231.6 144.1L232.7 134.6L233.9 142.4L235 144.1L236.2 149.2L237.3 144.1L238.5 141.9L239.6 137.3L240.8 140L242 144.1L243.1 122.3L244.3 137.3L245.4 150L246.6 145.5L247.7 151.4L248.9 152.9L250 144.1L251.2 156.4" fill="none" stroke="#f25753" stroke-width="1.0" stroke-linejoin="round"/><path d="M251.2 156.4L252.3 86.8L253.5 86.8L254.6 96.4L255.8 96.4L256.9 95L258.1 110L259.3 103.8L260.4 99.1L261.6 114.7L262.7 114.7L263.9 86L265 86L266.2 88.2L267.3 88.2" fill="none" stroke="#86e357" stroke-width="1.0" stroke-linejoin="round"/><path d="M267.3 88.2L268.5 146.4L269.6 153.3L270.8 137.3L271.9 147.8L273.1 137.3L274.2 133.8L275.4 138.7L276.6 149.2L277.7 141.4L278.9 141.4L280 141.9L281.2 141.4L282.3 149.2L283.5 137.3" fill="none" stroke="#f25753" stroke-width="1.0" stroke-linejoin="round"/><path d="M283.5 137.3L284.6 74.6L285.8 81.4L286.9 92.3L288.1 92.3L289.2 97.8L290.4 94.2L291.5 88.7L292.7 95L293.9 85.5L295 82.3L296.2 82.3L297.3 69.1L298.5 88.2L299.6 75.9" fill="none" stroke="#86e357" stroke-width="1.0" stroke-linejoin="round"/><path d="M299.6 75.9L300.8 141.4L301.9 126.4L303.1 153.3L304.2 134.6L305.4 141.4L306.5 141.4L307.7 130.5L308.8 130.5L310 137.9L311.2 138.7L312.3 140L313.5 141.4L314.6 140L315.8 139.6" fill="none" stroke="#f25753" stroke-width="1.0" stroke-linejoin="round"/><path d="M315.8 139.6L316.9 58.2L318.1 39.1L319.2 39.1L320.4 77.3L321.5 84.1L322.7 74.6L323.8 110" fill="none" stroke="#86e357" stroke-width="1.0" stroke-linejoin="round"/><path d="M323.8 110L325 151.9L325.6 151.9" fill="none" stroke="#f25753" stroke-width="1.0" stroke-linejoin="round"/>
<path d="M396.5 174.8L397 174.8L398 174.7L399.1 174.7L400.1 174.7L401.1 174.6L402.2 174.9L403.2 174.9L404.2 175L405.3 174.9L406.3 174.7L407.3 174.8L408.3 174.7L409.4 175L410.4 174.8L411.4 174.9L412.5 174.6L413.5 174.6L414.5 174.6L415.6 174.7L416.6 174.7L417.6 174.6L418.6 174.7L419.7 174.7L420.7 174.7L421.7 174.7L422.8 174.7L423.8 174.7L424.8 174.7L425.9 174.5L426.9 174.7L427.9 174.4L428.9 174.5L430 174.5L431 174.6L432 174.4L433.1 174.4L434.1 174.3L435.1 174.3L436.2 174.2L437.2 173.7L438.2 173.8L439.2 173.9L440.3 173.6L441.3 173.6L442.3 173.3L443.4 173.1L444.4 173.2L445.4 173.5L446.5 173.1L447.5 172.6L448.5 172.6L449.5 172.3L450.6 171.9L451.6 172.1L452.6 171.5L453.7 171.1L454.7 171L455.7 170.8L456.8 170.6L457.8 170.1L458.8 170.6L459.8 170.7L460.9 170.5L461.9 170.9L462.9 171.2L464 170.9L465 170.3L466 170L467.1 170.5L468.1 170.7L469.1 170L470.1 169.7L471.2 169.3L472.2 168.8L473.2 168.3L474.3 168.4L475.3 168.1L476.3 168.5L477.4 168.5L478.4 167.7L479.4 167L480.4 166.5L481.5 166.1L482.5 165.7L483.5 165.1L484.6 165.7L485.6 164.8L486.6 163.3L487.7 162.4L488.7 163L489.7 161.3L490.7 161.4L491.8 160.9L492.8 160L493.8 159.1L494.9 160.1L495.9 158.5L496.9 158.3L498 158.6L499 158L500 153.7L501 152.4L502.1 150.8L503.1 150.7L504.1 150.2L505.2 150.1L506.2 150L507.2 149.2L508.3 150L509.3 144.3L510.3 139.2L511.3 135.8L512.4 135.9L513.4 133.8L514.4 134.8L515.5 131.3L516.5 130.3L517.5 128.5L518.6 129.1L519.6 129.6L520.6 123.9L521.6 119.2L522.7 118.1L523.7 117.4L524.7 113.3L525.8 111.3L526.8 104L527.8 103.2L528.9 100.3L529.9 98L530.9 98.1L531.9 95.6L533 88.5L534 85L535 80.9L536.1 78L537.1 71.1L538.1 65.2L539.2 58.2L540.2 51.7L541.2 46.6L542.2 43.7L543.3 42.6L544.3 34.3L545.3 32.5L546.4 25.1L547.4 34.3" fill="none" stroke="#86e357" stroke-width="1.1" stroke-linejoin="round"/><path d="M547.4 34.3L548.4 126.2L549.5 125.8L550.5 122L551.5 120.1L552.5 120.2L553.6 120.5L554.6 119.4L555.6 119.9L556.7 123.5L557.7 123.9L558.7 122.6L559.8 126.6L560.8 126.9L561.8 128.6L562.8 130.9L563.9 133.9L564.9 134.7L565.9 135.9L567 137.5L568 141.4L569 142.4L570.1 143.1L571.1 143.8L572.1 145.5L573.1 147L574.2 148.1L575.2 149.2L576.2 151.8L577.3 152.2L578.3 153.6L579.3 156.3L580.4 157L581.4 154.3L582.4 157.1L583.4 159.5L584.5 159.3L585.5 158L586.5 159.6L587.6 160.2L588.6 161.4L589.6 161.7L590.7 161L591.7 161.3L592.7 162.3L593.7 162.2L594.8 162.6L595.8 164.1L596.8 164.6L597.9 165.2L598.9 166.2L599.9 165.6L601 166.5L602 167.3L603 168.4L604 168.5L605.1 167L606.1 168.3L607.1 167.8L608.2 168.3L609.2 168.3L610.2 168.5L611.3 169.5L612.3 169.7" fill="none" stroke="#f25753" stroke-width="1.1" stroke-linejoin="round"/><path d="M612.3 169.7L613.3 153.6L614.3 154.8L615.4 156.2L616.4 157.8L617.4 157.5L618.5 157.2L619.5 158.4" fill="none" stroke="#86e357" stroke-width="1.1" stroke-linejoin="round"/><path d="M619.5 158.4L620.5 171.5L621.6 170.8L622.6 170.9L623.6 170.6L624.6 169.4L625.7 170.7L626.7 170.9" fill="none" stroke="#f25753" stroke-width="1.1" stroke-linejoin="round"/><path d="M626.7 170.9L627.7 151.9L628.8 151.9L629.8 152.9L630.8 149.6L631.9 151.4L632.9 153.9L633.9 150.4" fill="none" stroke="#86e357" stroke-width="1.1" stroke-linejoin="round"/><path d="M633.9 150.4L634.9 171.1L636 169.6L637 169L638 169.2L639.1 170L640.1 170.1L641.1 170.3L642.2 169.4L643.2 171.8L644.2 171L645.2 170.2L646.3 170.5L647.3 171.7L648.3 170.7" fill="none" stroke="#f25753" stroke-width="1.1" stroke-linejoin="round"/><path d="M648.3 170.7L649.4 153.4L650.4 152.7L651.4 152.6L652.5 155.8L653.5 160.8L654.5 160.4L655.5 161.5" fill="none" stroke="#86e357" stroke-width="1.1" stroke-linejoin="round"/><path d="M655.5 161.5L656.6 169.4L657.6 168.3L658.6 169.2L659.7 168L660.7 168.1L661.7 168.8L662.8 170.4L663.8 169.9L664.8 171.1L665.8 169.3L666.9 169.6L667.9 168.6L668.9 169.2L670 171.3" fill="none" stroke="#f25753" stroke-width="1.1" stroke-linejoin="round"/><path d="M670 171.3L671 152.9L671.5 152.9" fill="none" stroke="#86e357" stroke-width="1.1" stroke-linejoin="round"/>
<path d="M49.9 375.2L50.5 375.2L51.7 375.3L52.8 375.3L54 375.3L55.1 375.3L56.3 375.2L57.4 375.2L58.6 375.2L59.7 375.1L60.9 375.2L62 375L63.2 375.1L64.3 375.1L65.5 374.9L66.7 375.1L67.8 375.1L69 375.1L70.1 375L71.3 375.2L72.4 375.1L73.6 374.9L74.7 374.9L75.9 375L77 374.9L78.2 374.9L79.3 374.9L80.5 374.8L81.6 375L82.8 374.8L84 374.9L85.1 374.7L86.3 374.7L87.4 374.8L88.6 374.7L89.7 374.8L90.9 374.5L92 374.6L93.2 374.4L94.3 374.6L95.5 374.2L96.6 374.4L97.8 374.1L98.9 374.1L100.1 374.4L101.3 374.2L102.4 374.3L103.6 374.1L104.7 373.8L105.9 373.8L107 373.7L108.2 374.2L109.3 374L110.5 373.8L111.6 373.6L112.8 373.9L113.9 373.7L115.1 373.6L116.2 374L117.4 374L118.6 373.6L119.7 373.9L120.9 373.9L122 373.3L123.2 373.2L124.3 373.3L125.5 373.2L126.6 373.3L127.8 373.3L128.9 373.2L130.1 372.8L131.2 372.2L132.4 372.8L133.5 372.7L134.7 372.7L135.9 373.1L137 372.5L138.2 371.9L139.3 372.5L140.5 371.8L141.6 372.2L142.8 371.3L143.9 370.8L145.1 371.6L146.2 372.6L147.4 372L148.5 372.2L149.7 372.2L150.8 371.5L152 370L153.2 370.5L154.3 370.7L155.5 371.7L156.6 371.1L157.8 371.4L158.9 369.9L160.1 370.2L161.2 369.8L162.4 369.6L163.5 369.7L164.7 368.5L165.8 368.6L167 369.3L168.1 369L169.3 368.5L170.4 367.3L171.6 368L172.8 366.2L173.9 368L175.1 367.8L176.2 368.8L177.4 366L178.5 367.3L179.7 367.3L180.8 364.2L182 365.2L183.1 365.6L184.3 362.4L185.4 363.2L186.6 360.8L187.7 362.5L188.9 360.2L190.1 358.1L191.2 359.4L192.4 354L193.5 365.8L194.7 357.8L195.8 356.1L197 351.6L198.1 354.4L199.3 355.1L200.4 352.6L201.6 347.4L202.7 351.8L203.9 355.3L205 352.1L206.2 347.4L207.4 350.1L208.5 347.5L209.7 353.6L210.8 347.7L212 344.4L213.1 339.8L214.3 336.2L215.4 328.4L216.6 334.4L217.7 322.7L218.9 335.1" fill="none" stroke="#86e357" stroke-width="1.1" stroke-linejoin="round"/><path d="M218.9 335.1L220 318.2L221.2 347.3L222.3 310.9L223.5 310.9L224.7 344.4L225.8 343.5L227 343L228.1 334.2L229.3 326L230.4 325.5L231.6 336.7L232.7 351.2L233.9 353.2L235 338.1L236.2 333.3L237.3 339.1L238.5 348.3L239.6 359L240.8 347.8L242 359.5L243.1 344.4L244.3 347.8L245.4 357.3L246.6 357.3L247.7 344.9L248.9 344.9L250 356.7L251.2 360.1L252.3 361.2L253.5 362.4L254.6 356.7L255.8 355.6L256.9 355.6L258.1 369L259.3 363.4L260.4 366.8L261.6 359.5L262.7 362.9L263.9 364.5L265 364.5L266.2 367.2L267.3 369" fill="none" stroke="#f25753" stroke-width="1.1" stroke-linejoin="round"/><path d="M267.3 369L268.5 365.3L269.6 363.8L270.8 364.3L271.9 366.5L273.1 367.5L274.2 362.5L275.4 364.8L276.6 368.5L277.7 370L278.9 363.5L280 360.4L281.2 359L282.3 363.5L283.5 359L284.6 337.6L285.8 357.4L286.9 357.5L288.1 360L289.2 360L290.4 355.9L291.5 354.9L292.7 353.4L293.9 343.2L295 343.2L296.2 348.3L297.3 348.3L298.5 350.3L299.6 351.8L300.8 352.2L301.9 337.6L303.1 364L304.2 355.4L305.4 344.2L306.5 346.4L307.7 315.8" fill="none" stroke="#86e357" stroke-width="1.1" stroke-linejoin="round"/><path d="M307.7 315.8L308.8 323.1L310 319.7L311.2 313.4L312.3 329.4L313.5 331.1L314.6 331.1L315.8 317.2L316.9 317.2L318.1 347.3L319.2 320.6L320.4 323.1L321.5 334.7L322.7 340.1L323.8 359.7L324.4 359.7" fill="none" stroke="#f25753" stroke-width="1.1" stroke-linejoin="round"/>
<path d="M49.9 374.9L50.5 374.9L51.7 375.1L52.8 374.9L54 374.9L55.1 374.8L56.3 374.8L57.4 374.7L58.6 374.8L59.7 374.8L60.9 374.7L62 374.7L63.2 374.7L64.3 374.7L65.5 374.5L66.7 374.4L67.8 374.5L69 374.5L70.1 374.6L71.3 374.2L72.4 374.3L73.6 374L74.7 374.1L75.9 373.8L77 373.7L78.2 373.9L79.3 373.7L80.5 374.1L81.6 373.8L82.8 374.1L84 373.9L85.1 373.6L86.3 373.7L87.4 373.8L88.6 373.9L89.7 373.8L90.9 373.4L92 373.2L93.2 373.4L94.3 373.7L95.5 373.3L96.6 373.6L97.8 373.5L98.9 373.4L100.1 372.9L101.3 372.8L102.4 372.6L103.6 372.5L104.7 372.7L105.9 372.3L107 371.6L108.2 371.9L109.3 371.5L110.5 371.7L111.6 371L112.8 370.8L113.9 370.4L115.1 370.5L116.2 369.4L117.4 370.3L118.6 370.3L119.7 370.3L120.9 369.3L122 369.8L123.2 369.8L124.3 368.7L125.5 367.7L126.6 367.8L127.8 370.3L128.9 369.6L130.1 369.4L131.2 369.3L132.4 368.5L133.5 365.7L134.7 367L135.9 367.6L137 366.1L138.2 366.1L139.3 365.9L140.5 366.6L141.6 365.8L142.8 364.8L143.9 367L145.1 367.2L146.2 363.6L147.4 362.4L148.5 363.9L149.7 364.8L150.8 363.5L152 364.2L153.2 362.8L154.3 358.1L155.5 359.3L156.6 357L157.8 358.9L158.9 357.8L160.1 354.6L161.2 359.5L162.4 358.4L163.5 356.8L164.7 354.5L165.8 349L167 349.2L168.1 354.9L169.3 352.6L170.4 353L171.6 352.3L172.8 340.6L173.9 347.7L175.1 343L176.2 342.7L177.4 333.8L178.5 331.8L179.7 331.5L180.8 331.3L182 322.5L183.1 331L184.3 330.7L185.4 331.5L186.6 314.3L187.7 319.7L188.9 325.2L190.1 322.1L191.2 295.3L192.4 307.1L193.5 300.1L194.7 299.9L195.8 304.1L197 302.7L198.1 290.5L199.3 283.3L200.4 276.9L201.6 276.9L202.7 293L203.9 269.7L205 271.1L206.2 273.5L207.4 275L208.5 253.6L209.7 259L210.8 246.8L212 237.6L213.1 220.1L214.3 220.1L215.4 221.1L216.6 219.2L217.7 217.2L218.9 209L220 323.6L221.2 317.4L222.3 312.6L223.5 312.7L224.7 314.9L225.8 314.3L227 314.9L228.1 315.6L229.3 312.4L230.4 313.8L231.6 314.8L232.7 313.8L233.9 326.3L235 330L236.2 334.5L237.3 336.1L238.5 336.2L239.6 327.9L240.8 331.7L242 340.1L243.1 339.3L244.3 342.1L245.4 341.5L246.6 341.2L247.7 341.4L248.9 343.9L250 346.2L251.2 348L252.3 347.9L253.5 347.9L254.6 348.9L255.8 348.7L256.9 350.6L258.1 352.1L259.3 352.7L260.4 354.4L261.6 356.4L262.7 358.3L263.9 357.9L265 358.8L266.2 359.6L267.3 360.5L268.5 321L269.6 317.9L270.8 319.2L271.9 333.7L273.1 333.4L274.2 326.1L275.4 329.6L276.6 332.9L277.7 332.6L278.9 330.8L280 322.2L281.2 314L282.3 315.1L283.5 316L284.6 308.7L285.8 305.6L286.9 306.9L288.1 306.2L289.2 298.8L290.4 289.8L291.5 295.3L292.7 289.7L293.9 290.3L295 285.4L296.2 281.1L297.3 276.3L298.5 266.2L299.6 254.1L300.8 249.5L301.9 255.1L303.1 243.3L304.2 237.6L305.4 226.8L306.5 220.6L307.7 219.7L308.8 330.4L310 330.6L311.2 327.2L312.3 322.8L313.5 326.7L314.6 325.9L315.8 321.2L316.9 323L318.1 328.6L319.2 327.8L320.4 327.8L321.5 330.1L322.7 332.1L323.8 333.1L324.4 333.1" fill="none" stroke="#3a3a3a" stroke-width="1.0" stroke-linejoin="round"/>
<path d="M396.5 375.9L397 375.9L398 375.9L399.1 375.8L400.1 375.8L401.1 375.8L402.2 375.8L403.2 375.8L404.2 375.8L405.3 375.9L406.3 375.8L407.3 375.8L408.3 375.8L409.4 375.8L410.4 375.8L411.4 375.8L412.5 375.8L413.5 375.8L414.5 375.8L415.6 375.8L416.6 375.7L417.6 375.8L418.6 375.7L419.7 375.7L420.7 375.7L421.7 375.7L422.8 375.7L423.8 375.7L424.8 375.7L425.9 375.6L426.9 375.7L427.9 375.6L428.9 375.6L430 375.6L431 375.5L432 375.7L433.1 375.6L434.1 375.5L435.1 375.5L436.2 375.4L437.2 375.4L438.2 375.4L439.2 375.4L440.3 375.4L441.3 375.4L442.3 375.3L443.4 375.3L444.4 375.3L445.4 375.1L446.5 375.1L447.5 375.2L448.5 375.2L449.5 375.1L450.6 375.2L451.6 375.3L452.6 375.2L453.7 375L454.7 375L455.7 375L456.8 374.8L457.8 375L458.8 374.5L459.8 374.7L460.9 374.7L461.9 374.3L462.9 374.7L464 374.7L465 374.5L466 374.6L467.1 374.5L468.1 374.2L469.1 374.2L470.1 374.1L471.2 373.8L472.2 373.4L473.2 373.2L474.3 374.2L475.3 373.5L476.3 373.3L477.4 373.3L478.4 373.4L479.4 372.4L480.4 371.2L481.5 371.8L482.5 370.2L483.5 369.9L484.6 370.4L485.6 371L486.6 369.6L487.7 369.5L488.7 369.1L489.7 370.1L490.7 367.8L491.8 369.4L492.8 367.8L493.8 370.6L494.9 369.5L495.9 369.3L496.9 371L498 370.2L499 370.2L500 370.1L501 369.4L502.1 369.3L503.1 367.7L504.1 366.7L505.2 366.3L506.2 367.2L507.2 366.9L508.3 363.6L509.3 365.2L510.3 364.9L511.3 365.3L512.4 363.5L513.4 362.3L514.4 361.9L515.5 362.3L516.5 361.8L517.5 363.1L518.6 361.9L519.6 363.8L520.6 362.3L521.6 360L522.7 362.3L523.7 358.6L524.7 357.4L525.8 359.9L526.8 360.9L527.8 360.6L528.9 358.7L529.9 354.3L530.9 352.2L531.9 347.6L533 341.1L534 349.3L535 355.5L536.1 355.4L537.1 356.2L538.1 351.2L539.2 347.3L540.2 359L541.2 342.3L542.2 333.4L543.3 329.9L544.3 333.2L545.3 335.2L546.4 312L547.4 323.4" fill="none" stroke="#86e357" stroke-width="1.1" stroke-linejoin="round"/><path d="M547.4 323.4L548.4 331.4L549.5 320.9L550.5 333.9L551.5 320.9L552.5 314.1L553.6 345.9L554.6 324.6L555.6 331.7L556.7 331.1L557.7 336.7L558.7 342.4L559.8 345.2L560.8 349.2L561.8 347.4L562.8 349.1L563.9 345.2L564.9 346.5L565.9 351.7L567 353.4L568 352L569 355.1L570.1 356L571.1 356.8L572.1 358.4L573.1 360.2L574.2 358.8L575.2 359.1L576.2 360.9L577.3 358.9L578.3 360.4L579.3 361.4L580.4 362.6L581.4 362L582.4 365.7L583.4 365.4L584.5 364.6L585.5 365L586.5 366.3L587.6 366.7L588.6 365.9L589.6 365L590.7 367.4L591.7 367.4L592.7 367L593.7 367.1L594.8 367.1L595.8 367.1L596.8 367.6L597.9 369.3L598.9 369.4L599.9 370L601 369.9L602 369.3L603 369.5L604 368.9" fill="none" stroke="#f25753" stroke-width="1.1" stroke-linejoin="round"/><path d="M604 368.9L605.1 370.3L606.1 370L607.1 369.8L608.2 370.7L609.2 370.4L610.2 369.6L611.3 369L612.3 368.7L613.3 369.6L614.3 369.7L615.4 369.5L616.4 366.2L617.4 366.7L618.5 365.3L619.5 365.4L620.5 365.1L621.6 364.5L622.6 364.1L623.6 362.7L624.6 360.4L625.7 364.2L626.7 365L627.7 363.4L628.8 361.7L629.8 357.3L630.8 355.7L631.9 362.1L632.9 361.3L633.9 358.9" fill="none" stroke="#86e357" stroke-width="1.1" stroke-linejoin="round"/><path d="M633.9 358.9L634.9 364.8L636 365.8L637 361.2L638 360.8L639.1 359.7L640.1 354.8L641.1 363.9L642.2 364.3L643.2 361.8L644.2 363.3L645.2 364.3L646.3 358.6L647.3 363.7L648.3 360.9L649.4 364.2L650.4 364L651.4 365.4L652.5 365.2L653.5 365.4L654.5 367.5L655.5 367.1L656.6 365.7L657.6 367.8L658.6 370L659.7 368.3L660.7 369.1L661.7 368.3L662.8 369L663.8 369.7L664.8 370L665.8 370.2L666.9 370.9L667.9 372.5L668.9 373.2L670 373.5L671 372.4L671.5 372.4" fill="none" stroke="#f25753" stroke-width="1.1" stroke-linejoin="round"/>
<path d="M396.5 375.8L397 375.8L398 375.7L399.1 375.7L400.1 375.7L401.1 375.7L402.2 375.7L403.2 375.7L404.2 375.7L405.3 375.7L406.3 375.6L407.3 375.6L408.3 375.6L409.4 375.6L410.4 375.6L411.4 375.6L412.5 375.5L413.5 375.5L414.5 375.5L415.6 375.5L416.6 375.5L417.6 375.5L418.6 375.5L419.7 375.4L420.7 375.4L421.7 375.3L422.8 375.4L423.8 375.3L424.8 375.3L425.9 375.3L426.9 375.3L427.9 375.2L428.9 375.2L430 375.2L431 375.1L432 375.1L433.1 375.1L434.1 375L435.1 374.9L436.2 374.9L437.2 374.9L438.2 374.9L439.2 374.9L440.3 374.8L441.3 374.7L442.3 374.6L443.4 374.5L444.4 374.4L445.4 374.3L446.5 374.3L447.5 374.3L448.5 374.2L449.5 374.1L450.6 374.1L451.6 373.9L452.6 373.7L453.7 373.6L454.7 373.5L455.7 373.6L456.8 373.5L457.8 373.4L458.8 373.2L459.8 373L460.9 372.6L461.9 372.3L462.9 372.2L464 371.7L465 371.1L466 370.9L467.1 370.8L468.1 370.3L469.1 369.7L470.1 369.4L471.2 369L472.2 369L473.2 368.3L474.3 368L475.3 368L476.3 368.2L477.4 367.6L478.4 367.6L479.4 367.5L480.4 366.6L481.5 366.5L482.5 366.2L483.5 364.9L484.6 363.4L485.6 362.5L486.6 362.1L487.7 360.8L488.7 361.3L489.7 359.5L490.7 358.4L491.8 359.1L492.8 358.3L493.8 358.8L494.9 358.3L495.9 356.5L496.9 356.7L498 355.2L499 353.4L500 351.5L501 349.5L502.1 348L503.1 349.2L504.1 348.5L505.2 347.2L506.2 348.3L507.2 348.3L508.3 349.6L509.3 345.3L510.3 341.3L511.3 338.9L512.4 333.6L513.4 332.3L514.4 332.4L515.5 333.1L516.5 333.9L517.5 330.9L518.6 327.6L519.6 325.9L520.6 324.1L521.6 321.5L522.7 316L523.7 318.3L524.7 314.1L525.8 310.6L526.8 306.1L527.8 300.8L528.9 298.3L529.9 296.4L530.9 295.5L531.9 285L533 281.4L534 279.2L535 279.6L536.1 278.5L537.1 266.2L538.1 258.1L539.2 249.8L540.2 236.8L541.2 248.2L542.2 244.2L543.3 237.5L544.3 233.8L545.3 220.2L546.4 209.2L547.4 209.2L548.4 332.7L549.5 332.1L550.5 328.1L551.5 318.2L552.5 313.6L553.6 311.8L554.6 315.1L555.6 313.7L556.7 323.8L557.7 328.7L558.7 320.9L559.8 328.4L560.8 328.8L561.8 332.5L562.8 331.6L563.9 331.1L564.9 332.4L565.9 334.8L567 339.1L568 345.5L569 342.3L570.1 343.8L571.1 344.7L572.1 346.5L573.1 348.9L574.2 350.7L575.2 351.5L576.2 354L577.3 354.7L578.3 355L579.3 354.9L580.4 357.3L581.4 358.3L582.4 358.4L583.4 359.5L584.5 359.3L585.5 358.8L586.5 359L587.6 360L588.6 360.2L589.6 361.7L590.7 362.6L591.7 363.8L592.7 364L593.7 364.4L594.8 365.4L595.8 365.4L596.8 366.1L597.9 366.7L598.9 367.8L599.9 368.2L601 368.7L602 369.6L603 369.8L604 370.2L605.1 370.5L606.1 351.4L607.1 350.4L608.2 350.9L609.2 353.1L610.2 355.2L611.3 355L612.3 356.2L613.3 356.3L614.3 351.9L615.4 347.8L616.4 345.5L617.4 346.2L618.5 343.8L619.5 343.9L620.5 344.1L621.6 345.2L622.6 341.6L623.6 339.2L624.6 340.6L625.7 340L626.7 338.7L627.7 335.1L628.8 332.2L629.8 330.2L630.8 324.9L631.9 320.9L632.9 320.4L633.9 318.9L634.9 359.4L636 359.1L637 359.8L638 358.5L639.1 357L640.1 357.9L641.1 357.2L642.2 356.1L643.2 355.7L644.2 356L645.2 356.5L646.3 357.1L647.3 357.6L648.3 359.5L649.4 361.7L650.4 362.7L651.4 363.3L652.5 362.8L653.5 363L654.5 364.1L655.5 365.1L656.6 365.1L657.6 365.1L658.6 365.3L659.7 365.8L660.7 367.3L661.7 367.5L662.8 368.1L663.8 368.7L664.8 368.3L665.8 369.4L666.9 370L667.9 370.7L668.9 371L670 371L671 355.3L671.5 355.3" fill="none" stroke="#3a3a3a" stroke-width="1.0" stroke-linejoin="round"/>
<line x1="49.9" y1="107.3" x2="338" y2="107.3" stroke="#5050f5" stroke-width="1" stroke-dasharray="3.1 3" stroke-dashoffset="0.8"/>
<text x="58.7" y="104" font-size="12" fill="#5050f5" textLength="32.6" lengthAdjust="spacingAndGlyphs">Target</text>
<line x1="396.5" y1="163.2" x2="685" y2="163.2" stroke="#5050f5" stroke-width="1" stroke-dasharray="3.1 3" stroke-dashoffset="0.8"/>
<text x="399" y="160.3" font-size="12" fill="#5050f5" textLength="32.6" lengthAdjust="spacingAndGlyphs">Target</text>
<line x1="49.9" y1="351.2" x2="338" y2="351.2" stroke="#5050f5" stroke-width="1" stroke-dasharray="3.1 3" stroke-dashoffset="0.8"/>
<text x="59" y="348.8" font-size="12" fill="#5050f5" textLength="32.6" lengthAdjust="spacingAndGlyphs">Target</text>
<line x1="396.5" y1="363.5" x2="685" y2="363.5" stroke="#5050f5" stroke-width="1" stroke-dasharray="3.1 3" stroke-dashoffset="0.8"/>
<text x="398.9" y="361.5" font-size="12" fill="#5050f5" textLength="32.6" lengthAdjust="spacingAndGlyphs">Target</text>
<line x1="49.7" y1="141.4" x2="55.7" y2="141.4" stroke="#a8a8a8" stroke-width="0.8"/><text x="47.1" y="145.1" font-size="12" fill="#555555" text-anchor="end">25</text><line x1="49.7" y1="107.3" x2="55.7" y2="107.3" stroke="#a8a8a8" stroke-width="0.8"/><text x="47.1" y="111" font-size="12" fill="#555555" text-anchor="end">50</text><line x1="49.7" y1="73.2" x2="55.7" y2="73.2" stroke="#a8a8a8" stroke-width="0.8"/><text x="47.1" y="76.9" font-size="12" fill="#555555" text-anchor="end">75</text><line x1="49.7" y1="39.1" x2="55.7" y2="39.1" stroke="#a8a8a8" stroke-width="0.8"/><text x="47.1" y="42.8" font-size="12" fill="#555555" text-anchor="end">100</text><line x1="49.7" y1="5" x2="55.7" y2="5" stroke="#a8a8a8" stroke-width="0.8"/><text x="47.1" y="8.7" font-size="12" fill="#555555" text-anchor="end">125</text><line x1="107.6" y1="175.5" x2="107.6" y2="170" stroke="#a8a8a8" stroke-width="0.8"/><text x="107.6" y="184.5" font-size="12" fill="#555555" text-anchor="middle">50</text><line x1="165.3" y1="175.5" x2="165.3" y2="170" stroke="#a8a8a8" stroke-width="0.8"/><text x="165.3" y="184.5" font-size="12" fill="#555555" text-anchor="middle">100</text><line x1="222.9" y1="175.5" x2="222.9" y2="170" stroke="#a8a8a8" stroke-width="0.8"/><text x="222.9" y="184.5" font-size="12" fill="#555555" text-anchor="middle">150</text><line x1="280.6" y1="175.5" x2="280.6" y2="170" stroke="#a8a8a8" stroke-width="0.8"/><text x="280.6" y="184.5" font-size="12" fill="#555555" text-anchor="middle">200</text><path d="M49.7 0.5V175.5H338" fill="none" stroke="#505050" stroke-width="1"/>
<line x1="396.3" y1="127" x2="402.3" y2="127" stroke="#a8a8a8" stroke-width="0.8"/><text x="393.7" y="130.7" font-size="12" fill="#555555" text-anchor="end">200</text><line x1="396.3" y1="78.7" x2="402.3" y2="78.7" stroke="#a8a8a8" stroke-width="0.8"/><text x="393.7" y="82.4" font-size="12" fill="#555555" text-anchor="end">400</text><line x1="396.3" y1="30.4" x2="402.3" y2="30.4" stroke="#a8a8a8" stroke-width="0.8"/><text x="393.7" y="34.1" font-size="12" fill="#555555" text-anchor="end">600</text><line x1="499.5" y1="175.3" x2="499.5" y2="169.8" stroke="#a8a8a8" stroke-width="0.8"/><text x="499.5" y="184.3" font-size="12" fill="#555555" text-anchor="middle">100</text><line x1="602.5" y1="175.3" x2="602.5" y2="169.8" stroke="#a8a8a8" stroke-width="0.8"/><text x="602.5" y="184.3" font-size="12" fill="#555555" text-anchor="middle">200</text><path d="M396.3 0V175.3H685" fill="none" stroke="#505050" stroke-width="1"/>
<line x1="49.7" y1="326.9" x2="55.7" y2="326.9" stroke="#a8a8a8" stroke-width="0.8"/><text x="47.1" y="330.6" font-size="12" fill="#555555" text-anchor="end">100</text><line x1="49.7" y1="278.4" x2="55.7" y2="278.4" stroke="#a8a8a8" stroke-width="0.8"/><text x="47.1" y="282.1" font-size="12" fill="#555555" text-anchor="end">200</text><line x1="49.7" y1="229.8" x2="55.7" y2="229.8" stroke="#a8a8a8" stroke-width="0.8"/><text x="47.1" y="233.5" font-size="12" fill="#555555" text-anchor="end">300</text><line x1="107.6" y1="375.5" x2="107.6" y2="370" stroke="#a8a8a8" stroke-width="0.8"/><text x="107.6" y="384.5" font-size="12" fill="#555555" text-anchor="middle">50</text><line x1="165.3" y1="375.5" x2="165.3" y2="370" stroke="#a8a8a8" stroke-width="0.8"/><text x="165.3" y="384.5" font-size="12" fill="#555555" text-anchor="middle">100</text><line x1="222.9" y1="375.5" x2="222.9" y2="370" stroke="#a8a8a8" stroke-width="0.8"/><text x="222.9" y="384.5" font-size="12" fill="#555555" text-anchor="middle">150</text><line x1="280.6" y1="375.5" x2="280.6" y2="370" stroke="#a8a8a8" stroke-width="0.8"/><text x="280.6" y="384.5" font-size="12" fill="#555555" text-anchor="middle">200</text><path d="M49.7 201V375.5H338" fill="none" stroke="#505050" stroke-width="1"/>
<line x1="396.3" y1="325.9" x2="402.3" y2="325.9" stroke="#a8a8a8" stroke-width="0.8"/><text x="393.7" y="329.6" font-size="12" fill="#555555" text-anchor="end">200</text><line x1="396.3" y1="275.8" x2="402.3" y2="275.8" stroke="#a8a8a8" stroke-width="0.8"/><text x="393.7" y="279.5" font-size="12" fill="#555555" text-anchor="end">400</text><line x1="396.3" y1="225.7" x2="402.3" y2="225.7" stroke="#a8a8a8" stroke-width="0.8"/><text x="393.7" y="229.4" font-size="12" fill="#555555" text-anchor="end">600</text><line x1="499.5" y1="376" x2="499.5" y2="370.5" stroke="#a8a8a8" stroke-width="0.8"/><text x="499.5" y="385" font-size="12" fill="#555555" text-anchor="middle">100</text><line x1="602.5" y1="376" x2="602.5" y2="370.5" stroke="#a8a8a8" stroke-width="0.8"/><text x="602.5" y="385" font-size="12" fill="#555555" text-anchor="middle">200</text><path d="M396.3 202V376H685" fill="none" stroke="#505050" stroke-width="1"/>
<text x="174.2" y="193" font-size="12" fill="#262626" textLength="38" lengthAdjust="spacingAndGlyphs"><tspan font-style="italic">t</tspan> (days)</text>
<text x="518.5" y="193" font-size="12" fill="#262626" textLength="38" lengthAdjust="spacingAndGlyphs"><tspan font-style="italic">t</tspan> (days)</text>
<text x="174.2" y="393.4" font-size="12" fill="#262626" textLength="38" lengthAdjust="spacingAndGlyphs"><tspan font-style="italic">t</tspan> (days)</text>
<text x="518.5" y="393.4" font-size="12" fill="#262626" textLength="38" lengthAdjust="spacingAndGlyphs"><tspan font-style="italic">t</tspan> (days)</text>
<text transform="translate(25.3 98.9) rotate(-90)" font-size="12" fill="#262626" textLength="116" lengthAdjust="spacingAndGlyphs" x="-58">Infection incidence (<tspan font-style="italic">I</tspan><tspan font-style="italic" font-size="8" dy="2">t</tspan><tspan dy="-2">)</tspan></text>
<text transform="translate(367.6 97.7) rotate(-90)" font-size="12" fill="#262626" textLength="116" lengthAdjust="spacingAndGlyphs" x="-58">Infection incidence (<tspan font-style="italic">I</tspan><tspan font-style="italic" font-size="8" dy="2">t</tspan><tspan dy="-2">)</tspan></text>
<text transform="translate(24.4 287.1) rotate(-90)" font-size="12" fill="#262626" textLength="99.6" lengthAdjust="spacingAndGlyphs" x="-49.8">Reported cases (<tspan font-style="italic">C</tspan><tspan font-style="italic" font-size="8" dy="2">t</tspan><tspan dy="-2">)</tspan></text>
<text transform="translate(367.9 287.3) rotate(-90)" font-size="12" fill="#262626" textLength="99.7" lengthAdjust="spacingAndGlyphs" x="-49.9">Reported cases (<tspan font-style="italic">C</tspan><tspan font-style="italic" font-size="8" dy="2">t</tspan><tspan dy="-2">)</tspan></text>
<text transform="translate(9.1 95.7) rotate(-90)" x="-22.9" font-size="12" fill="#5050f0" textLength="45.8" lengthAdjust="spacingAndGlyphs">No noise</text>
<text transform="translate(9.3 286.6) rotate(-90)" x="-28" font-size="12" fill="#f455f4" textLength="56" lengthAdjust="spacingAndGlyphs">With noise</text>
<text class="sans" x="15.5" y="16.7" font-size="11.5" fill="#111">(a)</text>
<text class="sans" x="347.7" y="22.8" font-size="11.5" fill="#111">(b)</text>
<text class="sans" x="15.9" y="215.5" font-size="11.5" fill="#111">(c)</text>
<text class="sans" x="347.7" y="215.5" font-size="11.5" fill="#111">(d)</text>
<text class="sans" x="15.9" y="391.6" font-size="11.5" fill="#111">(e)</text>
<text class="sans" x="349.7" y="391.6" font-size="11.5" fill="#111">(f)</text>
<text x="62" y="12.9" font-size="12" fill="#4a4a4a" textLength="31" lengthAdjust="spacingAndGlyphs">Policy</text>
<line x1="62" y1="20.2" x2="69" y2="20.2" stroke="#86e357" stroke-width="1.2"/>
<text x="71.8" y="23" font-size="12" fill="#262626" textLength="79.2" lengthAdjust="spacingAndGlyphs">No intervention</text>
<line x1="62" y1="30.2" x2="69" y2="30.2" stroke="#f25753" stroke-width="1.2"/>
<text x="71.8" y="32.8" font-size="12" fill="#262626" textLength="51.2" lengthAdjust="spacingAndGlyphs">Lockdown</text>
<text x="409.2" y="12.6" font-size="12" fill="#4a4a4a" textLength="31" lengthAdjust="spacingAndGlyphs">Policy</text>
<line x1="409.2" y1="19.9" x2="416.2" y2="19.9" stroke="#86e357" stroke-width="1.2"/>
<text x="419" y="22.7" font-size="12" fill="#262626" textLength="79.2" lengthAdjust="spacingAndGlyphs">No intervention</text>
<line x1="409.2" y1="29.9" x2="416.2" y2="29.9" stroke="#f25753" stroke-width="1.2"/>
<text x="419" y="32.5" font-size="12" fill="#262626" textLength="51.2" lengthAdjust="spacingAndGlyphs">Lockdown</text>
<text x="62" y="212.4" font-size="12" fill="#4a4a4a" textLength="31" lengthAdjust="spacingAndGlyphs">Policy</text>
<line x1="62" y1="219.7" x2="69" y2="219.7" stroke="#86e357" stroke-width="1.2"/>
<text x="71.8" y="222.5" font-size="12" fill="#262626" textLength="79.2" lengthAdjust="spacingAndGlyphs">No intervention</text>
<line x1="62" y1="229.7" x2="69" y2="229.7" stroke="#f25753" stroke-width="1.2"/>
<text x="71.8" y="232.3" font-size="12" fill="#262626" textLength="51.2" lengthAdjust="spacingAndGlyphs">Lockdown</text>
<text x="409.2" y="212.4" font-size="12" fill="#4a4a4a" textLength="31" lengthAdjust="spacingAndGlyphs">Policy</text>
<line x1="409.2" y1="219.7" x2="416.2" y2="219.7" stroke="#86e357" stroke-width="1.2"/>
<text x="419" y="222.5" font-size="12" fill="#262626" textLength="79.2" lengthAdjust="spacingAndGlyphs">No intervention</text>
<line x1="409.2" y1="229.7" x2="416.2" y2="229.7" stroke="#f25753" stroke-width="1.2"/>
<text x="419" y="232.3" font-size="12" fill="#262626" textLength="51.2" lengthAdjust="spacingAndGlyphs">Lockdown</text>
<text x="436.6" y="101.4" font-size="12" fill="#8f8f8f" textLength="55.2" lengthAdjust="spacingAndGlyphs">Control off</text>
<text x="436.6" y="305.9" font-size="12" fill="#8f8f8f" textLength="55.2" lengthAdjust="spacingAndGlyphs">Control off</text>
<text x="162.4" y="276.6" font-size="12" fill="#262626"><tspan font-style="italic">I</tspan><tspan font-size="8" dy="2">t</tspan></text>
<line x1="173.6" y1="277.1" x2="193.9" y2="290.7" stroke="#333" stroke-width="0.9" stroke-dasharray="3.3 2.3"/>
<path d="M196.4 292.4L191.9 291.6L193.9 288.6Z" fill="#333"/>
<text x="497.1" y="276.6" font-size="12" fill="#262626"><tspan font-style="italic">I</tspan><tspan font-size="8" dy="2">t</tspan></text>
<line x1="508" y1="277.1" x2="528.7" y2="290.7" stroke="#333" stroke-width="0.9" stroke-dasharray="3.3 2.3"/>
<path d="M531.2 292.4L526.7 291.6L528.7 288.6Z" fill="#333"/>
<path d="M62.6 464.7V464H67.5V451H72.4V416.9H77.2V403H82.2V427.8H87.1V447.3H92V460.4H96.9V464.2H101.8V464.7Z" fill="#0000ff"/><rect x="82.2" y="463.7" width="4.9" height="1" fill="none" stroke="#ff33ff" stroke-width="1.2"/><rect x="87.1" y="455.8" width="4.9" height="8.9" fill="none" stroke="#ff33ff" stroke-width="1.2"/><rect x="92" y="428.5" width="4.9" height="36.2" fill="none" stroke="#ff33ff" stroke-width="1.2"/><rect x="96.9" y="408.5" width="4.9" height="56.2" fill="none" stroke="#ff33ff" stroke-width="1.2"/><rect x="101.8" y="419.5" width="4.9" height="45.2" fill="none" stroke="#ff33ff" stroke-width="1.2"/><rect x="106.7" y="440.5" width="4.9" height="24.2" fill="none" stroke="#ff33ff" stroke-width="1.2"/><rect x="111.6" y="453.9" width="4.9" height="10.8" fill="none" stroke="#ff33ff" stroke-width="1.2"/><rect x="116.5" y="463.3" width="4.9" height="1.4" fill="none" stroke="#ff33ff" stroke-width="1.2"/><rect x="121.4" y="463.7" width="4.9" height="1" fill="none" stroke="#ff33ff" stroke-width="1.2"/><line x1="49.7" y1="446.2" x2="55.7" y2="446.2" stroke="#a8a8a8" stroke-width="0.8"/><text x="48.5" y="449.9" font-size="12" fill="#555555" text-anchor="end">0.1</text><line x1="49.7" y1="427.8" x2="55.7" y2="427.8" stroke="#a8a8a8" stroke-width="0.8"/><text x="48.5" y="431.5" font-size="12" fill="#555555" text-anchor="end">0.2</text><line x1="49.7" y1="409.4" x2="55.7" y2="409.4" stroke="#a8a8a8" stroke-width="0.8"/><text x="48.5" y="413.1" font-size="12" fill="#555555" text-anchor="end">0.3</text><line x1="55.2" y1="464.7" x2="55.2" y2="471.2" stroke="#a8a8a8" stroke-width="0.8"/><text x="55.2" y="481.2" font-size="12" fill="#555555" text-anchor="middle">10</text><line x1="79.7" y1="464.7" x2="79.7" y2="471.2" stroke="#a8a8a8" stroke-width="0.8"/><text x="79.7" y="481.2" font-size="12" fill="#555555" text-anchor="middle">15</text><line x1="104.2" y1="464.7" x2="104.2" y2="471.2" stroke="#a8a8a8" stroke-width="0.8"/><text x="104.2" y="481.2" font-size="12" fill="#555555" text-anchor="middle">20</text><line x1="128.7" y1="464.7" x2="128.7" y2="471.2" stroke="#a8a8a8" stroke-width="0.8"/><text x="128.7" y="481.2" font-size="12" fill="#555555" text-anchor="middle">25</text><path d="M49.7 401.4V465.9" fill="none" stroke="#222" stroke-width="1.1"/><path d="M49.2 464.7H134" fill="none" stroke="#111" stroke-width="1.2"/><text x="110.7" y="413.8" font-size="12" fill="#262626" textLength="25.5" lengthAdjust="spacingAndGlyphs">Start</text><text x="77.8" y="493.2" font-size="12" fill="#262626" textLength="27" lengthAdjust="spacingAndGlyphs">Week</text>
<path d="M166.3 464.5V456.6H170V435.9H173.8V413.3H177.5V403.3H181.2V421.3H185V445.9H188.7V458H192.4V463H196.1V464.5Z" fill="#0000ff"/><rect x="188.7" y="462.6" width="3.7" height="1.9" fill="none" stroke="#ff33ff" stroke-width="1.2"/><rect x="192.4" y="454.4" width="3.7" height="10.1" fill="none" stroke="#ff33ff" stroke-width="1.2"/><rect x="196.1" y="440" width="3.7" height="24.5" fill="none" stroke="#ff33ff" stroke-width="1.2"/><rect x="199.9" y="422" width="3.7" height="42.5" fill="none" stroke="#ff33ff" stroke-width="1.2"/><rect x="203.6" y="411.5" width="3.7" height="53" fill="none" stroke="#ff33ff" stroke-width="1.2"/><rect x="207.3" y="423.1" width="3.7" height="41.4" fill="none" stroke="#ff33ff" stroke-width="1.2"/><rect x="211.1" y="439.5" width="3.7" height="25" fill="none" stroke="#ff33ff" stroke-width="1.2"/><rect x="214.8" y="449.3" width="3.7" height="15.2" fill="none" stroke="#ff33ff" stroke-width="1.2"/><rect x="218.5" y="458.7" width="3.7" height="5.8" fill="none" stroke="#ff33ff" stroke-width="1.2"/><rect x="222.3" y="462.8" width="3.7" height="1.7" fill="none" stroke="#ff33ff" stroke-width="1.2"/><rect x="226" y="464.6" width="3.7" height="0.3" fill="none" stroke="#ff33ff" stroke-width="1.2"/><line x1="155.4" y1="442.5" x2="161.4" y2="442.5" stroke="#a8a8a8" stroke-width="0.8"/><text x="154.2" y="446.2" font-size="12" fill="#555555" text-anchor="end">0.1</text><line x1="155.4" y1="419.7" x2="161.4" y2="419.7" stroke="#a8a8a8" stroke-width="0.8"/><text x="154.2" y="423.4" font-size="12" fill="#555555" text-anchor="end">0.2</text><line x1="171.9" y1="464.5" x2="171.9" y2="471" stroke="#a8a8a8" stroke-width="0.8"/><text x="171.9" y="481" font-size="12" fill="#555555" text-anchor="middle">15</text><line x1="190.6" y1="464.5" x2="190.6" y2="471" stroke="#a8a8a8" stroke-width="0.8"/><text x="190.6" y="481" font-size="12" fill="#555555" text-anchor="middle">20</text><line x1="209.2" y1="464.5" x2="209.2" y2="471" stroke="#a8a8a8" stroke-width="0.8"/><text x="209.2" y="481" font-size="12" fill="#555555" text-anchor="middle">25</text><line x1="227.9" y1="464.5" x2="227.9" y2="471" stroke="#a8a8a8" stroke-width="0.8"/><text x="227.9" y="481" font-size="12" fill="#555555" text-anchor="middle">30</text><path d="M155.4 408.5V465.7" fill="none" stroke="#222" stroke-width="1.1"/><path d="M154.9 464.5H240.4" fill="none" stroke="#111" stroke-width="1.2"/><text x="219" y="413.8" font-size="12" fill="#262626" textLength="20" lengthAdjust="spacingAndGlyphs">End</text><text x="186" y="493.2" font-size="12" fill="#262626" textLength="27.2" lengthAdjust="spacingAndGlyphs">Week</text>
<path d="M261.3 464.5V438.5H269.2V403.3H277V456.4H284.9V464.5H292.7V464.5Z" fill="#0000ff"/><rect x="261.3" y="464" width="7.8" height="0.5" fill="none" stroke="#ff33ff" stroke-width="1.2"/><rect x="277" y="463" width="7.8" height="1.5" fill="none" stroke="#ff33ff" stroke-width="1.2"/><rect x="284.9" y="431.7" width="7.8" height="32.8" fill="none" stroke="#ff33ff" stroke-width="1.2"/><rect x="292.7" y="420.9" width="7.8" height="43.6" fill="none" stroke="#ff33ff" stroke-width="1.2"/><rect x="300.6" y="450.3" width="7.8" height="14.2" fill="none" stroke="#ff33ff" stroke-width="1.2"/><rect x="308.4" y="463.5" width="7.8" height="1" fill="none" stroke="#ff33ff" stroke-width="1.2"/><line x1="258.2" y1="445.4" x2="264.2" y2="445.4" stroke="#a8a8a8" stroke-width="0.8"/><text x="257" y="449.1" font-size="12" fill="#555555" text-anchor="end">0.2</text><line x1="258.2" y1="425.8" x2="264.2" y2="425.8" stroke="#a8a8a8" stroke-width="0.8"/><text x="257" y="429.5" font-size="12" fill="#555555" text-anchor="end">0.4</text><line x1="258.2" y1="406.2" x2="264.2" y2="406.2" stroke="#a8a8a8" stroke-width="0.8"/><text x="257" y="409.9" font-size="12" fill="#555555" text-anchor="end">0.6</text><line x1="273.1" y1="464.5" x2="273.1" y2="471" stroke="#a8a8a8" stroke-width="0.8"/><text x="273.1" y="481" font-size="12" fill="#555555" text-anchor="middle">2</text><line x1="304.5" y1="464.5" x2="304.5" y2="471" stroke="#a8a8a8" stroke-width="0.8"/><text x="304.5" y="481" font-size="12" fill="#555555" text-anchor="middle">6</text><line x1="335.9" y1="464.5" x2="335.9" y2="471" stroke="#a8a8a8" stroke-width="0.8"/><text x="335.9" y="481" font-size="12" fill="#555555" text-anchor="middle">10</text><path d="M258.2 405.8V465.7" fill="none" stroke="#222" stroke-width="1.1"/><path d="M257.7 464.5H342.9" fill="none" stroke="#111" stroke-width="1.2"/><text x="309.5" y="413.8" font-size="12" fill="#262626" textLength="34.8" lengthAdjust="spacingAndGlyphs">Length</text><text x="287" y="493.2" font-size="12" fill="#262626" textLength="31.5" lengthAdjust="spacingAndGlyphs">Weeks</text>
<path d="M429.8 465V404.7H434.7V465Z" fill="#0000ff"/><rect x="429.8" y="404.7" width="4.9" height="60.3" fill="none" stroke="#ff33ff" stroke-width="1.2"/><line x1="372.4" y1="453.2" x2="378.4" y2="453.2" stroke="#a8a8a8" stroke-width="0.8"/><text x="371.2" y="456.9" font-size="12" fill="#555555" text-anchor="end">0.2</text><line x1="372.4" y1="428.9" x2="378.4" y2="428.9" stroke="#a8a8a8" stroke-width="0.8"/><text x="371.2" y="432.6" font-size="12" fill="#555555" text-anchor="end">0.6</text><line x1="372.4" y1="404.7" x2="378.4" y2="404.7" stroke="#a8a8a8" stroke-width="0.8"/><text x="371.2" y="408.4" font-size="12" fill="#555555" text-anchor="end">1.0</text><line x1="378.3" y1="465" x2="378.3" y2="471.5" stroke="#a8a8a8" stroke-width="0.8"/><text x="378.3" y="481.5" font-size="12" fill="#555555" text-anchor="middle">10</text><line x1="402.8" y1="465" x2="402.8" y2="471.5" stroke="#a8a8a8" stroke-width="0.8"/><text x="402.8" y="481.5" font-size="12" fill="#555555" text-anchor="middle">15</text><line x1="427.3" y1="465" x2="427.3" y2="471.5" stroke="#a8a8a8" stroke-width="0.8"/><text x="427.3" y="481.5" font-size="12" fill="#555555" text-anchor="middle">20</text><line x1="451.8" y1="465" x2="451.8" y2="471.5" stroke="#a8a8a8" stroke-width="0.8"/><text x="451.8" y="481.5" font-size="12" fill="#555555" text-anchor="middle">25</text><path d="M372.4 403.7V466.2" fill="none" stroke="#555" stroke-width="1.1"/><path d="M371.9 465H457.7" fill="none" stroke="#111" stroke-width="1.2"/><text x="396.9" y="413.8" font-size="12" fill="#262626" textLength="26.3" lengthAdjust="spacingAndGlyphs">Start</text><text x="402" y="493.2" font-size="12" fill="#262626" textLength="26.5" lengthAdjust="spacingAndGlyphs">Week</text>
<path d="M543.7 465.2V456.3H547.4V405H551.2V459.5H554.9V465.2Z" fill="#0000ff"/><rect x="536.3" y="462.2" width="3.7" height="3" fill="none" stroke="#ff33ff" stroke-width="1.2"/><rect x="540" y="427.9" width="3.7" height="37.3" fill="none" stroke="#ff33ff" stroke-width="1.2"/><rect x="543.7" y="431.8" width="3.7" height="33.4" fill="none" stroke="#ff33ff" stroke-width="1.2"/><rect x="547.4" y="463.4" width="3.7" height="1.8" fill="none" stroke="#ff33ff" stroke-width="1.2"/><line x1="476.7" y1="434.2" x2="482.7" y2="434.2" stroke="#a8a8a8" stroke-width="0.8"/><text x="475.5" y="437.9" font-size="12" fill="#555555" text-anchor="end">0.4</text><line x1="476.7" y1="402.6" x2="482.7" y2="402.6" stroke="#a8a8a8" stroke-width="0.8"/><text x="475.5" y="406.3" font-size="12" fill="#555555" text-anchor="end">0.8</text><line x1="493.5" y1="465.2" x2="493.5" y2="471.7" stroke="#a8a8a8" stroke-width="0.8"/><text x="493.5" y="481.7" font-size="12" fill="#555555" text-anchor="middle">15</text><line x1="512.1" y1="465.2" x2="512.1" y2="471.7" stroke="#a8a8a8" stroke-width="0.8"/><text x="512.1" y="481.7" font-size="12" fill="#555555" text-anchor="middle">20</text><line x1="530.7" y1="465.2" x2="530.7" y2="471.7" stroke="#a8a8a8" stroke-width="0.8"/><text x="530.7" y="481.7" font-size="12" fill="#555555" text-anchor="middle">25</text><line x1="549.3" y1="465.2" x2="549.3" y2="471.7" stroke="#a8a8a8" stroke-width="0.8"/><text x="549.3" y="481.7" font-size="12" fill="#555555" text-anchor="middle">30</text><path d="M476.7 402.2V466.4" fill="none" stroke="#9a9a9a" stroke-width="1.5"/><path d="M476.2 465.2H562" fill="none" stroke="#111" stroke-width="1.2"/><text x="505.2" y="413.8" font-size="12" fill="#262626" textLength="20.6" lengthAdjust="spacingAndGlyphs">End</text><text x="505.2" y="493.2" font-size="12" fill="#262626" textLength="26.3" lengthAdjust="spacingAndGlyphs">Week</text>
<path d="M637.7 465.2V456.3H645.5V405H653.4V459.5H661.2V465.2Z" fill="#0000ff"/><rect x="622" y="462.2" width="7.9" height="3" fill="none" stroke="#ff33ff" stroke-width="1.2"/><rect x="629.8" y="427.9" width="7.9" height="37.3" fill="none" stroke="#ff33ff" stroke-width="1.2"/><rect x="637.7" y="431.8" width="7.9" height="33.4" fill="none" stroke="#ff33ff" stroke-width="1.2"/><rect x="645.5" y="463.4" width="7.9" height="1.8" fill="none" stroke="#ff33ff" stroke-width="1.2"/><line x1="579.3" y1="434.2" x2="585.3" y2="434.2" stroke="#a8a8a8" stroke-width="0.8"/><text x="578.1" y="437.9" font-size="12" fill="#555555" text-anchor="end">0.4</text><line x1="579.3" y1="402.6" x2="585.3" y2="402.6" stroke="#a8a8a8" stroke-width="0.8"/><text x="578.1" y="406.3" font-size="12" fill="#555555" text-anchor="end">0.8</text><line x1="594.5" y1="465.2" x2="594.5" y2="471.7" stroke="#a8a8a8" stroke-width="0.8"/><text x="594.5" y="481.7" font-size="12" fill="#555555" text-anchor="middle">2</text><line x1="625.9" y1="465.2" x2="625.9" y2="471.7" stroke="#a8a8a8" stroke-width="0.8"/><text x="625.9" y="481.7" font-size="12" fill="#555555" text-anchor="middle">6</text><line x1="657.3" y1="465.2" x2="657.3" y2="471.7" stroke="#a8a8a8" stroke-width="0.8"/><text x="657.3" y="481.7" font-size="12" fill="#555555" text-anchor="middle">10</text><path d="M579.3 402.2V466.4" fill="none" stroke="#222" stroke-width="1.1"/><path d="M578.8 465.2H664" fill="none" stroke="#111" stroke-width="1.2"/><text x="595.9" y="413.8" font-size="12" fill="#262626" textLength="35.1" lengthAdjust="spacingAndGlyphs">Length</text><text x="608.3" y="493.2" font-size="12" fill="#262626" textLength="32.2" lengthAdjust="spacingAndGlyphs">Weeks</text>
</svg></body></html>
